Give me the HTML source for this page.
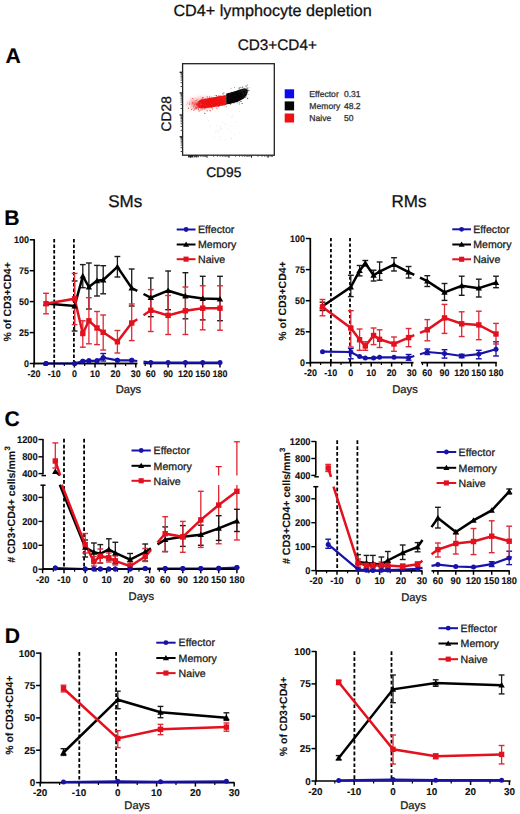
<!DOCTYPE html>
<html><head><meta charset="utf-8"><style>html,body{margin:0;padding:0;background:#fff;}svg{display:block;}</style></head>
<body><svg width="520" height="814" viewBox="0 0 520 814" font-family="Liberation Sans, sans-serif" text-rendering="geometricPrecision">
<rect width="520" height="814" fill="#fff"/>
<text x="272.6" y="15.8" font-size="16.2" font-weight="400" text-anchor="middle" fill="#111" stroke="#111" stroke-width="0.28" >CD4+ lymphocyte depletion</text>
<text x="277.3" y="50.0" font-size="15.3" font-weight="400" text-anchor="middle" fill="#111" stroke="#111" stroke-width="0.28" >CD3+CD4+</text>
<text x="5.6" y="62.6" font-size="21.2" font-weight="700" text-anchor="start" fill="#000" stroke="#000" stroke-width="0.12" >A</text>
<text x="4.3" y="225.0" font-size="21.2" font-weight="700" text-anchor="start" fill="#000" stroke="#000" stroke-width="0.12" >B</text>
<text x="4.5" y="426.0" font-size="21.2" font-weight="700" text-anchor="start" fill="#000" stroke="#000" stroke-width="0.12" >C</text>
<text x="4.7" y="642.6" font-size="21.2" font-weight="700" text-anchor="start" fill="#000" stroke="#000" stroke-width="0.12" >D</text>
<text x="125.2" y="206.9" font-size="17" font-weight="400" text-anchor="middle" fill="#111" stroke="#111" stroke-width="0.28" >SMs</text>
<text x="409.0" y="206.7" font-size="17" font-weight="400" text-anchor="middle" fill="#111" stroke="#111" stroke-width="0.28" >RMs</text>
<rect x="182.6" y="63.7" width="91.7" height="91.5" fill="none" stroke="#222" stroke-width="1.3"/>
<line x1="179.6" y1="72.3" x2="182.6" y2="72.3" stroke="#111" stroke-width="1.3" />
<line x1="179.6" y1="93.0" x2="182.6" y2="93.0" stroke="#111" stroke-width="1.3" />
<line x1="179.6" y1="115.0" x2="182.6" y2="115.0" stroke="#111" stroke-width="1.3" />
<line x1="179.6" y1="136.8" x2="182.6" y2="136.8" stroke="#111" stroke-width="1.3" />
<line x1="180.6" y1="86.5" x2="182.6" y2="86.5" stroke="#333" stroke-width="0.9" />
<line x1="180.6" y1="82.7" x2="182.6" y2="82.7" stroke="#333" stroke-width="0.9" />
<line x1="180.6" y1="80.1" x2="182.6" y2="80.1" stroke="#333" stroke-width="0.9" />
<line x1="180.6" y1="78.0" x2="182.6" y2="78.0" stroke="#333" stroke-width="0.9" />
<line x1="180.6" y1="76.3" x2="182.6" y2="76.3" stroke="#333" stroke-width="0.9" />
<line x1="180.6" y1="74.8" x2="182.6" y2="74.8" stroke="#333" stroke-width="0.9" />
<line x1="180.6" y1="73.6" x2="182.6" y2="73.6" stroke="#333" stroke-width="0.9" />
<line x1="180.6" y1="72.5" x2="182.6" y2="72.5" stroke="#333" stroke-width="0.9" />
<line x1="180.6" y1="108.5" x2="182.6" y2="108.5" stroke="#333" stroke-width="0.9" />
<line x1="180.6" y1="104.7" x2="182.6" y2="104.7" stroke="#333" stroke-width="0.9" />
<line x1="180.6" y1="102.1" x2="182.6" y2="102.1" stroke="#333" stroke-width="0.9" />
<line x1="180.6" y1="100.0" x2="182.6" y2="100.0" stroke="#333" stroke-width="0.9" />
<line x1="180.6" y1="98.3" x2="182.6" y2="98.3" stroke="#333" stroke-width="0.9" />
<line x1="180.6" y1="96.8" x2="182.6" y2="96.8" stroke="#333" stroke-width="0.9" />
<line x1="180.6" y1="95.6" x2="182.6" y2="95.6" stroke="#333" stroke-width="0.9" />
<line x1="180.6" y1="94.5" x2="182.6" y2="94.5" stroke="#333" stroke-width="0.9" />
<line x1="180.6" y1="130.3" x2="182.6" y2="130.3" stroke="#333" stroke-width="0.9" />
<line x1="180.6" y1="126.5" x2="182.6" y2="126.5" stroke="#333" stroke-width="0.9" />
<line x1="180.6" y1="123.9" x2="182.6" y2="123.9" stroke="#333" stroke-width="0.9" />
<line x1="180.6" y1="121.8" x2="182.6" y2="121.8" stroke="#333" stroke-width="0.9" />
<line x1="180.6" y1="120.1" x2="182.6" y2="120.1" stroke="#333" stroke-width="0.9" />
<line x1="180.6" y1="118.6" x2="182.6" y2="118.6" stroke="#333" stroke-width="0.9" />
<line x1="180.6" y1="117.4" x2="182.6" y2="117.4" stroke="#333" stroke-width="0.9" />
<line x1="180.6" y1="116.3" x2="182.6" y2="116.3" stroke="#333" stroke-width="0.9" />
<line x1="180.6" y1="151.5" x2="182.6" y2="151.5" stroke="#333" stroke-width="0.9" />
<line x1="180.6" y1="147.7" x2="182.6" y2="147.7" stroke="#333" stroke-width="0.9" />
<line x1="180.6" y1="145.1" x2="182.6" y2="145.1" stroke="#333" stroke-width="0.9" />
<line x1="180.6" y1="143.0" x2="182.6" y2="143.0" stroke="#333" stroke-width="0.9" />
<line x1="180.6" y1="141.3" x2="182.6" y2="141.3" stroke="#333" stroke-width="0.9" />
<line x1="180.6" y1="139.8" x2="182.6" y2="139.8" stroke="#333" stroke-width="0.9" />
<line x1="180.6" y1="138.6" x2="182.6" y2="138.6" stroke="#333" stroke-width="0.9" />
<line x1="180.6" y1="137.5" x2="182.6" y2="137.5" stroke="#333" stroke-width="0.9" />
<line x1="190.5" y1="155.2" x2="190.5" y2="157.8" stroke="#222" stroke-width="1.0" />
<line x1="207.0" y1="155.2" x2="207.0" y2="157.8" stroke="#222" stroke-width="1.0" />
<line x1="229.0" y1="155.2" x2="229.0" y2="157.8" stroke="#222" stroke-width="1.0" />
<line x1="251.5" y1="155.2" x2="251.5" y2="157.8" stroke="#222" stroke-width="1.0" />
<line x1="268.0" y1="155.2" x2="268.0" y2="157.8" stroke="#222" stroke-width="1.0" />
<line x1="195.5" y1="155.2" x2="195.5" y2="156.8" stroke="#333" stroke-width="0.8" />
<line x1="198.4" y1="155.2" x2="198.4" y2="156.8" stroke="#333" stroke-width="0.8" />
<line x1="200.4" y1="155.2" x2="200.4" y2="156.8" stroke="#333" stroke-width="0.8" />
<line x1="202.0" y1="155.2" x2="202.0" y2="156.8" stroke="#333" stroke-width="0.8" />
<line x1="203.3" y1="155.2" x2="203.3" y2="156.8" stroke="#333" stroke-width="0.8" />
<line x1="204.4" y1="155.2" x2="204.4" y2="156.8" stroke="#333" stroke-width="0.8" />
<line x1="205.4" y1="155.2" x2="205.4" y2="156.8" stroke="#333" stroke-width="0.8" />
<line x1="206.2" y1="155.2" x2="206.2" y2="156.8" stroke="#333" stroke-width="0.8" />
<line x1="213.6" y1="155.2" x2="213.6" y2="156.8" stroke="#333" stroke-width="0.8" />
<line x1="217.5" y1="155.2" x2="217.5" y2="156.8" stroke="#333" stroke-width="0.8" />
<line x1="220.2" y1="155.2" x2="220.2" y2="156.8" stroke="#333" stroke-width="0.8" />
<line x1="222.4" y1="155.2" x2="222.4" y2="156.8" stroke="#333" stroke-width="0.8" />
<line x1="224.1" y1="155.2" x2="224.1" y2="156.8" stroke="#333" stroke-width="0.8" />
<line x1="225.6" y1="155.2" x2="225.6" y2="156.8" stroke="#333" stroke-width="0.8" />
<line x1="226.9" y1="155.2" x2="226.9" y2="156.8" stroke="#333" stroke-width="0.8" />
<line x1="228.0" y1="155.2" x2="228.0" y2="156.8" stroke="#333" stroke-width="0.8" />
<line x1="235.6" y1="155.2" x2="235.6" y2="156.8" stroke="#333" stroke-width="0.8" />
<line x1="239.5" y1="155.2" x2="239.5" y2="156.8" stroke="#333" stroke-width="0.8" />
<line x1="242.2" y1="155.2" x2="242.2" y2="156.8" stroke="#333" stroke-width="0.8" />
<line x1="244.4" y1="155.2" x2="244.4" y2="156.8" stroke="#333" stroke-width="0.8" />
<line x1="246.1" y1="155.2" x2="246.1" y2="156.8" stroke="#333" stroke-width="0.8" />
<line x1="247.6" y1="155.2" x2="247.6" y2="156.8" stroke="#333" stroke-width="0.8" />
<line x1="248.9" y1="155.2" x2="248.9" y2="156.8" stroke="#333" stroke-width="0.8" />
<line x1="250.0" y1="155.2" x2="250.0" y2="156.8" stroke="#333" stroke-width="0.8" />
<line x1="258.1" y1="155.2" x2="258.1" y2="156.8" stroke="#333" stroke-width="0.8" />
<line x1="262.0" y1="155.2" x2="262.0" y2="156.8" stroke="#333" stroke-width="0.8" />
<line x1="264.7" y1="155.2" x2="264.7" y2="156.8" stroke="#333" stroke-width="0.8" />
<line x1="266.9" y1="155.2" x2="266.9" y2="156.8" stroke="#333" stroke-width="0.8" />
<line x1="268.6" y1="155.2" x2="268.6" y2="156.8" stroke="#333" stroke-width="0.8" />
<line x1="270.1" y1="155.2" x2="270.1" y2="156.8" stroke="#333" stroke-width="0.8" />
<line x1="271.4" y1="155.2" x2="271.4" y2="156.8" stroke="#333" stroke-width="0.8" />
<line x1="272.5" y1="155.2" x2="272.5" y2="156.8" stroke="#333" stroke-width="0.8" />
<line x1="188.5" y1="155.2" x2="188.5" y2="157.4" stroke="#111" stroke-width="0.9" />
<line x1="189.5" y1="155.2" x2="189.5" y2="157.4" stroke="#111" stroke-width="0.9" />
<line x1="191.5" y1="155.2" x2="191.5" y2="157.4" stroke="#111" stroke-width="0.9" />
<line x1="192.5" y1="155.2" x2="192.5" y2="157.4" stroke="#111" stroke-width="0.9" />
<line x1="194.0" y1="155.2" x2="194.0" y2="157.4" stroke="#111" stroke-width="0.9" />
<line x1="195.0" y1="155.2" x2="195.0" y2="157.4" stroke="#111" stroke-width="0.9" />
<line x1="196.5" y1="155.2" x2="196.5" y2="157.4" stroke="#111" stroke-width="0.9" />
<line x1="198.0" y1="155.2" x2="198.0" y2="157.4" stroke="#111" stroke-width="0.9" />
<defs><filter id="fb1" x="-20%" y="-50%" width="140%" height="200%"><feGaussianBlur stdDeviation="0.7"/></filter><filter id="fb2" x="-30%" y="-80%" width="160%" height="260%"><feGaussianBlur stdDeviation="2.2"/></filter><clipPath id="cr"><rect x="180" y="80" width="46.4" height="40"/></clipPath><clipPath id="cb"><rect x="226.2" y="80" width="30" height="40"/></clipPath></defs>
<g clip-path="url(#cr)"><ellipse cx="203" cy="103.3" rx="14" ry="5.2" fill="#f25050" fill-opacity="0.55" filter="url(#fb2)"/><path d="M201,99.8 C207,98.4 214,97 220,95.9 L226.6,94.9 L226.6,105 C220,105.9 212,107.2 205,108.3 C199.5,109 196.5,107.2 197.2,104.2 C197.7,101.8 199,100.3 201,99.8Z" fill="#f01414" filter="url(#fb1)"/></g>
<g clip-path="url(#cb)"><path d="M225.5,93.8 C231,92.2 237,90.6 242,89.2 C245,88.4 247.5,88.6 247.8,90.5 C248,93 246,96.5 243.5,98.8 C240.5,100.8 237,102 233,103 C230,103.8 228,104.3 225.5,104.6Z" fill="#070707" filter="url(#fb1)"/></g>
<g><circle cx="199.6" cy="105.5" r="0.58" fill="#ee1111" fill-opacity="0.9"/><circle cx="200.1" cy="105.0" r="0.50" fill="#ee1111" fill-opacity="0.9"/><circle cx="214.1" cy="105.1" r="0.51" fill="#ee1111" fill-opacity="0.9"/><circle cx="211.0" cy="101.2" r="0.43" fill="#ee1111" fill-opacity="0.9"/><circle cx="223.0" cy="103.2" r="0.52" fill="#ee1111" fill-opacity="0.9"/><circle cx="222.1" cy="99.6" r="0.50" fill="#ee1111" fill-opacity="0.9"/><circle cx="210.8" cy="102.9" r="0.48" fill="#ee1111" fill-opacity="0.9"/><circle cx="215.1" cy="102.4" r="0.41" fill="#ee1111" fill-opacity="0.9"/><circle cx="219.3" cy="101.6" r="0.46" fill="#ee1111" fill-opacity="0.9"/><circle cx="215.6" cy="98.7" r="0.51" fill="#ee1111" fill-opacity="0.9"/><circle cx="197.5" cy="104.7" r="0.46" fill="#ee1111" fill-opacity="0.9"/><circle cx="204.8" cy="113.4" r="0.60" fill="#ee1111" fill-opacity="0.9"/><circle cx="217.2" cy="97.5" r="0.43" fill="#ee1111" fill-opacity="0.9"/><circle cx="210.9" cy="104.8" r="0.37" fill="#ee1111" fill-opacity="0.9"/><circle cx="210.9" cy="99.5" r="0.56" fill="#ee1111" fill-opacity="0.9"/><circle cx="193.8" cy="110.1" r="0.56" fill="#ee1111" fill-opacity="0.9"/><circle cx="215.8" cy="101.6" r="0.58" fill="#ee1111" fill-opacity="0.9"/><circle cx="207.4" cy="103.7" r="0.51" fill="#ee1111" fill-opacity="0.9"/><circle cx="211.2" cy="100.1" r="0.37" fill="#ee1111" fill-opacity="0.9"/><circle cx="199.1" cy="110.9" r="0.54" fill="#ee1111" fill-opacity="0.9"/><circle cx="214.7" cy="103.3" r="0.38" fill="#ee1111" fill-opacity="0.9"/><circle cx="224.1" cy="102.1" r="0.39" fill="#ee1111" fill-opacity="0.9"/><circle cx="201.4" cy="102.9" r="0.40" fill="#ee1111" fill-opacity="0.9"/><circle cx="209.5" cy="101.2" r="0.51" fill="#ee1111" fill-opacity="0.9"/><circle cx="216.6" cy="103.5" r="0.40" fill="#ee1111" fill-opacity="0.9"/><circle cx="207.2" cy="110.7" r="0.55" fill="#ee1111" fill-opacity="0.9"/><circle cx="204.1" cy="109.3" r="0.40" fill="#ee1111" fill-opacity="0.9"/><circle cx="196.9" cy="108.3" r="0.51" fill="#ee1111" fill-opacity="0.9"/><circle cx="211.5" cy="104.5" r="0.54" fill="#ee1111" fill-opacity="0.9"/><circle cx="206.6" cy="105.3" r="0.37" fill="#ee1111" fill-opacity="0.9"/><circle cx="219.5" cy="103.0" r="0.41" fill="#ee1111" fill-opacity="0.9"/><circle cx="203.4" cy="102.1" r="0.46" fill="#ee1111" fill-opacity="0.9"/><circle cx="219.5" cy="100.1" r="0.49" fill="#ee1111" fill-opacity="0.9"/><circle cx="213.6" cy="100.6" r="0.39" fill="#ee1111" fill-opacity="0.9"/><circle cx="223.2" cy="97.5" r="0.41" fill="#ee1111" fill-opacity="0.9"/><circle cx="215.1" cy="106.1" r="0.59" fill="#ee1111" fill-opacity="0.9"/><circle cx="216.9" cy="108.1" r="0.57" fill="#ee1111" fill-opacity="0.9"/><circle cx="202.9" cy="102.0" r="0.38" fill="#ee1111" fill-opacity="0.9"/><circle cx="211.0" cy="107.0" r="0.41" fill="#ee1111" fill-opacity="0.9"/><circle cx="215.1" cy="98.2" r="0.42" fill="#ee1111" fill-opacity="0.9"/><circle cx="216.1" cy="105.7" r="0.37" fill="#ee1111" fill-opacity="0.9"/><circle cx="211.5" cy="106.0" r="0.56" fill="#ee1111" fill-opacity="0.9"/><circle cx="204.8" cy="101.9" r="0.58" fill="#ee1111" fill-opacity="0.9"/><circle cx="210.4" cy="103.0" r="0.42" fill="#ee1111" fill-opacity="0.9"/><circle cx="207.2" cy="103.4" r="0.39" fill="#ee1111" fill-opacity="0.9"/><circle cx="202.5" cy="106.7" r="0.38" fill="#ee1111" fill-opacity="0.9"/><circle cx="198.4" cy="109.2" r="0.60" fill="#ee1111" fill-opacity="0.9"/><circle cx="202.8" cy="100.1" r="0.50" fill="#ee1111" fill-opacity="0.9"/><circle cx="211.4" cy="103.0" r="0.35" fill="#ee1111" fill-opacity="0.9"/><circle cx="221.2" cy="98.3" r="0.59" fill="#ee1111" fill-opacity="0.9"/><circle cx="222.0" cy="101.1" r="0.47" fill="#ee1111" fill-opacity="0.9"/><circle cx="209.1" cy="100.2" r="0.60" fill="#ee1111" fill-opacity="0.9"/><circle cx="219.5" cy="102.6" r="0.53" fill="#ee1111" fill-opacity="0.9"/><circle cx="221.3" cy="97.9" r="0.53" fill="#ee1111" fill-opacity="0.9"/><circle cx="215.1" cy="95.5" r="0.44" fill="#ee1111" fill-opacity="0.9"/><circle cx="202.8" cy="98.1" r="0.57" fill="#ee1111" fill-opacity="0.9"/><circle cx="197.0" cy="107.4" r="0.57" fill="#ee1111" fill-opacity="0.9"/><circle cx="199.3" cy="102.6" r="0.45" fill="#ee1111" fill-opacity="0.9"/><circle cx="199.9" cy="102.3" r="0.37" fill="#ee1111" fill-opacity="0.9"/><circle cx="192.8" cy="98.5" r="0.57" fill="#ee1111" fill-opacity="0.9"/><circle cx="208.8" cy="99.9" r="0.53" fill="#ee1111" fill-opacity="0.9"/><circle cx="202.0" cy="102.4" r="0.56" fill="#ee1111" fill-opacity="0.9"/><circle cx="222.2" cy="102.9" r="0.36" fill="#ee1111" fill-opacity="0.9"/><circle cx="202.2" cy="102.0" r="0.41" fill="#ee1111" fill-opacity="0.9"/><circle cx="206.8" cy="99.9" r="0.50" fill="#ee1111" fill-opacity="0.9"/><circle cx="215.7" cy="100.6" r="0.35" fill="#ee1111" fill-opacity="0.9"/><circle cx="206.0" cy="107.4" r="0.40" fill="#ee1111" fill-opacity="0.9"/><circle cx="218.9" cy="106.6" r="0.51" fill="#ee1111" fill-opacity="0.9"/><circle cx="193.3" cy="107.6" r="0.43" fill="#ee1111" fill-opacity="0.9"/><circle cx="207.1" cy="101.4" r="0.46" fill="#ee1111" fill-opacity="0.9"/><circle cx="216.5" cy="95.5" r="0.57" fill="#ee1111" fill-opacity="0.9"/><circle cx="201.6" cy="106.6" r="0.43" fill="#ee1111" fill-opacity="0.9"/><circle cx="216.5" cy="104.1" r="0.56" fill="#ee1111" fill-opacity="0.9"/><circle cx="217.8" cy="97.6" r="0.59" fill="#ee1111" fill-opacity="0.9"/><circle cx="209.1" cy="104.5" r="0.46" fill="#ee1111" fill-opacity="0.9"/><circle cx="209.1" cy="104.7" r="0.45" fill="#ee1111" fill-opacity="0.9"/><circle cx="203.0" cy="101.4" r="0.43" fill="#ee1111" fill-opacity="0.9"/><circle cx="222.8" cy="93.5" r="0.46" fill="#ee1111" fill-opacity="0.9"/><circle cx="211.9" cy="102.6" r="0.57" fill="#ee1111" fill-opacity="0.9"/><circle cx="222.9" cy="101.6" r="0.49" fill="#ee1111" fill-opacity="0.9"/><circle cx="204.5" cy="108.3" r="0.35" fill="#ee1111" fill-opacity="0.9"/><circle cx="216.2" cy="104.0" r="0.36" fill="#ee1111" fill-opacity="0.9"/><circle cx="213.0" cy="100.2" r="0.39" fill="#ee1111" fill-opacity="0.9"/><circle cx="221.5" cy="101.8" r="0.46" fill="#ee1111" fill-opacity="0.9"/><circle cx="201.5" cy="101.0" r="0.55" fill="#ee1111" fill-opacity="0.9"/><circle cx="222.5" cy="99.3" r="0.40" fill="#ee1111" fill-opacity="0.9"/><circle cx="204.7" cy="103.8" r="0.35" fill="#ee1111" fill-opacity="0.9"/><circle cx="196.8" cy="105.6" r="0.39" fill="#ee1111" fill-opacity="0.9"/><circle cx="208.9" cy="105.4" r="0.52" fill="#ee1111" fill-opacity="0.9"/><circle cx="198.4" cy="104.1" r="0.54" fill="#ee1111" fill-opacity="0.9"/><circle cx="198.2" cy="107.8" r="0.58" fill="#ee1111" fill-opacity="0.9"/><circle cx="209.2" cy="101.2" r="0.46" fill="#ee1111" fill-opacity="0.9"/><circle cx="196.9" cy="100.3" r="0.44" fill="#ee1111" fill-opacity="0.9"/><circle cx="194.1" cy="102.8" r="0.55" fill="#ee1111" fill-opacity="0.9"/><circle cx="218.9" cy="100.0" r="0.51" fill="#ee1111" fill-opacity="0.9"/><circle cx="213.8" cy="106.4" r="0.55" fill="#ee1111" fill-opacity="0.9"/><circle cx="201.5" cy="100.5" r="0.40" fill="#ee1111" fill-opacity="0.9"/><circle cx="220.4" cy="100.3" r="0.55" fill="#ee1111" fill-opacity="0.9"/><circle cx="202.0" cy="109.7" r="0.56" fill="#ee1111" fill-opacity="0.9"/><circle cx="208.0" cy="103.9" r="0.46" fill="#ee1111" fill-opacity="0.9"/><circle cx="196.2" cy="103.4" r="0.47" fill="#ee1111" fill-opacity="0.9"/><circle cx="225.2" cy="100.9" r="0.37" fill="#ee1111" fill-opacity="0.9"/><circle cx="211.6" cy="100.6" r="0.43" fill="#ee1111" fill-opacity="0.9"/><circle cx="211.1" cy="100.9" r="0.39" fill="#ee1111" fill-opacity="0.9"/><circle cx="196.4" cy="104.4" r="0.56" fill="#ee1111" fill-opacity="0.9"/><circle cx="202.4" cy="97.4" r="0.47" fill="#ee1111" fill-opacity="0.9"/><circle cx="213.4" cy="101.6" r="0.41" fill="#ee1111" fill-opacity="0.9"/><circle cx="203.1" cy="103.4" r="0.53" fill="#ee1111" fill-opacity="0.9"/><circle cx="203.4" cy="101.0" r="0.56" fill="#ee1111" fill-opacity="0.9"/><circle cx="203.2" cy="102.8" r="0.45" fill="#ee1111" fill-opacity="0.9"/><circle cx="220.3" cy="95.7" r="0.40" fill="#ee1111" fill-opacity="0.9"/><circle cx="223.2" cy="94.2" r="0.48" fill="#ee1111" fill-opacity="0.9"/><circle cx="204.9" cy="102.6" r="0.48" fill="#ee1111" fill-opacity="0.9"/><circle cx="198.4" cy="104.5" r="0.36" fill="#ee1111" fill-opacity="0.9"/><circle cx="220.1" cy="100.2" r="0.45" fill="#ee1111" fill-opacity="0.9"/><circle cx="213.4" cy="98.5" r="0.47" fill="#ee1111" fill-opacity="0.9"/><circle cx="208.9" cy="101.8" r="0.48" fill="#ee1111" fill-opacity="0.9"/><circle cx="191.7" cy="109.5" r="0.58" fill="#ee1111" fill-opacity="0.9"/><circle cx="208.8" cy="106.1" r="0.38" fill="#ee1111" fill-opacity="0.9"/><circle cx="195.7" cy="107.2" r="0.58" fill="#ee1111" fill-opacity="0.9"/><circle cx="202.7" cy="104.2" r="0.40" fill="#ee1111" fill-opacity="0.9"/><circle cx="195.7" cy="100.6" r="0.38" fill="#ee1111" fill-opacity="0.9"/><circle cx="210.3" cy="101.9" r="0.40" fill="#ee1111" fill-opacity="0.9"/><circle cx="211.8" cy="106.7" r="0.43" fill="#ee1111" fill-opacity="0.9"/><circle cx="202.7" cy="107.0" r="0.38" fill="#ee1111" fill-opacity="0.9"/><circle cx="209.5" cy="101.2" r="0.48" fill="#ee1111" fill-opacity="0.9"/><circle cx="210.0" cy="104.5" r="0.48" fill="#ee1111" fill-opacity="0.9"/><circle cx="202.4" cy="105.0" r="0.45" fill="#ee1111" fill-opacity="0.9"/><circle cx="205.1" cy="103.1" r="0.40" fill="#ee1111" fill-opacity="0.9"/><circle cx="201.8" cy="101.0" r="0.48" fill="#ee1111" fill-opacity="0.9"/><circle cx="216.9" cy="98.2" r="0.56" fill="#ee1111" fill-opacity="0.9"/><circle cx="211.5" cy="107.1" r="0.55" fill="#ee1111" fill-opacity="0.9"/><circle cx="216.1" cy="100.1" r="0.43" fill="#ee1111" fill-opacity="0.9"/><circle cx="215.3" cy="100.8" r="0.60" fill="#ee1111" fill-opacity="0.9"/><circle cx="213.5" cy="101.0" r="0.41" fill="#ee1111" fill-opacity="0.9"/><circle cx="209.0" cy="100.5" r="0.37" fill="#ee1111" fill-opacity="0.9"/><circle cx="214.4" cy="99.2" r="0.55" fill="#ee1111" fill-opacity="0.9"/><circle cx="216.1" cy="103.7" r="0.52" fill="#ee1111" fill-opacity="0.9"/><circle cx="215.7" cy="101.9" r="0.52" fill="#ee1111" fill-opacity="0.9"/><circle cx="217.6" cy="103.6" r="0.54" fill="#ee1111" fill-opacity="0.9"/><circle cx="197.1" cy="104.7" r="0.40" fill="#ee1111" fill-opacity="0.9"/><circle cx="213.6" cy="102.6" r="0.36" fill="#ee1111" fill-opacity="0.9"/><circle cx="200.3" cy="103.1" r="0.49" fill="#ee1111" fill-opacity="0.9"/><circle cx="213.3" cy="103.5" r="0.40" fill="#ee1111" fill-opacity="0.9"/><circle cx="223.9" cy="92.8" r="0.58" fill="#ee1111" fill-opacity="0.9"/><circle cx="212.5" cy="102.8" r="0.59" fill="#ee1111" fill-opacity="0.9"/><circle cx="195.9" cy="106.2" r="0.43" fill="#ee1111" fill-opacity="0.9"/><circle cx="200.0" cy="105.0" r="0.46" fill="#ee1111" fill-opacity="0.9"/><circle cx="208.9" cy="102.5" r="0.53" fill="#ee1111" fill-opacity="0.9"/><circle cx="213.0" cy="100.6" r="0.46" fill="#ee1111" fill-opacity="0.9"/><circle cx="209.4" cy="99.7" r="0.40" fill="#ee1111" fill-opacity="0.9"/><circle cx="215.2" cy="104.7" r="0.35" fill="#ee1111" fill-opacity="0.9"/><circle cx="222.0" cy="97.3" r="0.53" fill="#ee1111" fill-opacity="0.9"/><circle cx="217.7" cy="98.2" r="0.45" fill="#ee1111" fill-opacity="0.9"/><circle cx="201.8" cy="102.0" r="0.60" fill="#ee1111" fill-opacity="0.9"/><circle cx="212.2" cy="100.1" r="0.58" fill="#ee1111" fill-opacity="0.9"/><circle cx="209.5" cy="97.7" r="0.55" fill="#ee1111" fill-opacity="0.9"/><circle cx="195.0" cy="108.6" r="0.57" fill="#ee1111" fill-opacity="0.9"/><circle cx="205.1" cy="98.8" r="0.54" fill="#ee1111" fill-opacity="0.9"/><circle cx="198.7" cy="107.1" r="0.37" fill="#ee1111" fill-opacity="0.9"/><circle cx="204.8" cy="106.2" r="0.35" fill="#ee1111" fill-opacity="0.9"/><circle cx="202.5" cy="107.1" r="0.51" fill="#ee1111" fill-opacity="0.9"/><circle cx="212.3" cy="109.1" r="0.52" fill="#ee1111" fill-opacity="0.9"/><circle cx="203.5" cy="107.3" r="0.49" fill="#ee1111" fill-opacity="0.9"/><circle cx="201.7" cy="103.4" r="0.60" fill="#ee1111" fill-opacity="0.9"/><circle cx="201.7" cy="100.5" r="0.54" fill="#ee1111" fill-opacity="0.9"/><circle cx="211.8" cy="102.2" r="0.50" fill="#ee1111" fill-opacity="0.9"/><circle cx="209.5" cy="100.5" r="0.45" fill="#ee1111" fill-opacity="0.9"/><circle cx="215.3" cy="102.3" r="0.44" fill="#ee1111" fill-opacity="0.9"/><circle cx="215.3" cy="103.0" r="0.58" fill="#ee1111" fill-opacity="0.9"/><circle cx="200.4" cy="103.2" r="0.59" fill="#ee1111" fill-opacity="0.9"/><circle cx="200.0" cy="100.3" r="0.37" fill="#ee1111" fill-opacity="0.9"/><circle cx="198.3" cy="101.8" r="0.36" fill="#ee1111" fill-opacity="0.9"/><circle cx="214.5" cy="101.1" r="0.47" fill="#ee1111" fill-opacity="0.9"/><circle cx="214.8" cy="104.7" r="0.50" fill="#ee1111" fill-opacity="0.9"/><circle cx="200.9" cy="105.8" r="0.50" fill="#ee1111" fill-opacity="0.9"/><circle cx="205.4" cy="105.2" r="0.51" fill="#ee1111" fill-opacity="0.9"/><circle cx="203.6" cy="102.8" r="0.53" fill="#ee1111" fill-opacity="0.9"/><circle cx="209.6" cy="103.1" r="0.41" fill="#ee1111" fill-opacity="0.9"/><circle cx="214.8" cy="102.2" r="0.54" fill="#ee1111" fill-opacity="0.9"/><circle cx="196.0" cy="108.9" r="0.54" fill="#ee1111" fill-opacity="0.9"/><circle cx="213.1" cy="101.7" r="0.58" fill="#ee1111" fill-opacity="0.9"/><circle cx="201.2" cy="105.5" r="0.59" fill="#ee1111" fill-opacity="0.9"/><circle cx="210.4" cy="106.1" r="0.58" fill="#ee1111" fill-opacity="0.9"/><circle cx="208.4" cy="99.7" r="0.59" fill="#ee1111" fill-opacity="0.9"/><circle cx="214.7" cy="98.2" r="0.38" fill="#ee1111" fill-opacity="0.9"/><circle cx="203.3" cy="101.5" r="0.40" fill="#ee1111" fill-opacity="0.9"/><circle cx="219.9" cy="102.1" r="0.38" fill="#ee1111" fill-opacity="0.9"/><circle cx="198.2" cy="106.1" r="0.46" fill="#ee1111" fill-opacity="0.9"/><circle cx="209.1" cy="106.6" r="0.45" fill="#ee1111" fill-opacity="0.9"/><circle cx="211.8" cy="98.8" r="0.60" fill="#ee1111" fill-opacity="0.9"/><circle cx="223.2" cy="99.0" r="0.41" fill="#ee1111" fill-opacity="0.9"/><circle cx="223.6" cy="104.3" r="0.55" fill="#ee1111" fill-opacity="0.9"/><circle cx="204.3" cy="101.6" r="0.42" fill="#ee1111" fill-opacity="0.9"/><circle cx="205.6" cy="99.9" r="0.50" fill="#ee1111" fill-opacity="0.9"/><circle cx="200.5" cy="100.6" r="0.40" fill="#ee1111" fill-opacity="0.9"/><circle cx="210.2" cy="110.7" r="0.58" fill="#ee1111" fill-opacity="0.9"/><circle cx="211.7" cy="101.7" r="0.37" fill="#ee1111" fill-opacity="0.9"/><circle cx="208.8" cy="105.8" r="0.51" fill="#ee1111" fill-opacity="0.9"/><circle cx="218.5" cy="103.3" r="0.37" fill="#ee1111" fill-opacity="0.9"/><circle cx="220.9" cy="103.0" r="0.49" fill="#ee1111" fill-opacity="0.9"/><circle cx="204.4" cy="101.5" r="0.47" fill="#ee1111" fill-opacity="0.9"/><circle cx="211.9" cy="104.9" r="0.54" fill="#ee1111" fill-opacity="0.9"/><circle cx="211.8" cy="101.3" r="0.38" fill="#ee1111" fill-opacity="0.9"/><circle cx="214.3" cy="98.1" r="0.54" fill="#ee1111" fill-opacity="0.9"/><circle cx="212.0" cy="105.2" r="0.41" fill="#ee1111" fill-opacity="0.9"/><circle cx="213.0" cy="99.5" r="0.51" fill="#ee1111" fill-opacity="0.9"/><circle cx="217.5" cy="101.1" r="0.49" fill="#ee1111" fill-opacity="0.9"/><circle cx="209.5" cy="96.2" r="0.46" fill="#ee1111" fill-opacity="0.9"/><circle cx="207.4" cy="104.0" r="0.57" fill="#ee1111" fill-opacity="0.9"/><circle cx="213.1" cy="102.6" r="0.49" fill="#ee1111" fill-opacity="0.9"/><circle cx="197.1" cy="105.2" r="0.42" fill="#ee1111" fill-opacity="0.9"/><circle cx="210.5" cy="101.4" r="0.40" fill="#ee1111" fill-opacity="0.9"/><circle cx="208.2" cy="101.9" r="0.43" fill="#ee1111" fill-opacity="0.9"/><circle cx="208.0" cy="98.5" r="0.42" fill="#ee1111" fill-opacity="0.9"/><circle cx="215.0" cy="103.9" r="0.53" fill="#ee1111" fill-opacity="0.9"/><circle cx="207.2" cy="104.2" r="0.53" fill="#ee1111" fill-opacity="0.9"/><circle cx="192.7" cy="102.8" r="0.58" fill="#ee1111" fill-opacity="0.9"/><circle cx="217.8" cy="99.7" r="0.55" fill="#ee1111" fill-opacity="0.9"/><circle cx="207.5" cy="105.4" r="0.45" fill="#ee1111" fill-opacity="0.9"/><circle cx="210.1" cy="105.3" r="0.44" fill="#ee1111" fill-opacity="0.9"/><circle cx="204.4" cy="105.8" r="0.45" fill="#ee1111" fill-opacity="0.9"/><circle cx="213.7" cy="105.5" r="0.55" fill="#ee1111" fill-opacity="0.9"/><circle cx="194.3" cy="103.9" r="0.49" fill="#ee1111" fill-opacity="0.9"/><circle cx="216.4" cy="105.9" r="0.57" fill="#ee1111" fill-opacity="0.9"/><circle cx="209.6" cy="103.3" r="0.48" fill="#ee1111" fill-opacity="0.9"/><circle cx="199.4" cy="103.4" r="0.59" fill="#ee1111" fill-opacity="0.9"/><circle cx="201.1" cy="99.9" r="0.37" fill="#ee1111" fill-opacity="0.9"/><circle cx="195.7" cy="103.6" r="0.37" fill="#ee1111" fill-opacity="0.9"/><circle cx="222.1" cy="102.9" r="0.57" fill="#ee1111" fill-opacity="0.9"/><circle cx="220.4" cy="102.9" r="0.39" fill="#ee1111" fill-opacity="0.9"/><circle cx="209.7" cy="98.5" r="0.41" fill="#ee1111" fill-opacity="0.9"/><circle cx="212.7" cy="107.0" r="0.48" fill="#ee1111" fill-opacity="0.9"/><circle cx="210.8" cy="99.6" r="0.43" fill="#ee1111" fill-opacity="0.9"/><circle cx="222.4" cy="99.6" r="0.47" fill="#ee1111" fill-opacity="0.9"/><circle cx="196.8" cy="103.8" r="0.53" fill="#ee1111" fill-opacity="0.9"/><circle cx="217.5" cy="99.8" r="0.56" fill="#ee1111" fill-opacity="0.9"/><circle cx="201.7" cy="99.1" r="0.55" fill="#ee1111" fill-opacity="0.9"/><circle cx="219.0" cy="95.8" r="0.59" fill="#ee1111" fill-opacity="0.9"/><circle cx="203.4" cy="101.0" r="0.53" fill="#ee1111" fill-opacity="0.9"/><circle cx="212.9" cy="99.2" r="0.46" fill="#ee1111" fill-opacity="0.9"/><circle cx="218.5" cy="104.9" r="0.60" fill="#ee1111" fill-opacity="0.9"/><circle cx="206.3" cy="104.5" r="0.40" fill="#ee1111" fill-opacity="0.9"/><circle cx="203.7" cy="104.8" r="0.59" fill="#ee1111" fill-opacity="0.9"/><circle cx="216.8" cy="102.3" r="0.38" fill="#ee1111" fill-opacity="0.9"/><circle cx="201.2" cy="100.1" r="0.39" fill="#ee1111" fill-opacity="0.9"/><circle cx="218.7" cy="102.3" r="0.50" fill="#ee1111" fill-opacity="0.9"/><circle cx="211.9" cy="101.8" r="0.38" fill="#ee1111" fill-opacity="0.9"/><circle cx="212.4" cy="104.1" r="0.41" fill="#ee1111" fill-opacity="0.9"/><circle cx="207.7" cy="99.2" r="0.41" fill="#ee1111" fill-opacity="0.9"/><circle cx="212.7" cy="104.3" r="0.39" fill="#ee1111" fill-opacity="0.9"/><circle cx="210.3" cy="100.0" r="0.49" fill="#ee1111" fill-opacity="0.9"/><circle cx="214.0" cy="98.9" r="0.42" fill="#ee1111" fill-opacity="0.9"/><circle cx="224.3" cy="96.0" r="0.44" fill="#ee1111" fill-opacity="0.9"/><circle cx="189.6" cy="103.9" r="0.47" fill="#ee1111" fill-opacity="0.9"/><circle cx="210.5" cy="103.4" r="0.59" fill="#ee1111" fill-opacity="0.9"/><circle cx="212.7" cy="99.4" r="0.48" fill="#ee1111" fill-opacity="0.9"/><circle cx="203.2" cy="103.5" r="0.60" fill="#ee1111" fill-opacity="0.9"/><circle cx="206.6" cy="101.4" r="0.35" fill="#ee1111" fill-opacity="0.9"/><circle cx="201.9" cy="104.5" r="0.55" fill="#ee1111" fill-opacity="0.9"/><circle cx="207.3" cy="99.2" r="0.39" fill="#ee1111" fill-opacity="0.9"/><circle cx="214.1" cy="104.0" r="0.41" fill="#ee1111" fill-opacity="0.9"/><circle cx="217.0" cy="98.9" r="0.51" fill="#ee1111" fill-opacity="0.9"/><circle cx="216.7" cy="101.4" r="0.48" fill="#ee1111" fill-opacity="0.9"/><circle cx="218.5" cy="105.2" r="0.35" fill="#ee1111" fill-opacity="0.9"/><circle cx="217.1" cy="96.3" r="0.56" fill="#ee1111" fill-opacity="0.9"/><circle cx="215.9" cy="102.7" r="0.53" fill="#ee1111" fill-opacity="0.9"/><circle cx="218.0" cy="103.1" r="0.47" fill="#ee1111" fill-opacity="0.9"/><circle cx="220.9" cy="99.7" r="0.56" fill="#ee1111" fill-opacity="0.9"/><circle cx="205.0" cy="108.3" r="0.45" fill="#ee1111" fill-opacity="0.9"/><circle cx="213.2" cy="101.4" r="0.56" fill="#ee1111" fill-opacity="0.9"/><circle cx="212.7" cy="105.6" r="0.48" fill="#ee1111" fill-opacity="0.9"/><circle cx="218.8" cy="105.7" r="0.43" fill="#ee1111" fill-opacity="0.9"/><circle cx="208.7" cy="103.9" r="0.43" fill="#ee1111" fill-opacity="0.9"/><circle cx="196.8" cy="105.8" r="0.44" fill="#ee1111" fill-opacity="0.9"/><circle cx="208.5" cy="101.6" r="0.45" fill="#ee1111" fill-opacity="0.9"/><circle cx="188.4" cy="108.1" r="0.56" fill="#ee1111" fill-opacity="0.9"/><circle cx="209.2" cy="102.4" r="0.44" fill="#ee1111" fill-opacity="0.9"/><circle cx="208.4" cy="100.8" r="0.49" fill="#ee1111" fill-opacity="0.9"/><circle cx="208.8" cy="102.9" r="0.60" fill="#ee1111" fill-opacity="0.9"/><circle cx="211.8" cy="100.4" r="0.50" fill="#ee1111" fill-opacity="0.9"/><circle cx="207.9" cy="105.7" r="0.48" fill="#ee1111" fill-opacity="0.9"/><circle cx="207.7" cy="105.5" r="0.45" fill="#ee1111" fill-opacity="0.9"/><circle cx="206.7" cy="101.2" r="0.40" fill="#ee1111" fill-opacity="0.9"/><circle cx="209.1" cy="100.2" r="0.59" fill="#ee1111" fill-opacity="0.9"/><circle cx="197.4" cy="103.0" r="0.43" fill="#ee1111" fill-opacity="0.9"/><circle cx="211.7" cy="101.2" r="0.39" fill="#ee1111" fill-opacity="0.9"/><circle cx="220.6" cy="103.2" r="0.53" fill="#ee1111" fill-opacity="0.9"/><circle cx="213.7" cy="104.6" r="0.56" fill="#ee1111" fill-opacity="0.9"/><circle cx="206.9" cy="102.4" r="0.41" fill="#ee1111" fill-opacity="0.9"/><circle cx="212.4" cy="103.4" r="0.45" fill="#ee1111" fill-opacity="0.9"/><circle cx="200.9" cy="105.7" r="0.51" fill="#ee1111" fill-opacity="0.9"/><circle cx="211.7" cy="97.0" r="0.45" fill="#ee1111" fill-opacity="0.9"/><circle cx="205.7" cy="105.9" r="0.35" fill="#ee1111" fill-opacity="0.9"/><circle cx="199.3" cy="107.0" r="0.60" fill="#ee1111" fill-opacity="0.9"/><circle cx="213.1" cy="97.9" r="0.50" fill="#ee1111" fill-opacity="0.9"/><circle cx="217.6" cy="101.6" r="0.44" fill="#ee1111" fill-opacity="0.9"/><circle cx="207.6" cy="101.9" r="0.44" fill="#ee1111" fill-opacity="0.9"/><circle cx="195.0" cy="104.8" r="0.56" fill="#ee1111" fill-opacity="0.9"/><circle cx="206.2" cy="102.2" r="0.54" fill="#ee1111" fill-opacity="0.9"/><circle cx="218.8" cy="99.0" r="0.44" fill="#ee1111" fill-opacity="0.9"/><circle cx="205.3" cy="103.4" r="0.53" fill="#ee1111" fill-opacity="0.9"/><circle cx="220.2" cy="100.6" r="0.53" fill="#ee1111" fill-opacity="0.9"/><circle cx="212.9" cy="100.5" r="0.59" fill="#ee1111" fill-opacity="0.9"/><circle cx="206.1" cy="101.9" r="0.37" fill="#ee1111" fill-opacity="0.9"/><circle cx="210.4" cy="106.3" r="0.52" fill="#ee1111" fill-opacity="0.9"/><circle cx="200.7" cy="110.0" r="0.44" fill="#ee1111" fill-opacity="0.9"/><circle cx="205.7" cy="103.7" r="0.59" fill="#ee1111" fill-opacity="0.9"/><circle cx="222.1" cy="105.3" r="0.49" fill="#ee1111" fill-opacity="0.9"/><circle cx="199.9" cy="102.9" r="0.42" fill="#ee1111" fill-opacity="0.9"/><circle cx="214.7" cy="98.2" r="0.38" fill="#ee1111" fill-opacity="0.9"/><circle cx="213.2" cy="99.9" r="0.57" fill="#ee1111" fill-opacity="0.9"/><circle cx="210.6" cy="106.3" r="0.56" fill="#ee1111" fill-opacity="0.9"/><circle cx="214.2" cy="105.2" r="0.37" fill="#ee1111" fill-opacity="0.9"/><circle cx="215.2" cy="102.1" r="0.60" fill="#ee1111" fill-opacity="0.9"/><circle cx="221.6" cy="99.1" r="0.43" fill="#ee1111" fill-opacity="0.9"/><circle cx="203.4" cy="99.5" r="0.45" fill="#ee1111" fill-opacity="0.9"/><circle cx="197.1" cy="101.9" r="0.35" fill="#ee1111" fill-opacity="0.9"/><circle cx="213.0" cy="105.2" r="0.39" fill="#ee1111" fill-opacity="0.9"/><circle cx="201.7" cy="106.5" r="0.39" fill="#ee1111" fill-opacity="0.9"/><circle cx="203.4" cy="103.4" r="0.49" fill="#ee1111" fill-opacity="0.9"/><circle cx="204.0" cy="107.2" r="0.36" fill="#ee1111" fill-opacity="0.9"/><circle cx="207.7" cy="101.6" r="0.59" fill="#ee1111" fill-opacity="0.9"/><circle cx="202.3" cy="102.0" r="0.45" fill="#ee1111" fill-opacity="0.9"/><circle cx="200.7" cy="101.1" r="0.54" fill="#ee1111" fill-opacity="0.9"/><circle cx="210.1" cy="99.2" r="0.60" fill="#ee1111" fill-opacity="0.9"/><circle cx="218.8" cy="96.3" r="0.45" fill="#ee1111" fill-opacity="0.9"/><circle cx="200.0" cy="105.8" r="0.58" fill="#ee1111" fill-opacity="0.9"/><circle cx="199.8" cy="103.8" r="0.46" fill="#ee1111" fill-opacity="0.9"/><circle cx="216.2" cy="100.1" r="0.36" fill="#ee1111" fill-opacity="0.9"/><circle cx="207.2" cy="96.9" r="0.53" fill="#ee1111" fill-opacity="0.9"/><circle cx="198.4" cy="101.8" r="0.43" fill="#ee1111" fill-opacity="0.9"/><circle cx="207.3" cy="102.4" r="0.38" fill="#ee1111" fill-opacity="0.9"/><circle cx="200.5" cy="105.3" r="0.45" fill="#ee1111" fill-opacity="0.9"/><circle cx="222.4" cy="101.9" r="0.48" fill="#ee1111" fill-opacity="0.9"/><circle cx="210.5" cy="105.0" r="0.45" fill="#ee1111" fill-opacity="0.9"/><circle cx="210.3" cy="103.6" r="0.58" fill="#ee1111" fill-opacity="0.9"/><circle cx="222.3" cy="99.6" r="0.57" fill="#ee1111" fill-opacity="0.9"/><circle cx="196.5" cy="107.4" r="0.41" fill="#ee1111" fill-opacity="0.9"/><circle cx="209.8" cy="98.9" r="0.58" fill="#ee1111" fill-opacity="0.9"/><circle cx="222.3" cy="103.5" r="0.38" fill="#ee1111" fill-opacity="0.9"/><circle cx="189.7" cy="104.4" r="0.35" fill="#ee1111" fill-opacity="0.9"/><circle cx="210.3" cy="105.0" r="0.43" fill="#ee1111" fill-opacity="0.9"/><circle cx="213.4" cy="99.3" r="0.44" fill="#ee1111" fill-opacity="0.9"/><circle cx="207.8" cy="102.5" r="0.36" fill="#ee1111" fill-opacity="0.9"/><circle cx="215.9" cy="100.1" r="0.47" fill="#ee1111" fill-opacity="0.9"/><circle cx="204.3" cy="103.9" r="0.42" fill="#ee1111" fill-opacity="0.9"/><circle cx="226.0" cy="97.0" r="0.40" fill="#ee1111" fill-opacity="0.9"/><circle cx="214.2" cy="99.6" r="0.47" fill="#ee1111" fill-opacity="0.9"/><circle cx="218.2" cy="106.5" r="0.60" fill="#ee1111" fill-opacity="0.9"/><circle cx="213.6" cy="105.9" r="0.40" fill="#ee1111" fill-opacity="0.9"/><circle cx="212.0" cy="101.6" r="0.38" fill="#ee1111" fill-opacity="0.9"/><circle cx="208.9" cy="100.3" r="0.58" fill="#ee1111" fill-opacity="0.9"/><circle cx="219.2" cy="97.7" r="0.38" fill="#ee1111" fill-opacity="0.9"/><circle cx="203.3" cy="97.3" r="0.46" fill="#ee1111" fill-opacity="0.9"/><circle cx="215.3" cy="102.7" r="0.43" fill="#ee1111" fill-opacity="0.9"/><circle cx="208.6" cy="101.0" r="0.40" fill="#ee1111" fill-opacity="0.9"/><circle cx="211.1" cy="106.7" r="0.55" fill="#ee1111" fill-opacity="0.9"/><circle cx="201.3" cy="107.1" r="0.57" fill="#ee1111" fill-opacity="0.9"/><circle cx="204.8" cy="102.4" r="0.43" fill="#ee1111" fill-opacity="0.9"/><circle cx="221.3" cy="98.8" r="0.42" fill="#ee1111" fill-opacity="0.9"/><circle cx="207.6" cy="102.0" r="0.60" fill="#ee1111" fill-opacity="0.9"/><circle cx="200.3" cy="105.6" r="0.48" fill="#ee1111" fill-opacity="0.9"/><circle cx="221.0" cy="101.8" r="0.42" fill="#ee1111" fill-opacity="0.9"/><circle cx="209.9" cy="107.8" r="0.37" fill="#ee1111" fill-opacity="0.9"/><circle cx="194.2" cy="108.8" r="0.41" fill="#f05050" fill-opacity="0.35"/><circle cx="194.9" cy="107.6" r="0.40" fill="#f05050" fill-opacity="0.35"/><circle cx="207.8" cy="97.8" r="0.36" fill="#f05050" fill-opacity="0.35"/><circle cx="187.9" cy="105.9" r="0.45" fill="#f05050" fill-opacity="0.35"/><circle cx="201.3" cy="102.1" r="0.39" fill="#f05050" fill-opacity="0.35"/><circle cx="189.2" cy="103.3" r="0.44" fill="#f05050" fill-opacity="0.35"/><circle cx="191.2" cy="100.4" r="0.48" fill="#f05050" fill-opacity="0.35"/><circle cx="186.3" cy="104.8" r="0.52" fill="#f05050" fill-opacity="0.35"/><circle cx="200.0" cy="107.9" r="0.39" fill="#f05050" fill-opacity="0.35"/><circle cx="193.1" cy="103.0" r="0.46" fill="#f05050" fill-opacity="0.35"/><circle cx="197.3" cy="99.0" r="0.55" fill="#f05050" fill-opacity="0.35"/><circle cx="196.5" cy="107.2" r="0.41" fill="#f05050" fill-opacity="0.35"/><circle cx="190.9" cy="102.9" r="0.36" fill="#f05050" fill-opacity="0.35"/><circle cx="189.5" cy="102.1" r="0.49" fill="#f05050" fill-opacity="0.35"/><circle cx="198.2" cy="102.5" r="0.39" fill="#f05050" fill-opacity="0.35"/><circle cx="201.8" cy="103.8" r="0.46" fill="#f05050" fill-opacity="0.35"/><circle cx="192.4" cy="105.1" r="0.55" fill="#f05050" fill-opacity="0.35"/><circle cx="205.8" cy="105.7" r="0.49" fill="#f05050" fill-opacity="0.35"/><circle cx="187.5" cy="103.5" r="0.41" fill="#f05050" fill-opacity="0.35"/><circle cx="198.6" cy="105.7" r="0.36" fill="#f05050" fill-opacity="0.35"/><circle cx="193.3" cy="107.9" r="0.48" fill="#f05050" fill-opacity="0.35"/><circle cx="195.4" cy="107.8" r="0.37" fill="#f05050" fill-opacity="0.35"/><circle cx="197.3" cy="102.3" r="0.41" fill="#f05050" fill-opacity="0.35"/><circle cx="200.1" cy="107.2" r="0.56" fill="#f05050" fill-opacity="0.35"/><circle cx="196.4" cy="103.0" r="0.45" fill="#f05050" fill-opacity="0.35"/><circle cx="193.7" cy="105.7" r="0.59" fill="#f05050" fill-opacity="0.35"/><circle cx="201.6" cy="104.3" r="0.54" fill="#f05050" fill-opacity="0.35"/><circle cx="198.8" cy="103.6" r="0.46" fill="#f05050" fill-opacity="0.35"/><circle cx="196.0" cy="103.2" r="0.41" fill="#f05050" fill-opacity="0.35"/><circle cx="198.1" cy="102.8" r="0.45" fill="#f05050" fill-opacity="0.35"/><circle cx="194.4" cy="107.0" r="0.37" fill="#f05050" fill-opacity="0.35"/><circle cx="212.3" cy="104.4" r="0.54" fill="#f05050" fill-opacity="0.35"/><circle cx="195.6" cy="102.0" r="0.41" fill="#f05050" fill-opacity="0.35"/><circle cx="192.5" cy="103.7" r="0.47" fill="#f05050" fill-opacity="0.35"/><circle cx="200.3" cy="102.5" r="0.43" fill="#f05050" fill-opacity="0.35"/><circle cx="202.8" cy="102.9" r="0.36" fill="#f05050" fill-opacity="0.35"/><circle cx="190.1" cy="106.9" r="0.36" fill="#f05050" fill-opacity="0.35"/><circle cx="191.7" cy="108.0" r="0.57" fill="#f05050" fill-opacity="0.35"/><circle cx="187.2" cy="101.7" r="0.47" fill="#f05050" fill-opacity="0.35"/><circle cx="188.5" cy="108.1" r="0.45" fill="#f05050" fill-opacity="0.35"/><circle cx="196.7" cy="102.0" r="0.44" fill="#f05050" fill-opacity="0.35"/><circle cx="198.6" cy="107.0" r="0.39" fill="#f05050" fill-opacity="0.35"/><circle cx="197.0" cy="105.8" r="0.47" fill="#f05050" fill-opacity="0.35"/><circle cx="194.0" cy="107.0" r="0.60" fill="#f05050" fill-opacity="0.35"/><circle cx="191.7" cy="99.4" r="0.40" fill="#f05050" fill-opacity="0.35"/><circle cx="194.6" cy="104.9" r="0.52" fill="#f05050" fill-opacity="0.35"/><circle cx="193.4" cy="106.0" r="0.35" fill="#f05050" fill-opacity="0.35"/><circle cx="197.6" cy="105.8" r="0.45" fill="#f05050" fill-opacity="0.35"/><circle cx="203.0" cy="101.2" r="0.42" fill="#f05050" fill-opacity="0.35"/><circle cx="194.1" cy="105.4" r="0.58" fill="#f05050" fill-opacity="0.35"/><circle cx="190.6" cy="108.2" r="0.53" fill="#f05050" fill-opacity="0.35"/><circle cx="196.8" cy="103.6" r="0.43" fill="#f05050" fill-opacity="0.35"/><circle cx="194.4" cy="104.9" r="0.57" fill="#f05050" fill-opacity="0.35"/><circle cx="192.1" cy="108.7" r="0.48" fill="#f05050" fill-opacity="0.35"/><circle cx="200.7" cy="104.5" r="0.41" fill="#f05050" fill-opacity="0.35"/><circle cx="198.8" cy="104.1" r="0.50" fill="#f05050" fill-opacity="0.35"/><circle cx="200.2" cy="104.1" r="0.46" fill="#f05050" fill-opacity="0.35"/><circle cx="193.4" cy="103.8" r="0.53" fill="#f05050" fill-opacity="0.35"/><circle cx="195.5" cy="108.5" r="0.52" fill="#f05050" fill-opacity="0.35"/><circle cx="198.0" cy="105.3" r="0.42" fill="#f05050" fill-opacity="0.35"/><circle cx="194.8" cy="101.3" r="0.45" fill="#f05050" fill-opacity="0.35"/><circle cx="198.4" cy="102.3" r="0.42" fill="#f05050" fill-opacity="0.35"/><circle cx="194.0" cy="105.8" r="0.36" fill="#f05050" fill-opacity="0.35"/><circle cx="203.0" cy="103.9" r="0.49" fill="#f05050" fill-opacity="0.35"/><circle cx="200.9" cy="96.4" r="0.42" fill="#f05050" fill-opacity="0.35"/><circle cx="190.6" cy="99.0" r="0.40" fill="#f05050" fill-opacity="0.35"/><circle cx="193.2" cy="100.4" r="0.59" fill="#f05050" fill-opacity="0.35"/><circle cx="198.5" cy="102.2" r="0.51" fill="#f05050" fill-opacity="0.35"/><circle cx="200.5" cy="105.1" r="0.45" fill="#f05050" fill-opacity="0.35"/><circle cx="200.6" cy="104.6" r="0.43" fill="#f05050" fill-opacity="0.35"/><circle cx="191.9" cy="104.4" r="0.39" fill="#f05050" fill-opacity="0.35"/><circle cx="191.4" cy="106.3" r="0.39" fill="#f05050" fill-opacity="0.35"/><circle cx="194.1" cy="102.4" r="0.37" fill="#f05050" fill-opacity="0.35"/><circle cx="193.1" cy="106.7" r="0.39" fill="#f05050" fill-opacity="0.35"/><circle cx="189.3" cy="102.5" r="0.49" fill="#f05050" fill-opacity="0.35"/><circle cx="195.7" cy="103.5" r="0.45" fill="#f05050" fill-opacity="0.35"/><circle cx="194.8" cy="104.9" r="0.45" fill="#f05050" fill-opacity="0.35"/><circle cx="201.5" cy="104.6" r="0.50" fill="#f05050" fill-opacity="0.35"/><circle cx="191.6" cy="104.9" r="0.41" fill="#f05050" fill-opacity="0.35"/><circle cx="200.6" cy="103.9" r="0.57" fill="#f05050" fill-opacity="0.35"/><circle cx="192.4" cy="103.5" r="0.52" fill="#f05050" fill-opacity="0.35"/><circle cx="198.2" cy="106.7" r="0.50" fill="#f05050" fill-opacity="0.35"/><circle cx="200.6" cy="102.8" r="0.49" fill="#f05050" fill-opacity="0.35"/><circle cx="204.0" cy="101.5" r="0.51" fill="#f05050" fill-opacity="0.35"/><circle cx="192.3" cy="102.4" r="0.45" fill="#f05050" fill-opacity="0.35"/><circle cx="194.5" cy="109.4" r="0.57" fill="#f05050" fill-opacity="0.35"/><circle cx="187.9" cy="109.0" r="0.36" fill="#f05050" fill-opacity="0.35"/><circle cx="199.9" cy="106.1" r="0.43" fill="#f05050" fill-opacity="0.35"/><circle cx="187.2" cy="110.8" r="0.39" fill="#f05050" fill-opacity="0.35"/><circle cx="197.3" cy="105.8" r="0.52" fill="#f05050" fill-opacity="0.35"/><circle cx="196.0" cy="104.1" r="0.49" fill="#f05050" fill-opacity="0.35"/><circle cx="193.1" cy="105.6" r="0.47" fill="#f05050" fill-opacity="0.35"/><circle cx="192.3" cy="101.5" r="0.51" fill="#f05050" fill-opacity="0.35"/><circle cx="187.2" cy="102.9" r="0.59" fill="#f05050" fill-opacity="0.35"/><circle cx="193.7" cy="106.5" r="0.57" fill="#f05050" fill-opacity="0.35"/><circle cx="192.9" cy="108.4" r="0.52" fill="#f05050" fill-opacity="0.35"/><circle cx="191.0" cy="97.8" r="0.56" fill="#f05050" fill-opacity="0.35"/><circle cx="199.8" cy="106.9" r="0.47" fill="#f05050" fill-opacity="0.35"/><circle cx="191.6" cy="103.4" r="0.42" fill="#f05050" fill-opacity="0.35"/><circle cx="196.0" cy="100.5" r="0.41" fill="#f05050" fill-opacity="0.35"/><circle cx="196.0" cy="106.5" r="0.39" fill="#f05050" fill-opacity="0.35"/><circle cx="193.4" cy="104.1" r="0.37" fill="#f05050" fill-opacity="0.35"/><circle cx="198.1" cy="104.3" r="0.53" fill="#f05050" fill-opacity="0.35"/><circle cx="200.2" cy="105.6" r="0.54" fill="#f05050" fill-opacity="0.35"/><circle cx="193.0" cy="104.5" r="0.57" fill="#f05050" fill-opacity="0.35"/><circle cx="197.1" cy="103.2" r="0.41" fill="#f05050" fill-opacity="0.35"/><circle cx="187.1" cy="104.7" r="0.45" fill="#f05050" fill-opacity="0.35"/><circle cx="195.2" cy="102.0" r="0.53" fill="#f05050" fill-opacity="0.35"/><circle cx="193.9" cy="106.4" r="0.54" fill="#f05050" fill-opacity="0.35"/><circle cx="241.9" cy="89.6" r="0.49" fill="#050505" fill-opacity="0.9"/><circle cx="229.3" cy="101.0" r="0.51" fill="#050505" fill-opacity="0.9"/><circle cx="241.1" cy="89.9" r="0.38" fill="#050505" fill-opacity="0.9"/><circle cx="231.0" cy="101.3" r="0.41" fill="#050505" fill-opacity="0.9"/><circle cx="236.8" cy="96.5" r="0.50" fill="#050505" fill-opacity="0.9"/><circle cx="241.8" cy="97.7" r="0.45" fill="#050505" fill-opacity="0.9"/><circle cx="233.0" cy="95.3" r="0.58" fill="#050505" fill-opacity="0.9"/><circle cx="238.1" cy="95.5" r="0.53" fill="#050505" fill-opacity="0.9"/><circle cx="237.6" cy="96.4" r="0.42" fill="#050505" fill-opacity="0.9"/><circle cx="234.6" cy="87.4" r="0.38" fill="#050505" fill-opacity="0.9"/><circle cx="235.9" cy="97.0" r="0.49" fill="#050505" fill-opacity="0.9"/><circle cx="231.5" cy="98.3" r="0.43" fill="#050505" fill-opacity="0.9"/><circle cx="239.6" cy="89.6" r="0.42" fill="#050505" fill-opacity="0.9"/><circle cx="230.9" cy="100.8" r="0.54" fill="#050505" fill-opacity="0.9"/><circle cx="241.6" cy="94.0" r="0.52" fill="#050505" fill-opacity="0.9"/><circle cx="227.6" cy="97.9" r="0.39" fill="#050505" fill-opacity="0.9"/><circle cx="237.6" cy="97.1" r="0.58" fill="#050505" fill-opacity="0.9"/><circle cx="236.4" cy="99.7" r="0.38" fill="#050505" fill-opacity="0.9"/><circle cx="236.0" cy="96.9" r="0.49" fill="#050505" fill-opacity="0.9"/><circle cx="241.0" cy="97.9" r="0.42" fill="#050505" fill-opacity="0.9"/><circle cx="237.3" cy="99.3" r="0.44" fill="#050505" fill-opacity="0.9"/><circle cx="236.4" cy="97.2" r="0.37" fill="#050505" fill-opacity="0.9"/><circle cx="240.0" cy="93.3" r="0.37" fill="#050505" fill-opacity="0.9"/><circle cx="239.0" cy="98.5" r="0.60" fill="#050505" fill-opacity="0.9"/><circle cx="239.6" cy="100.8" r="0.47" fill="#050505" fill-opacity="0.9"/><circle cx="228.4" cy="101.9" r="0.45" fill="#050505" fill-opacity="0.9"/><circle cx="242.6" cy="95.3" r="0.51" fill="#050505" fill-opacity="0.9"/><circle cx="233.5" cy="95.6" r="0.58" fill="#050505" fill-opacity="0.9"/><circle cx="247.5" cy="85.0" r="0.46" fill="#050505" fill-opacity="0.9"/><circle cx="240.7" cy="90.5" r="0.39" fill="#050505" fill-opacity="0.9"/><circle cx="239.6" cy="95.4" r="0.38" fill="#050505" fill-opacity="0.9"/><circle cx="240.9" cy="95.9" r="0.54" fill="#050505" fill-opacity="0.9"/><circle cx="234.2" cy="100.4" r="0.35" fill="#050505" fill-opacity="0.9"/><circle cx="239.8" cy="102.4" r="0.35" fill="#050505" fill-opacity="0.9"/><circle cx="227.2" cy="98.6" r="0.55" fill="#050505" fill-opacity="0.9"/><circle cx="236.0" cy="93.4" r="0.55" fill="#050505" fill-opacity="0.9"/><circle cx="240.7" cy="90.2" r="0.60" fill="#050505" fill-opacity="0.9"/><circle cx="246.8" cy="96.9" r="0.45" fill="#050505" fill-opacity="0.9"/><circle cx="235.4" cy="94.4" r="0.58" fill="#050505" fill-opacity="0.9"/><circle cx="243.2" cy="94.4" r="0.41" fill="#050505" fill-opacity="0.9"/><circle cx="232.7" cy="99.4" r="0.51" fill="#050505" fill-opacity="0.9"/><circle cx="238.3" cy="92.9" r="0.51" fill="#050505" fill-opacity="0.9"/><circle cx="233.9" cy="99.0" r="0.58" fill="#050505" fill-opacity="0.9"/><circle cx="235.5" cy="97.8" r="0.43" fill="#050505" fill-opacity="0.9"/><circle cx="236.3" cy="94.2" r="0.54" fill="#050505" fill-opacity="0.9"/><circle cx="229.0" cy="97.6" r="0.39" fill="#050505" fill-opacity="0.9"/><circle cx="238.8" cy="96.4" r="0.44" fill="#050505" fill-opacity="0.9"/><circle cx="235.9" cy="96.6" r="0.48" fill="#050505" fill-opacity="0.9"/><circle cx="232.7" cy="99.1" r="0.48" fill="#050505" fill-opacity="0.9"/><circle cx="239.9" cy="94.4" r="0.57" fill="#050505" fill-opacity="0.9"/><circle cx="232.7" cy="102.1" r="0.38" fill="#050505" fill-opacity="0.9"/><circle cx="242.0" cy="94.0" r="0.59" fill="#050505" fill-opacity="0.9"/><circle cx="237.5" cy="98.9" r="0.53" fill="#050505" fill-opacity="0.9"/><circle cx="238.3" cy="97.7" r="0.52" fill="#050505" fill-opacity="0.9"/><circle cx="240.8" cy="93.8" r="0.40" fill="#050505" fill-opacity="0.9"/><circle cx="226.7" cy="106.8" r="0.39" fill="#050505" fill-opacity="0.9"/><circle cx="233.1" cy="95.2" r="0.51" fill="#050505" fill-opacity="0.9"/><circle cx="238.2" cy="99.6" r="0.57" fill="#050505" fill-opacity="0.9"/><circle cx="241.0" cy="91.3" r="0.48" fill="#050505" fill-opacity="0.9"/><circle cx="234.2" cy="96.4" r="0.56" fill="#050505" fill-opacity="0.9"/><circle cx="234.4" cy="93.9" r="0.52" fill="#050505" fill-opacity="0.9"/><circle cx="232.0" cy="99.2" r="0.41" fill="#050505" fill-opacity="0.9"/><circle cx="231.0" cy="95.9" r="0.48" fill="#050505" fill-opacity="0.9"/><circle cx="243.7" cy="94.5" r="0.46" fill="#050505" fill-opacity="0.9"/><circle cx="230.7" cy="96.1" r="0.58" fill="#050505" fill-opacity="0.9"/><circle cx="239.9" cy="97.7" r="0.60" fill="#050505" fill-opacity="0.9"/><circle cx="236.2" cy="93.7" r="0.53" fill="#050505" fill-opacity="0.9"/><circle cx="241.8" cy="94.1" r="0.57" fill="#050505" fill-opacity="0.9"/><circle cx="247.5" cy="98.7" r="0.47" fill="#050505" fill-opacity="0.9"/><circle cx="237.5" cy="101.6" r="0.51" fill="#050505" fill-opacity="0.9"/><circle cx="245.5" cy="90.8" r="0.55" fill="#050505" fill-opacity="0.9"/><circle cx="246.1" cy="95.1" r="0.53" fill="#050505" fill-opacity="0.9"/><circle cx="236.5" cy="101.7" r="0.46" fill="#050505" fill-opacity="0.9"/><circle cx="226.4" cy="98.5" r="0.40" fill="#050505" fill-opacity="0.9"/><circle cx="235.1" cy="100.9" r="0.37" fill="#050505" fill-opacity="0.9"/><circle cx="227.9" cy="97.5" r="0.47" fill="#050505" fill-opacity="0.9"/><circle cx="237.0" cy="101.4" r="0.56" fill="#050505" fill-opacity="0.9"/><circle cx="237.4" cy="92.1" r="0.58" fill="#050505" fill-opacity="0.9"/><circle cx="237.4" cy="94.2" r="0.44" fill="#050505" fill-opacity="0.9"/><circle cx="237.7" cy="96.3" r="0.44" fill="#050505" fill-opacity="0.9"/><circle cx="243.0" cy="89.6" r="0.38" fill="#050505" fill-opacity="0.9"/><circle cx="238.6" cy="98.1" r="0.56" fill="#050505" fill-opacity="0.9"/><circle cx="228.2" cy="94.9" r="0.37" fill="#050505" fill-opacity="0.9"/><circle cx="240.0" cy="94.8" r="0.51" fill="#050505" fill-opacity="0.9"/><circle cx="242.5" cy="90.7" r="0.40" fill="#050505" fill-opacity="0.9"/><circle cx="233.8" cy="94.4" r="0.35" fill="#050505" fill-opacity="0.9"/><circle cx="234.1" cy="99.3" r="0.51" fill="#050505" fill-opacity="0.9"/><circle cx="235.2" cy="100.7" r="0.52" fill="#050505" fill-opacity="0.9"/><circle cx="237.6" cy="97.2" r="0.52" fill="#050505" fill-opacity="0.9"/><circle cx="233.8" cy="97.5" r="0.38" fill="#050505" fill-opacity="0.9"/><circle cx="243.2" cy="92.3" r="0.44" fill="#050505" fill-opacity="0.9"/><circle cx="242.1" cy="103.4" r="0.52" fill="#050505" fill-opacity="0.9"/><circle cx="236.1" cy="93.5" r="0.43" fill="#050505" fill-opacity="0.9"/><circle cx="234.0" cy="98.0" r="0.51" fill="#050505" fill-opacity="0.9"/><circle cx="227.9" cy="101.8" r="0.45" fill="#050505" fill-opacity="0.9"/><circle cx="230.5" cy="99.3" r="0.59" fill="#050505" fill-opacity="0.9"/><circle cx="231.9" cy="101.7" r="0.41" fill="#050505" fill-opacity="0.9"/><circle cx="232.8" cy="96.4" r="0.57" fill="#050505" fill-opacity="0.9"/><circle cx="234.2" cy="102.8" r="0.52" fill="#050505" fill-opacity="0.9"/><circle cx="230.0" cy="101.8" r="0.50" fill="#050505" fill-opacity="0.9"/><circle cx="234.7" cy="97.2" r="0.45" fill="#050505" fill-opacity="0.9"/><circle cx="235.4" cy="99.8" r="0.59" fill="#050505" fill-opacity="0.9"/><circle cx="234.4" cy="101.4" r="0.52" fill="#050505" fill-opacity="0.9"/><circle cx="236.7" cy="99.2" r="0.38" fill="#050505" fill-opacity="0.9"/><circle cx="239.6" cy="93.7" r="0.46" fill="#050505" fill-opacity="0.9"/><circle cx="231.3" cy="102.8" r="0.56" fill="#050505" fill-opacity="0.9"/><circle cx="231.0" cy="96.1" r="0.37" fill="#050505" fill-opacity="0.9"/><circle cx="238.3" cy="94.8" r="0.44" fill="#050505" fill-opacity="0.9"/><circle cx="230.6" cy="101.7" r="0.52" fill="#050505" fill-opacity="0.9"/><circle cx="230.3" cy="103.8" r="0.59" fill="#050505" fill-opacity="0.9"/><circle cx="243.8" cy="94.2" r="0.47" fill="#050505" fill-opacity="0.9"/><circle cx="232.7" cy="100.1" r="0.43" fill="#050505" fill-opacity="0.9"/><circle cx="233.1" cy="93.8" r="0.59" fill="#050505" fill-opacity="0.9"/><circle cx="228.8" cy="102.4" r="0.51" fill="#050505" fill-opacity="0.9"/><circle cx="231.0" cy="88.2" r="0.37" fill="#050505" fill-opacity="0.9"/><circle cx="231.4" cy="98.8" r="0.51" fill="#050505" fill-opacity="0.9"/><circle cx="239.6" cy="104.0" r="0.40" fill="#050505" fill-opacity="0.9"/><circle cx="234.5" cy="98.1" r="0.45" fill="#050505" fill-opacity="0.9"/><circle cx="236.4" cy="95.0" r="0.39" fill="#050505" fill-opacity="0.9"/><circle cx="232.2" cy="94.4" r="0.54" fill="#050505" fill-opacity="0.9"/><circle cx="236.3" cy="101.8" r="0.53" fill="#050505" fill-opacity="0.9"/><circle cx="236.9" cy="94.6" r="0.47" fill="#050505" fill-opacity="0.9"/><circle cx="246.8" cy="93.1" r="0.59" fill="#050505" fill-opacity="0.9"/><circle cx="237.4" cy="95.5" r="0.44" fill="#050505" fill-opacity="0.9"/><circle cx="230.2" cy="97.6" r="0.38" fill="#050505" fill-opacity="0.9"/><circle cx="237.6" cy="93.3" r="0.48" fill="#050505" fill-opacity="0.9"/><circle cx="241.3" cy="97.2" r="0.38" fill="#050505" fill-opacity="0.9"/><circle cx="241.8" cy="96.2" r="0.42" fill="#050505" fill-opacity="0.9"/><circle cx="237.2" cy="93.7" r="0.45" fill="#050505" fill-opacity="0.9"/><circle cx="239.9" cy="95.7" r="0.46" fill="#050505" fill-opacity="0.9"/><circle cx="231.1" cy="97.0" r="0.56" fill="#050505" fill-opacity="0.9"/><circle cx="244.5" cy="96.9" r="0.39" fill="#050505" fill-opacity="0.9"/><circle cx="242.7" cy="93.3" r="0.45" fill="#050505" fill-opacity="0.9"/><circle cx="228.6" cy="95.2" r="0.59" fill="#050505" fill-opacity="0.9"/><circle cx="235.8" cy="96.7" r="0.39" fill="#050505" fill-opacity="0.9"/><circle cx="240.0" cy="90.5" r="0.53" fill="#050505" fill-opacity="0.9"/><circle cx="240.0" cy="98.0" r="0.36" fill="#050505" fill-opacity="0.9"/><circle cx="239.9" cy="96.6" r="0.59" fill="#050505" fill-opacity="0.9"/><circle cx="230.2" cy="93.9" r="0.36" fill="#050505" fill-opacity="0.9"/><circle cx="234.7" cy="97.5" r="0.42" fill="#050505" fill-opacity="0.9"/><circle cx="245.4" cy="97.3" r="0.43" fill="#050505" fill-opacity="0.9"/><circle cx="228.9" cy="99.2" r="0.57" fill="#050505" fill-opacity="0.9"/><circle cx="242.9" cy="92.6" r="0.48" fill="#050505" fill-opacity="0.9"/><circle cx="240.8" cy="93.0" r="0.42" fill="#050505" fill-opacity="0.9"/><circle cx="236.2" cy="94.0" r="0.44" fill="#050505" fill-opacity="0.9"/><circle cx="231.2" cy="99.6" r="0.44" fill="#050505" fill-opacity="0.9"/><circle cx="231.3" cy="99.4" r="0.36" fill="#050505" fill-opacity="0.9"/><circle cx="237.5" cy="94.9" r="0.48" fill="#050505" fill-opacity="0.9"/><circle cx="231.5" cy="97.1" r="0.41" fill="#050505" fill-opacity="0.9"/><circle cx="240.6" cy="96.4" r="0.43" fill="#050505" fill-opacity="0.9"/><circle cx="232.8" cy="97.8" r="0.54" fill="#050505" fill-opacity="0.9"/><circle cx="235.8" cy="96.5" r="0.45" fill="#050505" fill-opacity="0.9"/><circle cx="237.1" cy="95.9" r="0.50" fill="#050505" fill-opacity="0.9"/><circle cx="241.3" cy="93.8" r="0.50" fill="#050505" fill-opacity="0.9"/><circle cx="233.5" cy="99.1" r="0.50" fill="#050505" fill-opacity="0.9"/><circle cx="232.7" cy="96.2" r="0.47" fill="#050505" fill-opacity="0.9"/><circle cx="227.8" cy="98.8" r="0.36" fill="#050505" fill-opacity="0.9"/><circle cx="239.8" cy="96.3" r="0.42" fill="#050505" fill-opacity="0.9"/><circle cx="238.0" cy="92.6" r="0.57" fill="#050505" fill-opacity="0.9"/><circle cx="233.0" cy="98.9" r="0.52" fill="#050505" fill-opacity="0.9"/><circle cx="238.8" cy="93.0" r="0.43" fill="#050505" fill-opacity="0.9"/><circle cx="240.4" cy="90.0" r="0.51" fill="#050505" fill-opacity="0.9"/><circle cx="244.8" cy="95.0" r="0.36" fill="#050505" fill-opacity="0.9"/><circle cx="231.8" cy="95.2" r="0.58" fill="#050505" fill-opacity="0.9"/><circle cx="235.8" cy="96.0" r="0.58" fill="#050505" fill-opacity="0.9"/><circle cx="236.6" cy="92.2" r="0.35" fill="#050505" fill-opacity="0.9"/><circle cx="236.1" cy="93.2" r="0.52" fill="#050505" fill-opacity="0.9"/><circle cx="248.0" cy="91.4" r="0.37" fill="#050505" fill-opacity="0.9"/><circle cx="237.6" cy="92.6" r="0.54" fill="#050505" fill-opacity="0.9"/><circle cx="232.4" cy="99.9" r="0.46" fill="#050505" fill-opacity="0.9"/><circle cx="239.9" cy="96.8" r="0.53" fill="#050505" fill-opacity="0.9"/><circle cx="238.8" cy="96.0" r="0.56" fill="#050505" fill-opacity="0.9"/><circle cx="233.2" cy="94.1" r="0.38" fill="#050505" fill-opacity="0.9"/><circle cx="239.8" cy="96.8" r="0.59" fill="#050505" fill-opacity="0.9"/><circle cx="237.8" cy="98.7" r="0.48" fill="#050505" fill-opacity="0.9"/><circle cx="237.9" cy="94.4" r="0.57" fill="#050505" fill-opacity="0.9"/><circle cx="235.2" cy="96.8" r="0.46" fill="#050505" fill-opacity="0.9"/><circle cx="230.9" cy="101.3" r="0.58" fill="#050505" fill-opacity="0.9"/><circle cx="228.6" cy="99.2" r="0.45" fill="#050505" fill-opacity="0.9"/><circle cx="236.9" cy="94.7" r="0.54" fill="#050505" fill-opacity="0.9"/><circle cx="240.0" cy="98.4" r="0.40" fill="#050505" fill-opacity="0.9"/><circle cx="234.7" cy="98.3" r="0.44" fill="#050505" fill-opacity="0.9"/><circle cx="231.2" cy="96.1" r="0.45" fill="#050505" fill-opacity="0.9"/><circle cx="227.6" cy="96.8" r="0.44" fill="#050505" fill-opacity="0.9"/><circle cx="231.4" cy="96.3" r="0.60" fill="#050505" fill-opacity="0.9"/><circle cx="232.7" cy="101.7" r="0.41" fill="#050505" fill-opacity="0.9"/><circle cx="235.9" cy="101.3" r="0.49" fill="#050505" fill-opacity="0.9"/><circle cx="236.4" cy="97.3" r="0.56" fill="#050505" fill-opacity="0.9"/><circle cx="230.6" cy="101.6" r="0.46" fill="#050505" fill-opacity="0.9"/><circle cx="231.6" cy="95.4" r="0.59" fill="#050505" fill-opacity="0.9"/><circle cx="241.3" cy="92.7" r="0.47" fill="#050505" fill-opacity="0.9"/><circle cx="237.5" cy="100.8" r="0.38" fill="#050505" fill-opacity="0.9"/><circle cx="233.0" cy="102.9" r="0.36" fill="#050505" fill-opacity="0.9"/><circle cx="234.4" cy="93.3" r="0.49" fill="#050505" fill-opacity="0.9"/><circle cx="235.0" cy="98.2" r="0.59" fill="#050505" fill-opacity="0.9"/><circle cx="237.4" cy="90.5" r="0.37" fill="#050505" fill-opacity="0.9"/><circle cx="237.3" cy="93.9" r="0.40" fill="#050505" fill-opacity="0.9"/><circle cx="229.5" cy="97.8" r="0.38" fill="#050505" fill-opacity="0.9"/><circle cx="237.1" cy="92.0" r="0.57" fill="#050505" fill-opacity="0.9"/><circle cx="243.6" cy="91.5" r="0.44" fill="#050505" fill-opacity="0.9"/><circle cx="244.4" cy="91.9" r="0.42" fill="#050505" fill-opacity="0.9"/><circle cx="241.7" cy="90.5" r="0.42" fill="#050505" fill-opacity="0.9"/><circle cx="236.5" cy="96.8" r="0.48" fill="#050505" fill-opacity="0.9"/><circle cx="236.4" cy="98.7" r="0.41" fill="#050505" fill-opacity="0.9"/><circle cx="240.6" cy="97.3" r="0.42" fill="#050505" fill-opacity="0.9"/><circle cx="235.6" cy="98.9" r="0.48" fill="#050505" fill-opacity="0.9"/><circle cx="238.7" cy="94.2" r="0.56" fill="#050505" fill-opacity="0.9"/><circle cx="240.9" cy="91.4" r="0.49" fill="#050505" fill-opacity="0.9"/><circle cx="235.9" cy="92.7" r="0.51" fill="#050505" fill-opacity="0.9"/><circle cx="244.4" cy="90.9" r="0.41" fill="#050505" fill-opacity="0.9"/><circle cx="248.0" cy="94.4" r="0.44" fill="#050505" fill-opacity="0.9"/><circle cx="237.4" cy="93.8" r="0.46" fill="#050505" fill-opacity="0.9"/><circle cx="230.7" cy="101.8" r="0.59" fill="#050505" fill-opacity="0.9"/><circle cx="229.8" cy="98.5" r="0.44" fill="#050505" fill-opacity="0.9"/><circle cx="237.9" cy="103.0" r="0.38" fill="#050505" fill-opacity="0.9"/><circle cx="243.6" cy="92.0" r="0.37" fill="#050505" fill-opacity="0.9"/><circle cx="238.5" cy="94.7" r="0.49" fill="#050505" fill-opacity="0.9"/><circle cx="247.9" cy="98.2" r="0.43" fill="#050505" fill-opacity="0.9"/><circle cx="237.8" cy="95.0" r="0.52" fill="#050505" fill-opacity="0.9"/><circle cx="237.7" cy="96.1" r="0.49" fill="#050505" fill-opacity="0.9"/><circle cx="244.4" cy="92.9" r="0.56" fill="#050505" fill-opacity="0.9"/><circle cx="237.9" cy="92.2" r="0.37" fill="#050505" fill-opacity="0.9"/><circle cx="233.2" cy="97.1" r="0.48" fill="#050505" fill-opacity="0.9"/><circle cx="232.8" cy="100.3" r="0.40" fill="#050505" fill-opacity="0.9"/><circle cx="235.0" cy="93.7" r="0.47" fill="#050505" fill-opacity="0.9"/><circle cx="241.8" cy="95.9" r="0.49" fill="#050505" fill-opacity="0.9"/><circle cx="243.1" cy="93.2" r="0.38" fill="#050505" fill-opacity="0.9"/><circle cx="235.0" cy="99.3" r="0.53" fill="#050505" fill-opacity="0.9"/><circle cx="247.8" cy="90.0" r="0.56" fill="#050505" fill-opacity="0.9"/><circle cx="237.5" cy="95.6" r="0.47" fill="#050505" fill-opacity="0.9"/><circle cx="229.8" cy="96.1" r="0.50" fill="#050505" fill-opacity="0.9"/><circle cx="227.3" cy="94.9" r="0.37" fill="#050505" fill-opacity="0.9"/><circle cx="239.0" cy="95.6" r="0.57" fill="#050505" fill-opacity="0.9"/><circle cx="237.6" cy="95.6" r="0.36" fill="#050505" fill-opacity="0.9"/><circle cx="240.3" cy="90.8" r="0.48" fill="#050505" fill-opacity="0.9"/><circle cx="228.8" cy="96.5" r="0.55" fill="#050505" fill-opacity="0.9"/><circle cx="238.5" cy="95.5" r="0.55" fill="#050505" fill-opacity="0.9"/><circle cx="246.2" cy="91.8" r="0.45" fill="#050505" fill-opacity="0.9"/><circle cx="234.0" cy="99.5" r="0.35" fill="#050505" fill-opacity="0.9"/><circle cx="237.0" cy="93.7" r="0.50" fill="#050505" fill-opacity="0.9"/><circle cx="231.9" cy="97.4" r="0.52" fill="#050505" fill-opacity="0.9"/><circle cx="232.9" cy="98.1" r="0.57" fill="#050505" fill-opacity="0.9"/><circle cx="237.8" cy="97.2" r="0.41" fill="#050505" fill-opacity="0.9"/><circle cx="227.5" cy="100.1" r="0.43" fill="#050505" fill-opacity="0.9"/><circle cx="237.1" cy="100.4" r="0.42" fill="#050505" fill-opacity="0.9"/><circle cx="232.6" cy="97.3" r="0.57" fill="#050505" fill-opacity="0.9"/><circle cx="238.0" cy="97.7" r="0.43" fill="#050505" fill-opacity="0.9"/><circle cx="232.5" cy="101.9" r="0.52" fill="#050505" fill-opacity="0.9"/><circle cx="238.1" cy="92.0" r="0.37" fill="#050505" fill-opacity="0.9"/><circle cx="236.8" cy="93.8" r="0.40" fill="#050505" fill-opacity="0.9"/><circle cx="233.1" cy="99.5" r="0.58" fill="#050505" fill-opacity="0.9"/><circle cx="241.6" cy="94.2" r="0.38" fill="#050505" fill-opacity="0.9"/><circle cx="238.7" cy="90.3" r="0.43" fill="#050505" fill-opacity="0.9"/><circle cx="237.8" cy="92.9" r="0.42" fill="#050505" fill-opacity="0.9"/><circle cx="229.4" cy="96.0" r="0.47" fill="#050505" fill-opacity="0.9"/><circle cx="236.9" cy="95.6" r="0.47" fill="#050505" fill-opacity="0.9"/><circle cx="235.1" cy="97.5" r="0.58" fill="#050505" fill-opacity="0.9"/><circle cx="238.7" cy="97.0" r="0.57" fill="#050505" fill-opacity="0.9"/><circle cx="248.2" cy="90.3" r="0.44" fill="#050505" fill-opacity="0.9"/><circle cx="239.1" cy="94.6" r="0.53" fill="#050505" fill-opacity="0.9"/><circle cx="239.7" cy="94.4" r="0.38" fill="#050505" fill-opacity="0.9"/><circle cx="231.8" cy="92.3" r="0.53" fill="#050505" fill-opacity="0.9"/><circle cx="241.9" cy="93.2" r="0.44" fill="#050505" fill-opacity="0.9"/><circle cx="239.5" cy="96.8" r="0.58" fill="#050505" fill-opacity="0.9"/><circle cx="239.5" cy="96.0" r="0.44" fill="#050505" fill-opacity="0.9"/><circle cx="240.7" cy="95.5" r="0.40" fill="#050505" fill-opacity="0.9"/><circle cx="241.1" cy="97.1" r="0.49" fill="#050505" fill-opacity="0.9"/><circle cx="228.5" cy="97.0" r="0.48" fill="#050505" fill-opacity="0.9"/><circle cx="238.5" cy="95.1" r="0.41" fill="#050505" fill-opacity="0.9"/><circle cx="240.5" cy="96.0" r="0.54" fill="#050505" fill-opacity="0.9"/><circle cx="242.0" cy="92.6" r="0.39" fill="#050505" fill-opacity="0.9"/><circle cx="233.2" cy="100.8" r="0.42" fill="#050505" fill-opacity="0.9"/><circle cx="240.2" cy="87.1" r="0.46" fill="#050505" fill-opacity="0.9"/><circle cx="228.5" cy="95.6" r="0.47" fill="#050505" fill-opacity="0.9"/><circle cx="241.0" cy="101.3" r="0.59" fill="#050505" fill-opacity="0.9"/><circle cx="245.2" cy="93.8" r="0.45" fill="#050505" fill-opacity="0.9"/><circle cx="239.4" cy="95.7" r="0.39" fill="#050505" fill-opacity="0.9"/><circle cx="236.2" cy="94.2" r="0.35" fill="#050505" fill-opacity="0.9"/><circle cx="238.3" cy="100.8" r="0.47" fill="#050505" fill-opacity="0.9"/><circle cx="233.2" cy="94.7" r="0.40" fill="#050505" fill-opacity="0.9"/><circle cx="240.9" cy="94.9" r="0.36" fill="#050505" fill-opacity="0.9"/><circle cx="236.0" cy="100.5" r="0.44" fill="#050505" fill-opacity="0.9"/><circle cx="229.3" cy="99.5" r="0.43" fill="#050505" fill-opacity="0.9"/><circle cx="229.8" cy="103.5" r="0.50" fill="#050505" fill-opacity="0.9"/><circle cx="230.9" cy="100.1" r="0.47" fill="#050505" fill-opacity="0.9"/><circle cx="230.8" cy="104.0" r="0.41" fill="#050505" fill-opacity="0.9"/><circle cx="245.9" cy="90.5" r="0.57" fill="#050505" fill-opacity="0.9"/><circle cx="239.7" cy="98.1" r="0.60" fill="#050505" fill-opacity="0.9"/><circle cx="235.7" cy="98.3" r="0.53" fill="#050505" fill-opacity="0.9"/><circle cx="237.1" cy="99.9" r="0.39" fill="#050505" fill-opacity="0.9"/><circle cx="240.5" cy="94.0" r="0.37" fill="#050505" fill-opacity="0.9"/><circle cx="243.0" cy="88.8" r="0.49" fill="#303030" fill-opacity="0.5"/><circle cx="237.7" cy="92.5" r="0.48" fill="#303030" fill-opacity="0.5"/><circle cx="243.9" cy="90.6" r="0.47" fill="#303030" fill-opacity="0.5"/><circle cx="243.6" cy="93.6" r="0.51" fill="#303030" fill-opacity="0.5"/><circle cx="242.8" cy="91.1" r="0.47" fill="#303030" fill-opacity="0.5"/><circle cx="240.0" cy="92.1" r="0.59" fill="#303030" fill-opacity="0.5"/><circle cx="243.4" cy="93.1" r="0.37" fill="#303030" fill-opacity="0.5"/><circle cx="244.6" cy="88.7" r="0.56" fill="#303030" fill-opacity="0.5"/><circle cx="244.6" cy="88.6" r="0.58" fill="#303030" fill-opacity="0.5"/><circle cx="241.0" cy="91.3" r="0.49" fill="#303030" fill-opacity="0.5"/><circle cx="247.1" cy="88.7" r="0.47" fill="#303030" fill-opacity="0.5"/><circle cx="242.6" cy="95.2" r="0.48" fill="#303030" fill-opacity="0.5"/><circle cx="243.0" cy="92.1" r="0.40" fill="#303030" fill-opacity="0.5"/><circle cx="246.5" cy="86.2" r="0.59" fill="#303030" fill-opacity="0.5"/><circle cx="247.7" cy="87.7" r="0.55" fill="#303030" fill-opacity="0.5"/><circle cx="242.8" cy="86.8" r="0.55" fill="#303030" fill-opacity="0.5"/><circle cx="246.3" cy="93.6" r="0.43" fill="#303030" fill-opacity="0.5"/><circle cx="244.2" cy="95.6" r="0.36" fill="#303030" fill-opacity="0.5"/><circle cx="241.4" cy="91.1" r="0.55" fill="#303030" fill-opacity="0.5"/><circle cx="239.3" cy="88.7" r="0.58" fill="#303030" fill-opacity="0.5"/><circle cx="243.4" cy="90.0" r="0.52" fill="#303030" fill-opacity="0.5"/><circle cx="245.7" cy="88.6" r="0.40" fill="#303030" fill-opacity="0.5"/><circle cx="242.4" cy="87.3" r="0.60" fill="#303030" fill-opacity="0.5"/><circle cx="243.0" cy="90.0" r="0.53" fill="#303030" fill-opacity="0.5"/><circle cx="249.3" cy="90.6" r="0.54" fill="#303030" fill-opacity="0.5"/><circle cx="245.3" cy="85.6" r="0.49" fill="#303030" fill-opacity="0.5"/><circle cx="247.7" cy="88.2" r="0.47" fill="#303030" fill-opacity="0.5"/><circle cx="242.0" cy="92.5" r="0.36" fill="#303030" fill-opacity="0.5"/><circle cx="246.6" cy="93.2" r="0.41" fill="#303030" fill-opacity="0.5"/><circle cx="241.2" cy="88.1" r="0.52" fill="#303030" fill-opacity="0.5"/><circle cx="241.6" cy="91.0" r="0.42" fill="#303030" fill-opacity="0.5"/><circle cx="245.6" cy="93.1" r="0.52" fill="#303030" fill-opacity="0.5"/><circle cx="246.3" cy="89.1" r="0.58" fill="#303030" fill-opacity="0.5"/><circle cx="246.0" cy="88.9" r="0.59" fill="#303030" fill-opacity="0.5"/><circle cx="238.7" cy="88.1" r="0.54" fill="#303030" fill-opacity="0.5"/><circle cx="242.9" cy="92.5" r="0.48" fill="#303030" fill-opacity="0.5"/><circle cx="243.3" cy="90.8" r="0.57" fill="#303030" fill-opacity="0.5"/><circle cx="240.9" cy="90.9" r="0.54" fill="#303030" fill-opacity="0.5"/><circle cx="244.0" cy="92.0" r="0.50" fill="#303030" fill-opacity="0.5"/><circle cx="244.1" cy="92.5" r="0.37" fill="#303030" fill-opacity="0.5"/><circle cx="246.5" cy="90.4" r="0.48" fill="#303030" fill-opacity="0.5"/><circle cx="247.8" cy="88.3" r="0.45" fill="#303030" fill-opacity="0.5"/><circle cx="242.3" cy="91.9" r="0.47" fill="#303030" fill-opacity="0.5"/><circle cx="245.4" cy="89.8" r="0.46" fill="#303030" fill-opacity="0.5"/><circle cx="242.1" cy="87.5" r="0.49" fill="#303030" fill-opacity="0.5"/><circle cx="239.8" cy="87.5" r="0.58" fill="#303030" fill-opacity="0.5"/><circle cx="244.0" cy="93.4" r="0.60" fill="#303030" fill-opacity="0.5"/><circle cx="242.2" cy="90.8" r="0.54" fill="#303030" fill-opacity="0.5"/><circle cx="245.5" cy="90.5" r="0.49" fill="#303030" fill-opacity="0.5"/><circle cx="243.4" cy="94.3" r="0.53" fill="#303030" fill-opacity="0.5"/><circle cx="242.0" cy="94.7" r="0.51" fill="#303030" fill-opacity="0.5"/><circle cx="243.2" cy="88.3" r="0.46" fill="#303030" fill-opacity="0.5"/><circle cx="246.5" cy="91.4" r="0.59" fill="#303030" fill-opacity="0.5"/><circle cx="244.7" cy="89.8" r="0.37" fill="#303030" fill-opacity="0.5"/><circle cx="243.5" cy="94.2" r="0.46" fill="#303030" fill-opacity="0.5"/><circle cx="246.0" cy="91.6" r="0.49" fill="#303030" fill-opacity="0.5"/><circle cx="243.9" cy="88.2" r="0.51" fill="#303030" fill-opacity="0.5"/><circle cx="242.4" cy="88.1" r="0.36" fill="#303030" fill-opacity="0.5"/><circle cx="243.6" cy="89.4" r="0.36" fill="#303030" fill-opacity="0.5"/><circle cx="243.5" cy="90.7" r="0.37" fill="#303030" fill-opacity="0.5"/><circle cx="241.6" cy="92.9" r="0.38" fill="#303030" fill-opacity="0.5"/><circle cx="249.2" cy="87.6" r="0.47" fill="#303030" fill-opacity="0.5"/><circle cx="241.9" cy="90.1" r="0.60" fill="#303030" fill-opacity="0.5"/><circle cx="245.7" cy="91.3" r="0.41" fill="#303030" fill-opacity="0.5"/><circle cx="246.2" cy="87.8" r="0.45" fill="#303030" fill-opacity="0.5"/><circle cx="239.3" cy="94.8" r="0.41" fill="#303030" fill-opacity="0.5"/><circle cx="245.1" cy="86.7" r="0.46" fill="#303030" fill-opacity="0.5"/><circle cx="242.0" cy="92.9" r="0.46" fill="#303030" fill-opacity="0.5"/><circle cx="242.4" cy="93.9" r="0.45" fill="#303030" fill-opacity="0.5"/><circle cx="217.7" cy="132.5" r="0.4" fill="#999" fill-opacity="0.5"/><circle cx="222.6" cy="122.6" r="0.4" fill="#999" fill-opacity="0.5"/><circle cx="236.1" cy="122.0" r="0.4" fill="#999" fill-opacity="0.5"/><circle cx="220.0" cy="136.6" r="0.4" fill="#999" fill-opacity="0.5"/><circle cx="239.2" cy="132.9" r="0.4" fill="#999" fill-opacity="0.5"/><circle cx="220.8" cy="129.1" r="0.4" fill="#999" fill-opacity="0.5"/><circle cx="231.7" cy="116.8" r="0.4" fill="#999" fill-opacity="0.5"/><circle cx="231.2" cy="138.3" r="0.4" fill="#999" fill-opacity="0.5"/><circle cx="229.0" cy="129.1" r="0.4" fill="#999" fill-opacity="0.5"/><circle cx="221.9" cy="128.6" r="0.4" fill="#999" fill-opacity="0.5"/><circle cx="215.2" cy="132.4" r="0.4" fill="#999" fill-opacity="0.5"/><circle cx="225.3" cy="139.3" r="0.4" fill="#999" fill-opacity="0.5"/><circle cx="218.9" cy="130.5" r="0.4" fill="#999" fill-opacity="0.5"/><circle cx="208.5" cy="120.7" r="0.4" fill="#999" fill-opacity="0.5"/><circle cx="232.5" cy="115.6" r="0.4" fill="#999" fill-opacity="0.5"/><circle cx="227.6" cy="114.3" r="0.4" fill="#999" fill-opacity="0.5"/><circle cx="220.7" cy="139.8" r="0.4" fill="#999" fill-opacity="0.5"/><circle cx="214.3" cy="137.1" r="0.4" fill="#999" fill-opacity="0.5"/><circle cx="209.9" cy="126.2" r="0.4" fill="#999" fill-opacity="0.5"/><circle cx="234.3" cy="134.6" r="0.4" fill="#999" fill-opacity="0.5"/><circle cx="220.5" cy="126.5" r="0.4" fill="#999" fill-opacity="0.5"/><circle cx="230.8" cy="132.1" r="0.4" fill="#999" fill-opacity="0.5"/><circle cx="231.9" cy="126.1" r="0.4" fill="#999" fill-opacity="0.5"/><circle cx="216.1" cy="130.3" r="0.4" fill="#999" fill-opacity="0.5"/><circle cx="226.0" cy="125.0" r="0.4" fill="#999" fill-opacity="0.5"/><circle cx="239.6" cy="111.5" r="0.4" fill="#999" fill-opacity="0.5"/><circle cx="233.0" cy="117.7" r="0.4" fill="#999" fill-opacity="0.5"/><circle cx="231.3" cy="138.4" r="0.4" fill="#999" fill-opacity="0.5"/><circle cx="216.8" cy="125.7" r="0.4" fill="#999" fill-opacity="0.5"/><circle cx="224.9" cy="123.3" r="0.4" fill="#999" fill-opacity="0.5"/></g>
<text transform="translate(171.2,113.8) rotate(-90)" font-size="13.8" text-anchor="middle" fill="#111" stroke="#111" stroke-width="0.28">CD28</text>
<text x="223.8" y="176.5" font-size="13.8" font-weight="400" text-anchor="middle" fill="#111" stroke="#111" stroke-width="0.28" >CD95</text>
<rect x="284.7" y="89.3" width="9.4" height="9" fill="#0a0af0"/>
<rect x="284.7" y="101.4" width="9.4" height="9" fill="#050505"/>
<rect x="284.7" y="113.5" width="9.4" height="9" fill="#f01010"/>
<text x="309.3" y="96.8" font-size="8.6" font-weight="400" text-anchor="start" fill="#333" stroke="#333" stroke-width="0.28" >Effector</text>
<text x="343.9" y="96.8" font-size="8.6" font-weight="400" text-anchor="start" fill="#333" stroke="#333" stroke-width="0.28" >0.31</text>
<text x="309.3" y="108.8" font-size="8.6" font-weight="400" text-anchor="start" fill="#333" stroke="#333" stroke-width="0.28" >Memory</text>
<text x="343.9" y="108.8" font-size="8.6" font-weight="400" text-anchor="start" fill="#333" stroke="#333" stroke-width="0.28" >48.2</text>
<text x="309.3" y="120.6" font-size="8.6" font-weight="400" text-anchor="start" fill="#333" stroke="#333" stroke-width="0.28" >Naive</text>
<text x="343.9" y="120.6" font-size="8.6" font-weight="400" text-anchor="start" fill="#333" stroke="#333" stroke-width="0.28" >50</text>
<line x1="34.2" y1="239.2" x2="34.2" y2="364.2" stroke="#000" stroke-width="1.7" />
<line x1="29.7" y1="239.8" x2="34.2" y2="239.8" stroke="#000" stroke-width="1.5" />
<text transform="translate(28.9,243.1) scale(0.94,1)" font-size="9.5" font-weight="700" text-anchor="end" fill="#111" stroke="#111" stroke-width="0.12" >100</text>
<line x1="29.7" y1="270.7" x2="34.2" y2="270.7" stroke="#000" stroke-width="1.5" />
<text transform="translate(28.9,274.0) scale(0.94,1)" font-size="9.5" font-weight="700" text-anchor="end" fill="#111" stroke="#111" stroke-width="0.12" >75</text>
<line x1="29.7" y1="301.6" x2="34.2" y2="301.6" stroke="#000" stroke-width="1.5" />
<text transform="translate(28.9,304.9) scale(0.94,1)" font-size="9.5" font-weight="700" text-anchor="end" fill="#111" stroke="#111" stroke-width="0.12" >50</text>
<line x1="29.7" y1="332.6" x2="34.2" y2="332.6" stroke="#000" stroke-width="1.5" />
<text transform="translate(28.9,335.9) scale(0.94,1)" font-size="9.5" font-weight="700" text-anchor="end" fill="#111" stroke="#111" stroke-width="0.12" >25</text>
<line x1="29.7" y1="363.5" x2="34.2" y2="363.5" stroke="#000" stroke-width="1.5" />
<text transform="translate(28.9,366.8) scale(0.94,1)" font-size="9.5" font-weight="700" text-anchor="end" fill="#111" stroke="#111" stroke-width="0.12" >0</text>
<line x1="34.2" y1="363.5" x2="137.3" y2="363.5" stroke="#000" stroke-width="1.7" />
<line x1="33.9" y1="363.5" x2="33.9" y2="367.5" stroke="#000" stroke-width="1.5" />
<text transform="translate(33.9,376.6) scale(0.94,1)" font-size="9.5" font-weight="700" text-anchor="middle" fill="#111" stroke="#111" stroke-width="0.12" >-20</text>
<line x1="54.2" y1="363.5" x2="54.2" y2="367.5" stroke="#000" stroke-width="1.5" />
<text transform="translate(54.2,376.6) scale(0.94,1)" font-size="9.5" font-weight="700" text-anchor="middle" fill="#111" stroke="#111" stroke-width="0.12" >-10</text>
<line x1="74.4" y1="363.5" x2="74.4" y2="367.5" stroke="#000" stroke-width="1.5" />
<text transform="translate(74.4,376.6) scale(0.94,1)" font-size="9.5" font-weight="700" text-anchor="middle" fill="#111" stroke="#111" stroke-width="0.12" >0</text>
<line x1="95.0" y1="363.5" x2="95.0" y2="367.5" stroke="#000" stroke-width="1.5" />
<text transform="translate(95.0,376.6) scale(0.94,1)" font-size="9.5" font-weight="700" text-anchor="middle" fill="#111" stroke="#111" stroke-width="0.12" >10</text>
<line x1="115.4" y1="363.5" x2="115.4" y2="367.5" stroke="#000" stroke-width="1.5" />
<text transform="translate(115.4,376.6) scale(0.94,1)" font-size="9.5" font-weight="700" text-anchor="middle" fill="#111" stroke="#111" stroke-width="0.12" >20</text>
<line x1="135.8" y1="363.5" x2="135.8" y2="367.5" stroke="#000" stroke-width="1.5" />
<text transform="translate(135.8,376.6) scale(0.94,1)" font-size="9.5" font-weight="700" text-anchor="middle" fill="#111" stroke="#111" stroke-width="0.12" >30</text>
<line x1="44.1" y1="363.5" x2="44.1" y2="366.0" stroke="#000" stroke-width="1.2" />
<line x1="64.3" y1="363.5" x2="64.3" y2="366.0" stroke="#000" stroke-width="1.2" />
<line x1="84.7" y1="363.5" x2="84.7" y2="366.0" stroke="#000" stroke-width="1.2" />
<line x1="105.2" y1="363.5" x2="105.2" y2="366.0" stroke="#000" stroke-width="1.2" />
<line x1="125.6" y1="363.5" x2="125.6" y2="366.0" stroke="#000" stroke-width="1.2" />
<line x1="143.5" y1="363.5" x2="220.6" y2="363.5" stroke="#000" stroke-width="1.7" />
<line x1="150.8" y1="363.5" x2="150.8" y2="367.5" stroke="#000" stroke-width="1.5" />
<text transform="translate(150.8,376.6) scale(0.94,1)" font-size="9.5" font-weight="700" text-anchor="middle" fill="#111" stroke="#111" stroke-width="0.12" >60</text>
<line x1="168.1" y1="363.5" x2="168.1" y2="367.5" stroke="#000" stroke-width="1.5" />
<text transform="translate(168.1,376.6) scale(0.94,1)" font-size="9.5" font-weight="700" text-anchor="middle" fill="#111" stroke="#111" stroke-width="0.12" >90</text>
<line x1="185.4" y1="363.5" x2="185.4" y2="367.5" stroke="#000" stroke-width="1.5" />
<text transform="translate(185.4,376.6) scale(0.94,1)" font-size="9.5" font-weight="700" text-anchor="middle" fill="#111" stroke="#111" stroke-width="0.12" >120</text>
<line x1="202.7" y1="363.5" x2="202.7" y2="367.5" stroke="#000" stroke-width="1.5" />
<text transform="translate(202.7,376.6) scale(0.94,1)" font-size="9.5" font-weight="700" text-anchor="middle" fill="#111" stroke="#111" stroke-width="0.12" >150</text>
<line x1="220.0" y1="363.5" x2="220.0" y2="367.5" stroke="#000" stroke-width="1.5" />
<text transform="translate(220.0,376.6) scale(0.94,1)" font-size="9.5" font-weight="700" text-anchor="middle" fill="#111" stroke="#111" stroke-width="0.12" >180</text>
<line x1="145.2" y1="363.5" x2="145.2" y2="366.0" stroke="#000" stroke-width="1.2" />
<line x1="54.2" y1="239.1" x2="54.2" y2="363.0" stroke="#000" stroke-width="1.8" stroke-dasharray="3.3 2.2"/>
<line x1="73.9" y1="239.1" x2="73.9" y2="363.0" stroke="#000" stroke-width="1.8" stroke-dasharray="3.3 2.2"/>
<text transform="translate(11.2,301.9) rotate(-90)" font-size="10.5" font-weight="700" text-anchor="middle" fill="#111" stroke="#111" stroke-width="0.12">% of CD3+CD4+</text>
<text x="128.4" y="392.5" font-size="11.2" font-weight="400" text-anchor="middle" fill="#1a1a1a" stroke="#1a1a1a" stroke-width="0.28" >Days</text>
<line x1="176.7" y1="229.5" x2="195.5" y2="229.5" stroke="#1812a8" stroke-width="2.0" />
<circle cx="186.1" cy="229.5" r="2.4" fill="#1812a8"/>
<text x="198.0" y="233.2" font-size="10.6" font-weight="400" text-anchor="start" fill="#1a1a1a" stroke="#1a1a1a" stroke-width="0.28" >Effector</text>
<line x1="176.7" y1="244.5" x2="195.5" y2="244.5" stroke="#000" stroke-width="2.0" />
<path d="M186.1,241.5 L189.1,246.8 L183.1,246.8Z" fill="#000"/>
<text x="198.0" y="248.2" font-size="10.6" font-weight="400" text-anchor="start" fill="#1a1a1a" stroke="#1a1a1a" stroke-width="0.28" >Memory</text>
<line x1="176.7" y1="259.2" x2="195.5" y2="259.2" stroke="#e3101e" stroke-width="2.0" />
<rect x="183.5" y="256.6" width="5.1" height="5.1" fill="#e3101e"/>
<text x="198.0" y="262.9" font-size="10.6" font-weight="400" text-anchor="start" fill="#1a1a1a" stroke="#1a1a1a" stroke-width="0.28" >Naive</text>
<line x1="103.2" y1="353.5" x2="103.2" y2="361.0" stroke="#1812a8" stroke-width="1.3" />
<line x1="100.3" y1="353.5" x2="106.1" y2="353.5" stroke="#1812a8" stroke-width="1.4000000000000001" />
<line x1="100.3" y1="361.0" x2="106.1" y2="361.0" stroke="#1812a8" stroke-width="1.4000000000000001" />
<line x1="74.6" y1="281.0" x2="74.6" y2="331.0" stroke="#1c1c1c" stroke-width="1.3" />
<line x1="71.7" y1="281.0" x2="77.5" y2="281.0" stroke="#1c1c1c" stroke-width="1.4000000000000001" />
<line x1="71.7" y1="331.0" x2="77.5" y2="331.0" stroke="#1c1c1c" stroke-width="1.4000000000000001" />
<line x1="82.8" y1="264.6" x2="82.8" y2="287.7" stroke="#1c1c1c" stroke-width="1.3" />
<line x1="79.9" y1="264.6" x2="85.7" y2="264.6" stroke="#1c1c1c" stroke-width="1.4000000000000001" />
<line x1="79.9" y1="287.7" x2="85.7" y2="287.7" stroke="#1c1c1c" stroke-width="1.4000000000000001" />
<line x1="88.9" y1="263.0" x2="88.9" y2="309.0" stroke="#1c1c1c" stroke-width="1.3" />
<line x1="86.0" y1="263.0" x2="91.8" y2="263.0" stroke="#1c1c1c" stroke-width="1.4000000000000001" />
<line x1="86.0" y1="309.0" x2="91.8" y2="309.0" stroke="#1c1c1c" stroke-width="1.4000000000000001" />
<line x1="97.0" y1="265.4" x2="97.0" y2="296.0" stroke="#1c1c1c" stroke-width="1.3" />
<line x1="94.1" y1="265.4" x2="99.9" y2="265.4" stroke="#1c1c1c" stroke-width="1.4000000000000001" />
<line x1="94.1" y1="296.0" x2="99.9" y2="296.0" stroke="#1c1c1c" stroke-width="1.4000000000000001" />
<line x1="103.2" y1="265.7" x2="103.2" y2="293.8" stroke="#1c1c1c" stroke-width="1.3" />
<line x1="100.3" y1="265.7" x2="106.1" y2="265.7" stroke="#1c1c1c" stroke-width="1.4000000000000001" />
<line x1="100.3" y1="293.8" x2="106.1" y2="293.8" stroke="#1c1c1c" stroke-width="1.4000000000000001" />
<line x1="117.4" y1="256.5" x2="117.4" y2="277.0" stroke="#1c1c1c" stroke-width="1.3" />
<line x1="114.5" y1="256.5" x2="120.3" y2="256.5" stroke="#1c1c1c" stroke-width="1.4000000000000001" />
<line x1="114.5" y1="277.0" x2="120.3" y2="277.0" stroke="#1c1c1c" stroke-width="1.4000000000000001" />
<line x1="131.7" y1="269.0" x2="131.7" y2="306.0" stroke="#1c1c1c" stroke-width="1.3" />
<line x1="128.8" y1="269.0" x2="134.6" y2="269.0" stroke="#1c1c1c" stroke-width="1.4000000000000001" />
<line x1="128.8" y1="306.0" x2="134.6" y2="306.0" stroke="#1c1c1c" stroke-width="1.4000000000000001" />
<line x1="150.8" y1="278.0" x2="150.8" y2="316.7" stroke="#1c1c1c" stroke-width="1.3" />
<line x1="147.9" y1="278.0" x2="153.7" y2="278.0" stroke="#1c1c1c" stroke-width="1.4000000000000001" />
<line x1="147.9" y1="316.7" x2="153.7" y2="316.7" stroke="#1c1c1c" stroke-width="1.4000000000000001" />
<line x1="168.1" y1="271.0" x2="168.1" y2="309.7" stroke="#1c1c1c" stroke-width="1.3" />
<line x1="165.2" y1="271.0" x2="171.0" y2="271.0" stroke="#1c1c1c" stroke-width="1.4000000000000001" />
<line x1="165.2" y1="309.7" x2="171.0" y2="309.7" stroke="#1c1c1c" stroke-width="1.4000000000000001" />
<line x1="185.4" y1="272.7" x2="185.4" y2="318.8" stroke="#1c1c1c" stroke-width="1.3" />
<line x1="182.5" y1="272.7" x2="188.3" y2="272.7" stroke="#1c1c1c" stroke-width="1.4000000000000001" />
<line x1="182.5" y1="318.8" x2="188.3" y2="318.8" stroke="#1c1c1c" stroke-width="1.4000000000000001" />
<line x1="202.7" y1="276.3" x2="202.7" y2="319.9" stroke="#1c1c1c" stroke-width="1.3" />
<line x1="199.8" y1="276.3" x2="205.6" y2="276.3" stroke="#1c1c1c" stroke-width="1.4000000000000001" />
<line x1="199.8" y1="319.9" x2="205.6" y2="319.9" stroke="#1c1c1c" stroke-width="1.4000000000000001" />
<line x1="220.0" y1="276.3" x2="220.0" y2="320.7" stroke="#1c1c1c" stroke-width="1.3" />
<line x1="217.1" y1="276.3" x2="222.9" y2="276.3" stroke="#1c1c1c" stroke-width="1.4000000000000001" />
<line x1="217.1" y1="320.7" x2="222.9" y2="320.7" stroke="#1c1c1c" stroke-width="1.4000000000000001" />
<line x1="46.0" y1="293.3" x2="46.0" y2="313.8" stroke="#dc2a36" stroke-width="1.3" />
<line x1="43.1" y1="293.3" x2="48.9" y2="293.3" stroke="#dc2a36" stroke-width="1.4000000000000001" />
<line x1="43.1" y1="313.8" x2="48.9" y2="313.8" stroke="#dc2a36" stroke-width="1.4000000000000001" />
<line x1="74.6" y1="273.4" x2="74.6" y2="324.6" stroke="#dc2a36" stroke-width="1.3" />
<line x1="71.7" y1="273.4" x2="77.5" y2="273.4" stroke="#dc2a36" stroke-width="1.4000000000000001" />
<line x1="71.7" y1="324.6" x2="77.5" y2="324.6" stroke="#dc2a36" stroke-width="1.4000000000000001" />
<line x1="82.8" y1="320.8" x2="82.8" y2="347.2" stroke="#dc2a36" stroke-width="1.3" />
<line x1="79.9" y1="320.8" x2="85.7" y2="320.8" stroke="#dc2a36" stroke-width="1.4000000000000001" />
<line x1="79.9" y1="347.2" x2="85.7" y2="347.2" stroke="#dc2a36" stroke-width="1.4000000000000001" />
<line x1="88.9" y1="297.7" x2="88.9" y2="343.8" stroke="#dc2a36" stroke-width="1.3" />
<line x1="86.0" y1="297.7" x2="91.8" y2="297.7" stroke="#dc2a36" stroke-width="1.4000000000000001" />
<line x1="86.0" y1="343.8" x2="91.8" y2="343.8" stroke="#dc2a36" stroke-width="1.4000000000000001" />
<line x1="97.0" y1="311.5" x2="97.0" y2="344.6" stroke="#dc2a36" stroke-width="1.3" />
<line x1="94.1" y1="311.5" x2="99.9" y2="311.5" stroke="#dc2a36" stroke-width="1.4000000000000001" />
<line x1="94.1" y1="344.6" x2="99.9" y2="344.6" stroke="#dc2a36" stroke-width="1.4000000000000001" />
<line x1="103.2" y1="315.0" x2="103.2" y2="350.0" stroke="#dc2a36" stroke-width="1.3" />
<line x1="100.3" y1="315.0" x2="106.1" y2="315.0" stroke="#dc2a36" stroke-width="1.4000000000000001" />
<line x1="100.3" y1="350.0" x2="106.1" y2="350.0" stroke="#dc2a36" stroke-width="1.4000000000000001" />
<line x1="117.4" y1="330.5" x2="117.4" y2="353.0" stroke="#dc2a36" stroke-width="1.3" />
<line x1="114.5" y1="330.5" x2="120.3" y2="330.5" stroke="#dc2a36" stroke-width="1.4000000000000001" />
<line x1="114.5" y1="353.0" x2="120.3" y2="353.0" stroke="#dc2a36" stroke-width="1.4000000000000001" />
<line x1="131.7" y1="304.0" x2="131.7" y2="340.6" stroke="#dc2a36" stroke-width="1.3" />
<line x1="128.8" y1="304.0" x2="134.6" y2="304.0" stroke="#dc2a36" stroke-width="1.4000000000000001" />
<line x1="128.8" y1="340.6" x2="134.6" y2="340.6" stroke="#dc2a36" stroke-width="1.4000000000000001" />
<line x1="150.8" y1="289.6" x2="150.8" y2="331.5" stroke="#dc2a36" stroke-width="1.3" />
<line x1="147.9" y1="289.6" x2="153.7" y2="289.6" stroke="#dc2a36" stroke-width="1.4000000000000001" />
<line x1="147.9" y1="331.5" x2="153.7" y2="331.5" stroke="#dc2a36" stroke-width="1.4000000000000001" />
<line x1="168.1" y1="295.5" x2="168.1" y2="334.5" stroke="#dc2a36" stroke-width="1.3" />
<line x1="165.2" y1="295.5" x2="171.0" y2="295.5" stroke="#dc2a36" stroke-width="1.4000000000000001" />
<line x1="165.2" y1="334.5" x2="171.0" y2="334.5" stroke="#dc2a36" stroke-width="1.4000000000000001" />
<line x1="185.4" y1="287.0" x2="185.4" y2="334.5" stroke="#dc2a36" stroke-width="1.3" />
<line x1="182.5" y1="287.0" x2="188.3" y2="287.0" stroke="#dc2a36" stroke-width="1.4000000000000001" />
<line x1="182.5" y1="334.5" x2="188.3" y2="334.5" stroke="#dc2a36" stroke-width="1.4000000000000001" />
<line x1="202.7" y1="285.8" x2="202.7" y2="329.8" stroke="#dc2a36" stroke-width="1.3" />
<line x1="199.8" y1="285.8" x2="205.6" y2="285.8" stroke="#dc2a36" stroke-width="1.4000000000000001" />
<line x1="199.8" y1="329.8" x2="205.6" y2="329.8" stroke="#dc2a36" stroke-width="1.4000000000000001" />
<line x1="220.0" y1="285.8" x2="220.0" y2="330.2" stroke="#dc2a36" stroke-width="1.3" />
<line x1="217.1" y1="285.8" x2="222.9" y2="285.8" stroke="#dc2a36" stroke-width="1.4000000000000001" />
<line x1="217.1" y1="330.2" x2="222.9" y2="330.2" stroke="#dc2a36" stroke-width="1.4000000000000001" />
<polyline points="46.0,363.5 74.6,363.5 82.8,361.2 88.9,360.8 97.0,360.8 103.2,357.7 117.4,360.3 131.7,360.3 137.3,361.0" fill="none" stroke="#1812a8" stroke-width="2.2" stroke-linejoin="miter" />
<polyline points="143.5,361.7 150.8,362.6 168.1,362.6 185.4,362.6 202.7,362.6 220.0,362.6" fill="none" stroke="#1812a8" stroke-width="2.2" stroke-linejoin="miter" />
<polyline points="46.0,303.5 74.6,306.0 82.8,276.2 88.9,287.0 97.0,280.8 103.2,280.0 117.4,266.9 131.7,288.0 137.3,290.8" fill="none" stroke="#000" stroke-width="2.5" stroke-linejoin="miter" />
<polyline points="143.5,294.0 150.8,297.7 168.1,290.7 185.4,296.0 202.7,298.5 220.0,299.1" fill="none" stroke="#000" stroke-width="2.5" stroke-linejoin="miter" />
<polyline points="46.0,303.7 74.6,298.8 82.8,333.5 88.9,320.8 97.0,328.0 103.2,332.3 117.4,341.8 131.7,323.0 137.3,319.3" fill="none" stroke="#e3101e" stroke-width="2.5" stroke-linejoin="miter" />
<polyline points="143.5,315.2 150.8,310.3 168.1,315.4 185.4,310.8 202.7,308.2 220.0,308.2" fill="none" stroke="#e3101e" stroke-width="2.5" stroke-linejoin="miter" />
<circle cx="46.0" cy="363.5" r="2.5" fill="#1812a8"/>
<circle cx="74.6" cy="363.5" r="2.5" fill="#1812a8"/>
<circle cx="82.8" cy="361.2" r="2.5" fill="#1812a8"/>
<circle cx="88.9" cy="360.8" r="2.5" fill="#1812a8"/>
<circle cx="97.0" cy="360.8" r="2.5" fill="#1812a8"/>
<circle cx="103.2" cy="357.7" r="2.5" fill="#1812a8"/>
<circle cx="117.4" cy="360.3" r="2.5" fill="#1812a8"/>
<circle cx="131.7" cy="360.3" r="2.5" fill="#1812a8"/>
<circle cx="150.8" cy="362.6" r="2.5" fill="#1812a8"/>
<circle cx="168.1" cy="362.6" r="2.5" fill="#1812a8"/>
<circle cx="185.4" cy="362.6" r="2.5" fill="#1812a8"/>
<circle cx="202.7" cy="362.6" r="2.5" fill="#1812a8"/>
<circle cx="220.0" cy="362.6" r="2.5" fill="#1812a8"/>
<path d="M46.0,300.3 L49.2,305.9 L42.8,305.9Z" fill="#000"/>
<path d="M74.6,302.8 L77.8,308.4 L71.4,308.4Z" fill="#000"/>
<path d="M82.8,273.0 L86.0,278.6 L79.6,278.6Z" fill="#000"/>
<path d="M88.9,283.8 L92.1,289.4 L85.7,289.4Z" fill="#000"/>
<path d="M97.0,277.6 L100.2,283.2 L93.8,283.2Z" fill="#000"/>
<path d="M103.2,276.8 L106.4,282.4 L100.0,282.4Z" fill="#000"/>
<path d="M117.4,263.7 L120.6,269.3 L114.2,269.3Z" fill="#000"/>
<path d="M131.7,284.8 L134.9,290.4 L128.5,290.4Z" fill="#000"/>
<path d="M150.8,294.5 L154.0,300.1 L147.6,300.1Z" fill="#000"/>
<path d="M168.1,287.5 L171.3,293.1 L164.9,293.1Z" fill="#000"/>
<path d="M185.4,292.8 L188.6,298.4 L182.2,298.4Z" fill="#000"/>
<path d="M202.7,295.3 L205.9,300.9 L199.5,300.9Z" fill="#000"/>
<path d="M220.0,295.9 L223.2,301.5 L216.8,301.5Z" fill="#000"/>
<rect x="43.3" y="301.0" width="5.4" height="5.4" fill="#e3101e"/>
<rect x="71.9" y="296.1" width="5.4" height="5.4" fill="#e3101e"/>
<rect x="80.1" y="330.8" width="5.4" height="5.4" fill="#e3101e"/>
<rect x="86.2" y="318.1" width="5.4" height="5.4" fill="#e3101e"/>
<rect x="94.3" y="325.3" width="5.4" height="5.4" fill="#e3101e"/>
<rect x="100.5" y="329.6" width="5.4" height="5.4" fill="#e3101e"/>
<rect x="114.7" y="339.1" width="5.4" height="5.4" fill="#e3101e"/>
<rect x="129.0" y="320.3" width="5.4" height="5.4" fill="#e3101e"/>
<rect x="148.1" y="307.6" width="5.4" height="5.4" fill="#e3101e"/>
<rect x="165.4" y="312.7" width="5.4" height="5.4" fill="#e3101e"/>
<rect x="182.7" y="308.1" width="5.4" height="5.4" fill="#e3101e"/>
<rect x="200.0" y="305.5" width="5.4" height="5.4" fill="#e3101e"/>
<rect x="217.3" y="305.5" width="5.4" height="5.4" fill="#e3101e"/>
<line x1="34.2" y1="363.5" x2="137.3" y2="363.5" stroke="#000" stroke-width="1.7" />
<circle cx="46.0" cy="363.5" r="2.5" fill="#1812a8"/>
<circle cx="74.6" cy="363.5" r="2.5" fill="#1812a8"/>
<circle cx="82.8" cy="361.2" r="2.5" fill="#1812a8"/>
<circle cx="88.9" cy="360.8" r="2.5" fill="#1812a8"/>
<circle cx="97.0" cy="360.8" r="2.5" fill="#1812a8"/>
<circle cx="103.2" cy="357.7" r="2.5" fill="#1812a8"/>
<circle cx="117.4" cy="360.3" r="2.5" fill="#1812a8"/>
<circle cx="131.7" cy="360.3" r="2.5" fill="#1812a8"/>
<line x1="310.3" y1="238.0" x2="310.3" y2="363.5" stroke="#000" stroke-width="1.7" />
<line x1="305.8" y1="238.5" x2="310.3" y2="238.5" stroke="#000" stroke-width="1.5" />
<text transform="translate(305.0,241.8) scale(0.94,1)" font-size="9.5" font-weight="700" text-anchor="end" fill="#111" stroke="#111" stroke-width="0.12" >100</text>
<line x1="305.8" y1="269.6" x2="310.3" y2="269.6" stroke="#000" stroke-width="1.5" />
<text transform="translate(305.0,272.9) scale(0.94,1)" font-size="9.5" font-weight="700" text-anchor="end" fill="#111" stroke="#111" stroke-width="0.12" >75</text>
<line x1="305.8" y1="300.7" x2="310.3" y2="300.7" stroke="#000" stroke-width="1.5" />
<text transform="translate(305.0,304.0) scale(0.94,1)" font-size="9.5" font-weight="700" text-anchor="end" fill="#111" stroke="#111" stroke-width="0.12" >50</text>
<line x1="305.8" y1="331.8" x2="310.3" y2="331.8" stroke="#000" stroke-width="1.5" />
<text transform="translate(305.0,335.1) scale(0.94,1)" font-size="9.5" font-weight="700" text-anchor="end" fill="#111" stroke="#111" stroke-width="0.12" >25</text>
<line x1="305.8" y1="362.9" x2="310.3" y2="362.9" stroke="#000" stroke-width="1.5" />
<text transform="translate(305.0,366.2) scale(0.94,1)" font-size="9.5" font-weight="700" text-anchor="end" fill="#111" stroke="#111" stroke-width="0.12" >0</text>
<line x1="310.3" y1="362.6" x2="413.5" y2="362.6" stroke="#000" stroke-width="1.7" />
<line x1="310.4" y1="362.6" x2="310.4" y2="366.6" stroke="#000" stroke-width="1.5" />
<text transform="translate(310.4,375.8) scale(0.94,1)" font-size="9.5" font-weight="700" text-anchor="middle" fill="#111" stroke="#111" stroke-width="0.12" >-20</text>
<line x1="330.8" y1="362.6" x2="330.8" y2="366.6" stroke="#000" stroke-width="1.5" />
<text transform="translate(330.8,375.8) scale(0.94,1)" font-size="9.5" font-weight="700" text-anchor="middle" fill="#111" stroke="#111" stroke-width="0.12" >-10</text>
<line x1="350.8" y1="362.6" x2="350.8" y2="366.6" stroke="#000" stroke-width="1.5" />
<text transform="translate(350.8,375.8) scale(0.94,1)" font-size="9.5" font-weight="700" text-anchor="middle" fill="#111" stroke="#111" stroke-width="0.12" >0</text>
<line x1="371.2" y1="362.6" x2="371.2" y2="366.6" stroke="#000" stroke-width="1.5" />
<text transform="translate(371.2,375.8) scale(0.94,1)" font-size="9.5" font-weight="700" text-anchor="middle" fill="#111" stroke="#111" stroke-width="0.12" >10</text>
<line x1="391.6" y1="362.6" x2="391.6" y2="366.6" stroke="#000" stroke-width="1.5" />
<text transform="translate(391.6,375.8) scale(0.94,1)" font-size="9.5" font-weight="700" text-anchor="middle" fill="#111" stroke="#111" stroke-width="0.12" >20</text>
<line x1="411.8" y1="362.6" x2="411.8" y2="366.6" stroke="#000" stroke-width="1.5" />
<text transform="translate(411.8,375.8) scale(0.94,1)" font-size="9.5" font-weight="700" text-anchor="middle" fill="#111" stroke="#111" stroke-width="0.12" >30</text>
<line x1="320.6" y1="362.6" x2="320.6" y2="365.1" stroke="#000" stroke-width="1.2" />
<line x1="341.0" y1="362.6" x2="341.0" y2="365.1" stroke="#000" stroke-width="1.2" />
<line x1="361.0" y1="362.6" x2="361.0" y2="365.1" stroke="#000" stroke-width="1.2" />
<line x1="381.4" y1="362.6" x2="381.4" y2="365.1" stroke="#000" stroke-width="1.2" />
<line x1="401.7" y1="362.6" x2="401.7" y2="365.1" stroke="#000" stroke-width="1.2" />
<line x1="421.0" y1="362.6" x2="496.8" y2="362.6" stroke="#000" stroke-width="1.7" />
<line x1="427.3" y1="362.6" x2="427.3" y2="366.6" stroke="#000" stroke-width="1.5" />
<text transform="translate(427.3,375.8) scale(0.94,1)" font-size="9.5" font-weight="700" text-anchor="middle" fill="#111" stroke="#111" stroke-width="0.12" >60</text>
<line x1="444.5" y1="362.6" x2="444.5" y2="366.6" stroke="#000" stroke-width="1.5" />
<text transform="translate(444.5,375.8) scale(0.94,1)" font-size="9.5" font-weight="700" text-anchor="middle" fill="#111" stroke="#111" stroke-width="0.12" >90</text>
<line x1="461.7" y1="362.6" x2="461.7" y2="366.6" stroke="#000" stroke-width="1.5" />
<text transform="translate(461.7,375.8) scale(0.94,1)" font-size="9.5" font-weight="700" text-anchor="middle" fill="#111" stroke="#111" stroke-width="0.12" >120</text>
<line x1="478.8" y1="362.6" x2="478.8" y2="366.6" stroke="#000" stroke-width="1.5" />
<text transform="translate(478.8,375.8) scale(0.94,1)" font-size="9.5" font-weight="700" text-anchor="middle" fill="#111" stroke="#111" stroke-width="0.12" >150</text>
<line x1="496.0" y1="362.6" x2="496.0" y2="366.6" stroke="#000" stroke-width="1.5" />
<text transform="translate(496.0,375.8) scale(0.94,1)" font-size="9.5" font-weight="700" text-anchor="middle" fill="#111" stroke="#111" stroke-width="0.12" >180</text>
<line x1="422.5" y1="362.6" x2="422.5" y2="365.1" stroke="#000" stroke-width="1.2" />
<line x1="330.9" y1="238.0" x2="330.9" y2="362.0" stroke="#000" stroke-width="1.8" stroke-dasharray="3.3 2.2"/>
<line x1="350.0" y1="238.0" x2="350.0" y2="362.0" stroke="#000" stroke-width="1.8" stroke-dasharray="3.3 2.2"/>
<text transform="translate(286.4,301.0) rotate(-90)" font-size="10.5" font-weight="700" text-anchor="middle" fill="#111" stroke="#111" stroke-width="0.12">% of CD3+CD4+</text>
<text x="405.0" y="392.5" font-size="11.2" font-weight="400" text-anchor="middle" fill="#1a1a1a" stroke="#1a1a1a" stroke-width="0.28" >Days</text>
<line x1="452.3" y1="229.3" x2="471.0" y2="229.3" stroke="#1812a8" stroke-width="2.0" />
<circle cx="461.6" cy="229.3" r="2.4" fill="#1812a8"/>
<text x="473.2" y="233.0" font-size="10.6" font-weight="400" text-anchor="start" fill="#1a1a1a" stroke="#1a1a1a" stroke-width="0.28" >Effector</text>
<line x1="452.3" y1="244.5" x2="471.0" y2="244.5" stroke="#000" stroke-width="2.0" />
<path d="M461.6,241.5 L464.7,246.8 L458.6,246.8Z" fill="#000"/>
<text x="473.2" y="248.2" font-size="10.6" font-weight="400" text-anchor="start" fill="#1a1a1a" stroke="#1a1a1a" stroke-width="0.28" >Memory</text>
<line x1="452.3" y1="259.3" x2="471.0" y2="259.3" stroke="#e3101e" stroke-width="2.0" />
<rect x="459.1" y="256.7" width="5.1" height="5.1" fill="#e3101e"/>
<text x="473.2" y="263.0" font-size="10.6" font-weight="400" text-anchor="start" fill="#1a1a1a" stroke="#1a1a1a" stroke-width="0.28" >Naive</text>
<line x1="350.8" y1="348.5" x2="350.8" y2="358.8" stroke="#1812a8" stroke-width="1.3" />
<line x1="347.9" y1="348.5" x2="353.7" y2="348.5" stroke="#1812a8" stroke-width="1.4000000000000001" />
<line x1="347.9" y1="358.8" x2="353.7" y2="358.8" stroke="#1812a8" stroke-width="1.4000000000000001" />
<line x1="408.6" y1="354.5" x2="408.6" y2="360.2" stroke="#1812a8" stroke-width="1.3" />
<line x1="405.7" y1="354.5" x2="411.5" y2="354.5" stroke="#1812a8" stroke-width="1.4000000000000001" />
<line x1="405.7" y1="360.2" x2="411.5" y2="360.2" stroke="#1812a8" stroke-width="1.4000000000000001" />
<line x1="427.3" y1="349.0" x2="427.3" y2="354.5" stroke="#1812a8" stroke-width="1.3" />
<line x1="424.4" y1="349.0" x2="430.2" y2="349.0" stroke="#1812a8" stroke-width="1.4000000000000001" />
<line x1="424.4" y1="354.5" x2="430.2" y2="354.5" stroke="#1812a8" stroke-width="1.4000000000000001" />
<line x1="444.5" y1="349.7" x2="444.5" y2="358.1" stroke="#1812a8" stroke-width="1.3" />
<line x1="441.6" y1="349.7" x2="447.4" y2="349.7" stroke="#1812a8" stroke-width="1.4000000000000001" />
<line x1="441.6" y1="358.1" x2="447.4" y2="358.1" stroke="#1812a8" stroke-width="1.4000000000000001" />
<line x1="461.7" y1="354.3" x2="461.7" y2="357.7" stroke="#1812a8" stroke-width="1.3" />
<line x1="458.8" y1="354.3" x2="464.6" y2="354.3" stroke="#1812a8" stroke-width="1.4000000000000001" />
<line x1="458.8" y1="357.7" x2="464.6" y2="357.7" stroke="#1812a8" stroke-width="1.4000000000000001" />
<line x1="478.8" y1="350.3" x2="478.8" y2="358.8" stroke="#1812a8" stroke-width="1.3" />
<line x1="475.9" y1="350.3" x2="481.7" y2="350.3" stroke="#1812a8" stroke-width="1.4000000000000001" />
<line x1="475.9" y1="358.8" x2="481.7" y2="358.8" stroke="#1812a8" stroke-width="1.4000000000000001" />
<line x1="496.0" y1="341.8" x2="496.0" y2="356.0" stroke="#1812a8" stroke-width="1.3" />
<line x1="493.1" y1="341.8" x2="498.9" y2="341.8" stroke="#1812a8" stroke-width="1.4000000000000001" />
<line x1="493.1" y1="356.0" x2="498.9" y2="356.0" stroke="#1812a8" stroke-width="1.4000000000000001" />
<line x1="322.5" y1="302.2" x2="322.5" y2="310.5" stroke="#1c1c1c" stroke-width="1.3" />
<line x1="319.6" y1="302.2" x2="325.4" y2="302.2" stroke="#1c1c1c" stroke-width="1.4000000000000001" />
<line x1="319.6" y1="310.5" x2="325.4" y2="310.5" stroke="#1c1c1c" stroke-width="1.4000000000000001" />
<line x1="350.8" y1="275.3" x2="350.8" y2="296.6" stroke="#1c1c1c" stroke-width="1.3" />
<line x1="347.9" y1="275.3" x2="353.7" y2="275.3" stroke="#1c1c1c" stroke-width="1.4000000000000001" />
<line x1="347.9" y1="296.6" x2="353.7" y2="296.6" stroke="#1c1c1c" stroke-width="1.4000000000000001" />
<line x1="359.6" y1="265.5" x2="359.6" y2="275.9" stroke="#1c1c1c" stroke-width="1.3" />
<line x1="356.7" y1="265.5" x2="362.5" y2="265.5" stroke="#1c1c1c" stroke-width="1.4000000000000001" />
<line x1="356.7" y1="275.9" x2="362.5" y2="275.9" stroke="#1c1c1c" stroke-width="1.4000000000000001" />
<line x1="365.3" y1="260.5" x2="365.3" y2="266.0" stroke="#1c1c1c" stroke-width="1.3" />
<line x1="362.4" y1="260.5" x2="368.2" y2="260.5" stroke="#1c1c1c" stroke-width="1.4000000000000001" />
<line x1="362.4" y1="266.0" x2="368.2" y2="266.0" stroke="#1c1c1c" stroke-width="1.4000000000000001" />
<line x1="373.6" y1="270.2" x2="373.6" y2="281.0" stroke="#1c1c1c" stroke-width="1.3" />
<line x1="370.7" y1="270.2" x2="376.5" y2="270.2" stroke="#1c1c1c" stroke-width="1.4000000000000001" />
<line x1="370.7" y1="281.0" x2="376.5" y2="281.0" stroke="#1c1c1c" stroke-width="1.4000000000000001" />
<line x1="379.6" y1="262.0" x2="379.6" y2="280.2" stroke="#1c1c1c" stroke-width="1.3" />
<line x1="376.7" y1="262.0" x2="382.5" y2="262.0" stroke="#1c1c1c" stroke-width="1.4000000000000001" />
<line x1="376.7" y1="280.2" x2="382.5" y2="280.2" stroke="#1c1c1c" stroke-width="1.4000000000000001" />
<line x1="394.0" y1="257.7" x2="394.0" y2="271.0" stroke="#1c1c1c" stroke-width="1.3" />
<line x1="391.1" y1="257.7" x2="396.9" y2="257.7" stroke="#1c1c1c" stroke-width="1.4000000000000001" />
<line x1="391.1" y1="271.0" x2="396.9" y2="271.0" stroke="#1c1c1c" stroke-width="1.4000000000000001" />
<line x1="408.6" y1="266.5" x2="408.6" y2="278.0" stroke="#1c1c1c" stroke-width="1.3" />
<line x1="405.7" y1="266.5" x2="411.5" y2="266.5" stroke="#1c1c1c" stroke-width="1.4000000000000001" />
<line x1="405.7" y1="278.0" x2="411.5" y2="278.0" stroke="#1c1c1c" stroke-width="1.4000000000000001" />
<line x1="427.3" y1="275.7" x2="427.3" y2="286.5" stroke="#1c1c1c" stroke-width="1.3" />
<line x1="424.4" y1="275.7" x2="430.2" y2="275.7" stroke="#1c1c1c" stroke-width="1.4000000000000001" />
<line x1="424.4" y1="286.5" x2="430.2" y2="286.5" stroke="#1c1c1c" stroke-width="1.4000000000000001" />
<line x1="444.5" y1="283.5" x2="444.5" y2="300.4" stroke="#1c1c1c" stroke-width="1.3" />
<line x1="441.6" y1="283.5" x2="447.4" y2="283.5" stroke="#1c1c1c" stroke-width="1.4000000000000001" />
<line x1="441.6" y1="300.4" x2="447.4" y2="300.4" stroke="#1c1c1c" stroke-width="1.4000000000000001" />
<line x1="461.7" y1="276.2" x2="461.7" y2="295.3" stroke="#1c1c1c" stroke-width="1.3" />
<line x1="458.8" y1="276.2" x2="464.6" y2="276.2" stroke="#1c1c1c" stroke-width="1.4000000000000001" />
<line x1="458.8" y1="295.3" x2="464.6" y2="295.3" stroke="#1c1c1c" stroke-width="1.4000000000000001" />
<line x1="478.8" y1="279.2" x2="478.8" y2="297.0" stroke="#1c1c1c" stroke-width="1.3" />
<line x1="475.9" y1="279.2" x2="481.7" y2="279.2" stroke="#1c1c1c" stroke-width="1.4000000000000001" />
<line x1="475.9" y1="297.0" x2="481.7" y2="297.0" stroke="#1c1c1c" stroke-width="1.4000000000000001" />
<line x1="496.0" y1="276.2" x2="496.0" y2="287.7" stroke="#1c1c1c" stroke-width="1.3" />
<line x1="493.1" y1="276.2" x2="498.9" y2="276.2" stroke="#1c1c1c" stroke-width="1.4000000000000001" />
<line x1="493.1" y1="287.7" x2="498.9" y2="287.7" stroke="#1c1c1c" stroke-width="1.4000000000000001" />
<line x1="322.5" y1="299.5" x2="322.5" y2="315.8" stroke="#dc2a36" stroke-width="1.3" />
<line x1="319.6" y1="299.5" x2="325.4" y2="299.5" stroke="#dc2a36" stroke-width="1.4000000000000001" />
<line x1="319.6" y1="315.8" x2="325.4" y2="315.8" stroke="#dc2a36" stroke-width="1.4000000000000001" />
<line x1="350.8" y1="310.7" x2="350.8" y2="347.0" stroke="#dc2a36" stroke-width="1.3" />
<line x1="347.9" y1="310.7" x2="353.7" y2="310.7" stroke="#dc2a36" stroke-width="1.4000000000000001" />
<line x1="347.9" y1="347.0" x2="353.7" y2="347.0" stroke="#dc2a36" stroke-width="1.4000000000000001" />
<line x1="359.6" y1="329.0" x2="359.6" y2="350.3" stroke="#dc2a36" stroke-width="1.3" />
<line x1="356.7" y1="329.0" x2="362.5" y2="329.0" stroke="#dc2a36" stroke-width="1.4000000000000001" />
<line x1="356.7" y1="350.3" x2="362.5" y2="350.3" stroke="#dc2a36" stroke-width="1.4000000000000001" />
<line x1="365.3" y1="341.8" x2="365.3" y2="350.3" stroke="#dc2a36" stroke-width="1.3" />
<line x1="362.4" y1="341.8" x2="368.2" y2="341.8" stroke="#dc2a36" stroke-width="1.4000000000000001" />
<line x1="362.4" y1="350.3" x2="368.2" y2="350.3" stroke="#dc2a36" stroke-width="1.4000000000000001" />
<line x1="373.6" y1="328.0" x2="373.6" y2="344.6" stroke="#dc2a36" stroke-width="1.3" />
<line x1="370.7" y1="328.0" x2="376.5" y2="328.0" stroke="#dc2a36" stroke-width="1.4000000000000001" />
<line x1="370.7" y1="344.6" x2="376.5" y2="344.6" stroke="#dc2a36" stroke-width="1.4000000000000001" />
<line x1="379.6" y1="329.8" x2="379.6" y2="347.5" stroke="#dc2a36" stroke-width="1.3" />
<line x1="376.7" y1="329.8" x2="382.5" y2="329.8" stroke="#dc2a36" stroke-width="1.4000000000000001" />
<line x1="376.7" y1="347.5" x2="382.5" y2="347.5" stroke="#dc2a36" stroke-width="1.4000000000000001" />
<line x1="394.0" y1="337.0" x2="394.0" y2="351.3" stroke="#dc2a36" stroke-width="1.3" />
<line x1="391.1" y1="337.0" x2="396.9" y2="337.0" stroke="#dc2a36" stroke-width="1.4000000000000001" />
<line x1="391.1" y1="351.3" x2="396.9" y2="351.3" stroke="#dc2a36" stroke-width="1.4000000000000001" />
<line x1="408.6" y1="328.5" x2="408.6" y2="346.7" stroke="#dc2a36" stroke-width="1.3" />
<line x1="405.7" y1="328.5" x2="411.5" y2="328.5" stroke="#dc2a36" stroke-width="1.4000000000000001" />
<line x1="405.7" y1="346.7" x2="411.5" y2="346.7" stroke="#dc2a36" stroke-width="1.4000000000000001" />
<line x1="427.3" y1="319.6" x2="427.3" y2="340.8" stroke="#dc2a36" stroke-width="1.3" />
<line x1="424.4" y1="319.6" x2="430.2" y2="319.6" stroke="#dc2a36" stroke-width="1.4000000000000001" />
<line x1="424.4" y1="340.8" x2="430.2" y2="340.8" stroke="#dc2a36" stroke-width="1.4000000000000001" />
<line x1="444.5" y1="304.4" x2="444.5" y2="333.4" stroke="#dc2a36" stroke-width="1.3" />
<line x1="441.6" y1="304.4" x2="447.4" y2="304.4" stroke="#dc2a36" stroke-width="1.4000000000000001" />
<line x1="441.6" y1="333.4" x2="447.4" y2="333.4" stroke="#dc2a36" stroke-width="1.4000000000000001" />
<line x1="461.7" y1="311.8" x2="461.7" y2="336.5" stroke="#dc2a36" stroke-width="1.3" />
<line x1="458.8" y1="311.8" x2="464.6" y2="311.8" stroke="#dc2a36" stroke-width="1.4000000000000001" />
<line x1="458.8" y1="336.5" x2="464.6" y2="336.5" stroke="#dc2a36" stroke-width="1.4000000000000001" />
<line x1="478.8" y1="311.2" x2="478.8" y2="339.7" stroke="#dc2a36" stroke-width="1.3" />
<line x1="475.9" y1="311.2" x2="481.7" y2="311.2" stroke="#dc2a36" stroke-width="1.4000000000000001" />
<line x1="475.9" y1="339.7" x2="481.7" y2="339.7" stroke="#dc2a36" stroke-width="1.4000000000000001" />
<line x1="496.0" y1="323.4" x2="496.0" y2="344.0" stroke="#dc2a36" stroke-width="1.3" />
<line x1="493.1" y1="323.4" x2="498.9" y2="323.4" stroke="#dc2a36" stroke-width="1.4000000000000001" />
<line x1="493.1" y1="344.0" x2="498.9" y2="344.0" stroke="#dc2a36" stroke-width="1.4000000000000001" />
<polyline points="322.5,351.7 350.8,352.0 359.6,356.6 365.3,358.1 373.6,358.1 379.6,357.3 394.0,357.3 408.6,357.7 414.3,356.0" fill="none" stroke="#1812a8" stroke-width="2.2" stroke-linejoin="miter" />
<polyline points="420.0,354.2 427.3,352.0 444.5,353.5 461.7,356.0 478.8,354.1 496.0,349.2" fill="none" stroke="#1812a8" stroke-width="2.2" stroke-linejoin="miter" />
<polyline points="322.5,306.2 350.8,287.1 359.6,270.7 365.3,263.2 373.6,275.3 379.6,271.5 394.0,264.6 408.6,272.2 414.3,274.9" fill="none" stroke="#000" stroke-width="2.5" stroke-linejoin="miter" />
<polyline points="420.0,277.7 427.3,281.2 444.5,292.3 461.7,285.8 478.8,288.2 496.0,282.6" fill="none" stroke="#000" stroke-width="2.5" stroke-linejoin="miter" />
<polyline points="322.5,306.9 350.8,328.0 359.6,339.7 365.3,346.0 373.6,335.5 379.6,339.3 394.0,344.0 408.6,337.6 414.3,335.2" fill="none" stroke="#e3101e" stroke-width="2.5" stroke-linejoin="miter" />
<polyline points="420.0,332.8 427.3,329.8 444.5,317.9 461.7,323.8 478.8,324.9 496.0,334.0" fill="none" stroke="#e3101e" stroke-width="2.5" stroke-linejoin="miter" />
<circle cx="322.5" cy="351.7" r="2.5" fill="#1812a8"/>
<circle cx="350.8" cy="352.0" r="2.5" fill="#1812a8"/>
<circle cx="359.6" cy="356.6" r="2.5" fill="#1812a8"/>
<circle cx="365.3" cy="358.1" r="2.5" fill="#1812a8"/>
<circle cx="373.6" cy="358.1" r="2.5" fill="#1812a8"/>
<circle cx="379.6" cy="357.3" r="2.5" fill="#1812a8"/>
<circle cx="394.0" cy="357.3" r="2.5" fill="#1812a8"/>
<circle cx="408.6" cy="357.7" r="2.5" fill="#1812a8"/>
<circle cx="427.3" cy="352.0" r="2.5" fill="#1812a8"/>
<circle cx="444.5" cy="353.5" r="2.5" fill="#1812a8"/>
<circle cx="461.7" cy="356.0" r="2.5" fill="#1812a8"/>
<circle cx="478.8" cy="354.1" r="2.5" fill="#1812a8"/>
<circle cx="496.0" cy="349.2" r="2.5" fill="#1812a8"/>
<path d="M322.5,303.0 L325.7,308.6 L319.3,308.6Z" fill="#000"/>
<path d="M350.8,283.9 L354.0,289.5 L347.6,289.5Z" fill="#000"/>
<path d="M359.6,267.5 L362.8,273.1 L356.4,273.1Z" fill="#000"/>
<path d="M365.3,260.0 L368.5,265.6 L362.1,265.6Z" fill="#000"/>
<path d="M373.6,272.1 L376.8,277.7 L370.4,277.7Z" fill="#000"/>
<path d="M379.6,268.3 L382.8,273.9 L376.4,273.9Z" fill="#000"/>
<path d="M394.0,261.4 L397.2,267.0 L390.8,267.0Z" fill="#000"/>
<path d="M408.6,269.0 L411.8,274.6 L405.4,274.6Z" fill="#000"/>
<path d="M427.3,278.0 L430.5,283.6 L424.1,283.6Z" fill="#000"/>
<path d="M444.5,289.1 L447.7,294.7 L441.3,294.7Z" fill="#000"/>
<path d="M461.7,282.6 L464.9,288.2 L458.5,288.2Z" fill="#000"/>
<path d="M478.8,285.0 L482.0,290.6 L475.6,290.6Z" fill="#000"/>
<path d="M496.0,279.4 L499.2,285.0 L492.8,285.0Z" fill="#000"/>
<rect x="319.8" y="304.2" width="5.4" height="5.4" fill="#e3101e"/>
<rect x="348.1" y="325.3" width="5.4" height="5.4" fill="#e3101e"/>
<rect x="356.9" y="337.0" width="5.4" height="5.4" fill="#e3101e"/>
<rect x="362.6" y="343.3" width="5.4" height="5.4" fill="#e3101e"/>
<rect x="370.9" y="332.8" width="5.4" height="5.4" fill="#e3101e"/>
<rect x="376.9" y="336.6" width="5.4" height="5.4" fill="#e3101e"/>
<rect x="391.3" y="341.3" width="5.4" height="5.4" fill="#e3101e"/>
<rect x="405.9" y="334.9" width="5.4" height="5.4" fill="#e3101e"/>
<rect x="424.6" y="327.1" width="5.4" height="5.4" fill="#e3101e"/>
<rect x="441.8" y="315.2" width="5.4" height="5.4" fill="#e3101e"/>
<rect x="459.0" y="321.1" width="5.4" height="5.4" fill="#e3101e"/>
<rect x="476.1" y="322.2" width="5.4" height="5.4" fill="#e3101e"/>
<rect x="493.3" y="331.3" width="5.4" height="5.4" fill="#e3101e"/>
<line x1="43.0" y1="439.0" x2="43.0" y2="474.4" stroke="#000" stroke-width="1.6" />
<line x1="38.5" y1="439.5" x2="43.0" y2="439.5" stroke="#000" stroke-width="1.4" />
<text transform="translate(37.7,442.9) scale(0.95,1)" font-size="9.8" font-weight="700" text-anchor="end" fill="#111" stroke="#111" stroke-width="0.12" >1200</text>
<line x1="38.5" y1="456.8" x2="43.0" y2="456.8" stroke="#000" stroke-width="1.4" />
<text transform="translate(37.7,460.2) scale(0.95,1)" font-size="9.8" font-weight="700" text-anchor="end" fill="#111" stroke="#111" stroke-width="0.12" >800</text>
<line x1="38.5" y1="473.6" x2="43.0" y2="473.6" stroke="#000" stroke-width="1.4" />
<text transform="translate(37.7,477.0) scale(0.95,1)" font-size="9.8" font-weight="700" text-anchor="end" fill="#111" stroke="#111" stroke-width="0.12" >400</text>
<line x1="41.5" y1="475.6" x2="46.0" y2="475.6" stroke="#000" stroke-width="1.5" />
<line x1="43.0" y1="485.2" x2="43.0" y2="569.5" stroke="#000" stroke-width="1.6" />
<line x1="40.5" y1="485.2" x2="45.5" y2="485.2" stroke="#000" stroke-width="1.5" />
<line x1="38.5" y1="497.4" x2="43.0" y2="497.4" stroke="#000" stroke-width="1.4" />
<text transform="translate(37.7,500.8) scale(0.95,1)" font-size="9.8" font-weight="700" text-anchor="end" fill="#111" stroke="#111" stroke-width="0.12" >300</text>
<line x1="38.5" y1="521.4" x2="43.0" y2="521.4" stroke="#000" stroke-width="1.4" />
<text transform="translate(37.7,524.8) scale(0.95,1)" font-size="9.8" font-weight="700" text-anchor="end" fill="#111" stroke="#111" stroke-width="0.12" >200</text>
<line x1="38.5" y1="545.3" x2="43.0" y2="545.3" stroke="#000" stroke-width="1.4" />
<text transform="translate(37.7,548.7) scale(0.95,1)" font-size="9.8" font-weight="700" text-anchor="end" fill="#111" stroke="#111" stroke-width="0.12" >100</text>
<line x1="38.5" y1="569.2" x2="43.0" y2="569.2" stroke="#000" stroke-width="1.4" />
<text transform="translate(37.7,572.6) scale(0.95,1)" font-size="9.8" font-weight="700" text-anchor="end" fill="#111" stroke="#111" stroke-width="0.12" >0</text>
<line x1="43.0" y1="569.2" x2="151.0" y2="569.2" stroke="#000" stroke-width="1.7" />
<line x1="42.6" y1="569.2" x2="42.6" y2="573.2" stroke="#000" stroke-width="1.5" />
<text transform="translate(42.6,582.6) scale(0.95,1)" font-size="9.8" font-weight="700" text-anchor="middle" fill="#111" stroke="#111" stroke-width="0.12" >-20</text>
<line x1="64.0" y1="569.2" x2="64.0" y2="573.2" stroke="#000" stroke-width="1.5" />
<text transform="translate(64.0,582.6) scale(0.95,1)" font-size="9.8" font-weight="700" text-anchor="middle" fill="#111" stroke="#111" stroke-width="0.12" >-10</text>
<line x1="85.3" y1="569.2" x2="85.3" y2="573.2" stroke="#000" stroke-width="1.5" />
<text transform="translate(85.3,582.6) scale(0.95,1)" font-size="9.8" font-weight="700" text-anchor="middle" fill="#111" stroke="#111" stroke-width="0.12" >0</text>
<line x1="106.6" y1="569.2" x2="106.6" y2="573.2" stroke="#000" stroke-width="1.5" />
<text transform="translate(106.6,582.6) scale(0.95,1)" font-size="9.8" font-weight="700" text-anchor="middle" fill="#111" stroke="#111" stroke-width="0.12" >10</text>
<line x1="128.4" y1="569.2" x2="128.4" y2="573.2" stroke="#000" stroke-width="1.5" />
<text transform="translate(128.4,582.6) scale(0.95,1)" font-size="9.8" font-weight="700" text-anchor="middle" fill="#111" stroke="#111" stroke-width="0.12" >20</text>
<line x1="149.6" y1="569.2" x2="149.6" y2="573.2" stroke="#000" stroke-width="1.5" />
<text transform="translate(149.6,582.6) scale(0.95,1)" font-size="9.8" font-weight="700" text-anchor="middle" fill="#111" stroke="#111" stroke-width="0.12" >30</text>
<line x1="53.3" y1="569.2" x2="53.3" y2="571.7" stroke="#000" stroke-width="1.2" />
<line x1="74.6" y1="569.2" x2="74.6" y2="571.7" stroke="#000" stroke-width="1.2" />
<line x1="96.0" y1="569.2" x2="96.0" y2="571.7" stroke="#000" stroke-width="1.2" />
<line x1="117.5" y1="569.2" x2="117.5" y2="571.7" stroke="#000" stroke-width="1.2" />
<line x1="139.0" y1="569.2" x2="139.0" y2="571.7" stroke="#000" stroke-width="1.2" />
<line x1="157.5" y1="569.2" x2="237.6" y2="569.2" stroke="#000" stroke-width="1.7" />
<line x1="165.2" y1="569.2" x2="165.2" y2="573.2" stroke="#000" stroke-width="1.5" />
<text transform="translate(165.2,582.6) scale(0.95,1)" font-size="9.8" font-weight="700" text-anchor="middle" fill="#111" stroke="#111" stroke-width="0.12" >60</text>
<line x1="182.8" y1="569.2" x2="182.8" y2="573.2" stroke="#000" stroke-width="1.5" />
<text transform="translate(182.8,582.6) scale(0.95,1)" font-size="9.8" font-weight="700" text-anchor="middle" fill="#111" stroke="#111" stroke-width="0.12" >90</text>
<line x1="200.8" y1="569.2" x2="200.8" y2="573.2" stroke="#000" stroke-width="1.5" />
<text transform="translate(200.8,582.6) scale(0.95,1)" font-size="9.8" font-weight="700" text-anchor="middle" fill="#111" stroke="#111" stroke-width="0.12" >120</text>
<line x1="218.7" y1="569.2" x2="218.7" y2="573.2" stroke="#000" stroke-width="1.5" />
<text transform="translate(218.7,582.6) scale(0.95,1)" font-size="9.8" font-weight="700" text-anchor="middle" fill="#111" stroke="#111" stroke-width="0.12" >150</text>
<line x1="236.9" y1="569.2" x2="236.9" y2="573.2" stroke="#000" stroke-width="1.5" />
<text transform="translate(236.9,582.6) scale(0.95,1)" font-size="9.8" font-weight="700" text-anchor="middle" fill="#111" stroke="#111" stroke-width="0.12" >180</text>
<line x1="159.3" y1="569.2" x2="159.3" y2="571.7" stroke="#000" stroke-width="1.2" />
<line x1="64.0" y1="438.8" x2="64.0" y2="568.5" stroke="#000" stroke-width="1.8" stroke-dasharray="3.7 2.2"/>
<line x1="84.1" y1="438.8" x2="84.1" y2="568.5" stroke="#000" stroke-width="1.8" stroke-dasharray="3.7 2.2"/>
<text transform="translate(14.9,504.4) rotate(-90)" font-size="10.6" font-weight="700" text-anchor="middle" fill="#111" stroke="#111" stroke-width="0.12"># CD3+CD4+ cells/mm<tspan font-size="7.8" dy="-4.6" dx="0.3">3</tspan></text>
<text x="141.3" y="599.8" font-size="11.2" font-weight="400" text-anchor="middle" fill="#1a1a1a" stroke="#1a1a1a" stroke-width="0.28" >Days</text>
<line x1="131.5" y1="450.5" x2="150.8" y2="450.5" stroke="#1812a8" stroke-width="2.0" />
<circle cx="141.2" cy="450.5" r="2.4" fill="#1812a8"/>
<text x="153.6" y="454.2" font-size="10.6" font-weight="400" text-anchor="start" fill="#1a1a1a" stroke="#1a1a1a" stroke-width="0.28" >Effector</text>
<line x1="131.5" y1="465.8" x2="150.8" y2="465.8" stroke="#000" stroke-width="2.0" />
<path d="M141.2,462.8 L144.2,468.1 L138.1,468.1Z" fill="#000"/>
<text x="153.6" y="469.5" font-size="10.6" font-weight="400" text-anchor="start" fill="#1a1a1a" stroke="#1a1a1a" stroke-width="0.28" >Memory</text>
<line x1="131.5" y1="480.8" x2="150.8" y2="480.8" stroke="#e3101e" stroke-width="2.0" />
<rect x="138.6" y="478.2" width="5.1" height="5.1" fill="#e3101e"/>
<text x="153.6" y="484.5" font-size="10.6" font-weight="400" text-anchor="start" fill="#1a1a1a" stroke="#1a1a1a" stroke-width="0.28" >Naive</text>
<line x1="218.7" y1="466.6" x2="218.7" y2="475.6" stroke="#e3101e" stroke-width="1.2" />
<line x1="215.7" y1="466.6" x2="221.7" y2="466.6" stroke="#e3101e" stroke-width="1.2" />
<line x1="218.7" y1="485.0" x2="218.7" y2="543.8" stroke="#e3101e" stroke-width="1.2" />
<line x1="215.7" y1="543.8" x2="221.7" y2="543.8" stroke="#e3101e" stroke-width="1.2" />
<line x1="236.9" y1="441.8" x2="236.9" y2="475.6" stroke="#e3101e" stroke-width="1.2" />
<line x1="233.9" y1="441.8" x2="239.9" y2="441.8" stroke="#e3101e" stroke-width="1.2" />
<line x1="236.9" y1="485.0" x2="236.9" y2="540.0" stroke="#e3101e" stroke-width="1.2" />
<line x1="233.9" y1="540.0" x2="239.9" y2="540.0" stroke="#e3101e" stroke-width="1.2" />
<line x1="85.2" y1="540.0" x2="85.2" y2="557.0" stroke="#1c1c1c" stroke-width="1.3" />
<line x1="82.3" y1="540.0" x2="88.1" y2="540.0" stroke="#1c1c1c" stroke-width="1.4000000000000001" />
<line x1="82.3" y1="557.0" x2="88.1" y2="557.0" stroke="#1c1c1c" stroke-width="1.4000000000000001" />
<line x1="93.9" y1="543.0" x2="93.9" y2="561.0" stroke="#1c1c1c" stroke-width="1.3" />
<line x1="91.0" y1="543.0" x2="96.8" y2="543.0" stroke="#1c1c1c" stroke-width="1.4000000000000001" />
<line x1="91.0" y1="561.0" x2="96.8" y2="561.0" stroke="#1c1c1c" stroke-width="1.4000000000000001" />
<line x1="100.3" y1="544.6" x2="100.3" y2="563.0" stroke="#1c1c1c" stroke-width="1.3" />
<line x1="97.4" y1="544.6" x2="103.2" y2="544.6" stroke="#1c1c1c" stroke-width="1.4000000000000001" />
<line x1="97.4" y1="563.0" x2="103.2" y2="563.0" stroke="#1c1c1c" stroke-width="1.4000000000000001" />
<line x1="108.8" y1="538.8" x2="108.8" y2="560.0" stroke="#1c1c1c" stroke-width="1.3" />
<line x1="105.9" y1="538.8" x2="111.7" y2="538.8" stroke="#1c1c1c" stroke-width="1.4000000000000001" />
<line x1="105.9" y1="560.0" x2="111.7" y2="560.0" stroke="#1c1c1c" stroke-width="1.4000000000000001" />
<line x1="115.3" y1="542.3" x2="115.3" y2="563.7" stroke="#1c1c1c" stroke-width="1.3" />
<line x1="112.4" y1="542.3" x2="118.2" y2="542.3" stroke="#1c1c1c" stroke-width="1.4000000000000001" />
<line x1="112.4" y1="563.7" x2="118.2" y2="563.7" stroke="#1c1c1c" stroke-width="1.4000000000000001" />
<line x1="130.1" y1="553.5" x2="130.1" y2="566.0" stroke="#1c1c1c" stroke-width="1.3" />
<line x1="127.2" y1="553.5" x2="133.0" y2="553.5" stroke="#1c1c1c" stroke-width="1.4000000000000001" />
<line x1="127.2" y1="566.0" x2="133.0" y2="566.0" stroke="#1c1c1c" stroke-width="1.4000000000000001" />
<line x1="145.2" y1="544.0" x2="145.2" y2="561.0" stroke="#1c1c1c" stroke-width="1.3" />
<line x1="142.3" y1="544.0" x2="148.1" y2="544.0" stroke="#1c1c1c" stroke-width="1.4000000000000001" />
<line x1="142.3" y1="561.0" x2="148.1" y2="561.0" stroke="#1c1c1c" stroke-width="1.4000000000000001" />
<line x1="165.2" y1="526.9" x2="165.2" y2="551.6" stroke="#1c1c1c" stroke-width="1.3" />
<line x1="162.3" y1="526.9" x2="168.1" y2="526.9" stroke="#1c1c1c" stroke-width="1.4000000000000001" />
<line x1="162.3" y1="551.6" x2="168.1" y2="551.6" stroke="#1c1c1c" stroke-width="1.4000000000000001" />
<line x1="182.8" y1="525.6" x2="182.8" y2="546.4" stroke="#1c1c1c" stroke-width="1.3" />
<line x1="179.9" y1="525.6" x2="185.7" y2="525.6" stroke="#1c1c1c" stroke-width="1.4000000000000001" />
<line x1="179.9" y1="546.4" x2="185.7" y2="546.4" stroke="#1c1c1c" stroke-width="1.4000000000000001" />
<line x1="200.8" y1="525.2" x2="200.8" y2="545.3" stroke="#1c1c1c" stroke-width="1.3" />
<line x1="197.9" y1="525.2" x2="203.7" y2="525.2" stroke="#1c1c1c" stroke-width="1.4000000000000001" />
<line x1="197.9" y1="545.3" x2="203.7" y2="545.3" stroke="#1c1c1c" stroke-width="1.4000000000000001" />
<line x1="218.7" y1="515.7" x2="218.7" y2="540.4" stroke="#1c1c1c" stroke-width="1.3" />
<line x1="215.8" y1="515.7" x2="221.6" y2="515.7" stroke="#1c1c1c" stroke-width="1.4000000000000001" />
<line x1="215.8" y1="540.4" x2="221.6" y2="540.4" stroke="#1c1c1c" stroke-width="1.4000000000000001" />
<line x1="236.9" y1="509.3" x2="236.9" y2="531.5" stroke="#1c1c1c" stroke-width="1.3" />
<line x1="234.0" y1="509.3" x2="239.8" y2="509.3" stroke="#1c1c1c" stroke-width="1.4000000000000001" />
<line x1="234.0" y1="531.5" x2="239.8" y2="531.5" stroke="#1c1c1c" stroke-width="1.4000000000000001" />
<line x1="55.3" y1="442.9" x2="55.3" y2="468.0" stroke="#dc2a36" stroke-width="1.3" />
<line x1="52.4" y1="442.9" x2="58.2" y2="442.9" stroke="#dc2a36" stroke-width="1.4000000000000001" />
<line x1="52.4" y1="468.0" x2="58.2" y2="468.0" stroke="#dc2a36" stroke-width="1.4000000000000001" />
<line x1="85.2" y1="533.5" x2="85.2" y2="553.0" stroke="#dc2a36" stroke-width="1.3" />
<line x1="82.3" y1="533.5" x2="88.1" y2="533.5" stroke="#dc2a36" stroke-width="1.4000000000000001" />
<line x1="82.3" y1="553.0" x2="88.1" y2="553.0" stroke="#dc2a36" stroke-width="1.4000000000000001" />
<line x1="93.9" y1="556.5" x2="93.9" y2="566.0" stroke="#dc2a36" stroke-width="1.3" />
<line x1="91.0" y1="556.5" x2="96.8" y2="556.5" stroke="#dc2a36" stroke-width="1.4000000000000001" />
<line x1="91.0" y1="566.0" x2="96.8" y2="566.0" stroke="#dc2a36" stroke-width="1.4000000000000001" />
<line x1="100.3" y1="549.0" x2="100.3" y2="563.0" stroke="#dc2a36" stroke-width="1.3" />
<line x1="97.4" y1="549.0" x2="103.2" y2="549.0" stroke="#dc2a36" stroke-width="1.4000000000000001" />
<line x1="97.4" y1="563.0" x2="103.2" y2="563.0" stroke="#dc2a36" stroke-width="1.4000000000000001" />
<line x1="108.8" y1="553.0" x2="108.8" y2="562.0" stroke="#dc2a36" stroke-width="1.3" />
<line x1="105.9" y1="553.0" x2="111.7" y2="553.0" stroke="#dc2a36" stroke-width="1.4000000000000001" />
<line x1="105.9" y1="562.0" x2="111.7" y2="562.0" stroke="#dc2a36" stroke-width="1.4000000000000001" />
<line x1="115.3" y1="556.0" x2="115.3" y2="565.0" stroke="#dc2a36" stroke-width="1.3" />
<line x1="112.4" y1="556.0" x2="118.2" y2="556.0" stroke="#dc2a36" stroke-width="1.4000000000000001" />
<line x1="112.4" y1="565.0" x2="118.2" y2="565.0" stroke="#dc2a36" stroke-width="1.4000000000000001" />
<line x1="130.1" y1="563.0" x2="130.1" y2="569.0" stroke="#dc2a36" stroke-width="1.3" />
<line x1="127.2" y1="563.0" x2="133.0" y2="563.0" stroke="#dc2a36" stroke-width="1.4000000000000001" />
<line x1="127.2" y1="569.0" x2="133.0" y2="569.0" stroke="#dc2a36" stroke-width="1.4000000000000001" />
<line x1="145.2" y1="548.5" x2="145.2" y2="561.5" stroke="#dc2a36" stroke-width="1.3" />
<line x1="142.3" y1="548.5" x2="148.1" y2="548.5" stroke="#dc2a36" stroke-width="1.4000000000000001" />
<line x1="142.3" y1="561.5" x2="148.1" y2="561.5" stroke="#dc2a36" stroke-width="1.4000000000000001" />
<line x1="165.2" y1="516.7" x2="165.2" y2="551.6" stroke="#dc2a36" stroke-width="1.3" />
<line x1="162.3" y1="516.7" x2="168.1" y2="516.7" stroke="#dc2a36" stroke-width="1.4000000000000001" />
<line x1="162.3" y1="551.6" x2="168.1" y2="551.6" stroke="#dc2a36" stroke-width="1.4000000000000001" />
<line x1="182.8" y1="521.4" x2="182.8" y2="552.3" stroke="#dc2a36" stroke-width="1.3" />
<line x1="179.9" y1="521.4" x2="185.7" y2="521.4" stroke="#dc2a36" stroke-width="1.4000000000000001" />
<line x1="179.9" y1="552.3" x2="185.7" y2="552.3" stroke="#dc2a36" stroke-width="1.4000000000000001" />
<line x1="200.8" y1="491.3" x2="200.8" y2="547.4" stroke="#dc2a36" stroke-width="1.3" />
<line x1="197.9" y1="491.3" x2="203.7" y2="491.3" stroke="#dc2a36" stroke-width="1.4000000000000001" />
<line x1="197.9" y1="547.4" x2="203.7" y2="547.4" stroke="#dc2a36" stroke-width="1.4000000000000001" />
<polyline points="55.3,568.0 85.2,569.0 93.9,569.0 100.3,569.0 108.8,569.0 115.3,569.0 130.1,569.0 145.2,568.5 151.0,568.5" fill="none" stroke="#1812a8" stroke-width="2.2" stroke-linejoin="miter" />
<polyline points="157.5,568.5 165.2,568.5 182.8,568.5 200.8,568.5 218.7,568.3 236.9,567.5" fill="none" stroke="#1812a8" stroke-width="2.2" stroke-linejoin="miter" />
<polyline points="55.3,471.5 60.0,475.4" fill="none" stroke="#000" stroke-width="2.5" stroke-linejoin="miter" />
<polyline points="59.8,484.8 85.2,547.4 93.9,552.3 100.3,553.8 108.8,549.5 115.3,553.0 130.1,559.7 145.2,552.0 151.0,548.4" fill="none" stroke="#000" stroke-width="2.5" stroke-linejoin="miter" />
<polyline points="157.5,544.4 165.2,539.6 182.8,536.8 200.8,534.7 218.7,528.4 236.9,521.0" fill="none" stroke="#000" stroke-width="2.5" stroke-linejoin="miter" />
<polyline points="55.3,461.0 60.2,475.4" fill="none" stroke="#e3101e" stroke-width="2.5" stroke-linejoin="miter" />
<polyline points="61.8,484.8 85.2,544.6 93.9,561.5 100.3,556.2 108.8,557.7 115.3,560.8 130.1,566.2 145.2,556.5 151.0,549.9" fill="none" stroke="#e3101e" stroke-width="2.5" stroke-linejoin="miter" />
<polyline points="157.5,542.5 165.2,533.7 182.8,536.8 200.8,519.9 218.7,505.1 236.9,491.3" fill="none" stroke="#e3101e" stroke-width="2.5" stroke-linejoin="miter" />
<circle cx="55.3" cy="568.0" r="2.5" fill="#1812a8"/>
<circle cx="85.2" cy="569.0" r="2.5" fill="#1812a8"/>
<circle cx="93.9" cy="569.0" r="2.5" fill="#1812a8"/>
<circle cx="100.3" cy="569.0" r="2.5" fill="#1812a8"/>
<circle cx="108.8" cy="569.0" r="2.5" fill="#1812a8"/>
<circle cx="115.3" cy="569.0" r="2.5" fill="#1812a8"/>
<circle cx="130.1" cy="569.0" r="2.5" fill="#1812a8"/>
<circle cx="145.2" cy="568.5" r="2.5" fill="#1812a8"/>
<circle cx="165.2" cy="568.5" r="2.5" fill="#1812a8"/>
<circle cx="182.8" cy="568.5" r="2.5" fill="#1812a8"/>
<circle cx="200.8" cy="568.5" r="2.5" fill="#1812a8"/>
<circle cx="218.7" cy="568.3" r="2.5" fill="#1812a8"/>
<circle cx="236.9" cy="567.5" r="2.5" fill="#1812a8"/>
<path d="M55.3,468.3 L58.5,473.9 L52.1,473.9Z" fill="#000"/>
<path d="M85.2,544.2 L88.4,549.8 L82.0,549.8Z" fill="#000"/>
<path d="M93.9,549.1 L97.1,554.7 L90.7,554.7Z" fill="#000"/>
<path d="M100.3,550.6 L103.5,556.2 L97.1,556.2Z" fill="#000"/>
<path d="M108.8,546.3 L112.0,551.9 L105.6,551.9Z" fill="#000"/>
<path d="M115.3,549.8 L118.5,555.4 L112.1,555.4Z" fill="#000"/>
<path d="M130.1,556.5 L133.3,562.1 L126.9,562.1Z" fill="#000"/>
<path d="M145.2,548.8 L148.4,554.4 L142.0,554.4Z" fill="#000"/>
<path d="M165.2,536.4 L168.4,542.0 L162.0,542.0Z" fill="#000"/>
<path d="M182.8,533.6 L186.0,539.2 L179.6,539.2Z" fill="#000"/>
<path d="M200.8,531.5 L204.0,537.1 L197.6,537.1Z" fill="#000"/>
<path d="M218.7,525.2 L221.9,530.8 L215.5,530.8Z" fill="#000"/>
<path d="M236.9,517.8 L240.1,523.4 L233.7,523.4Z" fill="#000"/>
<rect x="52.6" y="458.3" width="5.4" height="5.4" fill="#e3101e"/>
<rect x="82.5" y="541.9" width="5.4" height="5.4" fill="#e3101e"/>
<rect x="91.2" y="558.8" width="5.4" height="5.4" fill="#e3101e"/>
<rect x="97.6" y="553.5" width="5.4" height="5.4" fill="#e3101e"/>
<rect x="106.1" y="555.0" width="5.4" height="5.4" fill="#e3101e"/>
<rect x="112.6" y="558.1" width="5.4" height="5.4" fill="#e3101e"/>
<rect x="127.4" y="563.5" width="5.4" height="5.4" fill="#e3101e"/>
<rect x="142.5" y="553.8" width="5.4" height="5.4" fill="#e3101e"/>
<rect x="162.5" y="531.0" width="5.4" height="5.4" fill="#e3101e"/>
<rect x="180.1" y="534.1" width="5.4" height="5.4" fill="#e3101e"/>
<rect x="198.1" y="517.2" width="5.4" height="5.4" fill="#e3101e"/>
<rect x="216.0" y="502.4" width="5.4" height="5.4" fill="#e3101e"/>
<rect x="234.2" y="488.6" width="5.4" height="5.4" fill="#e3101e"/>
<line x1="43.0" y1="569.2" x2="151.0" y2="569.2" stroke="#000" stroke-width="1.7" />
<line x1="157.5" y1="569.2" x2="237.6" y2="569.2" stroke="#000" stroke-width="1.7" />
<circle cx="55.3" cy="568.0" r="2.5" fill="#1812a8"/>
<circle cx="85.2" cy="569.0" r="2.5" fill="#1812a8"/>
<circle cx="93.9" cy="569.0" r="2.5" fill="#1812a8"/>
<circle cx="100.3" cy="569.0" r="2.5" fill="#1812a8"/>
<circle cx="108.8" cy="569.0" r="2.5" fill="#1812a8"/>
<circle cx="115.3" cy="569.0" r="2.5" fill="#1812a8"/>
<circle cx="130.1" cy="569.0" r="2.5" fill="#1812a8"/>
<circle cx="145.2" cy="568.5" r="2.5" fill="#1812a8"/>
<circle cx="165.2" cy="568.5" r="2.5" fill="#1812a8"/>
<circle cx="182.8" cy="568.5" r="2.5" fill="#1812a8"/>
<circle cx="200.8" cy="568.5" r="2.5" fill="#1812a8"/>
<circle cx="218.7" cy="568.3" r="2.5" fill="#1812a8"/>
<circle cx="236.9" cy="567.5" r="2.5" fill="#1812a8"/>
<line x1="315.8" y1="441.0" x2="315.8" y2="475.6" stroke="#000" stroke-width="1.6" />
<line x1="311.3" y1="441.5" x2="315.8" y2="441.5" stroke="#000" stroke-width="1.4" />
<text transform="translate(310.5,444.9) scale(0.95,1)" font-size="9.8" font-weight="700" text-anchor="end" fill="#111" stroke="#111" stroke-width="0.12" >1200</text>
<line x1="311.3" y1="458.5" x2="315.8" y2="458.5" stroke="#000" stroke-width="1.4" />
<text transform="translate(310.5,461.9) scale(0.95,1)" font-size="9.8" font-weight="700" text-anchor="end" fill="#111" stroke="#111" stroke-width="0.12" >800</text>
<line x1="311.3" y1="475.4" x2="315.8" y2="475.4" stroke="#000" stroke-width="1.4" />
<text transform="translate(310.5,478.8) scale(0.95,1)" font-size="9.8" font-weight="700" text-anchor="end" fill="#111" stroke="#111" stroke-width="0.12" >400</text>
<line x1="314.3" y1="476.8" x2="318.8" y2="476.8" stroke="#000" stroke-width="1.5" />
<line x1="315.8" y1="486.7" x2="315.8" y2="571.0" stroke="#000" stroke-width="1.6" />
<line x1="313.3" y1="486.7" x2="318.3" y2="486.7" stroke="#000" stroke-width="1.5" />
<line x1="311.3" y1="498.8" x2="315.8" y2="498.8" stroke="#000" stroke-width="1.4" />
<text transform="translate(310.5,502.2) scale(0.95,1)" font-size="9.8" font-weight="700" text-anchor="end" fill="#111" stroke="#111" stroke-width="0.12" >300</text>
<line x1="311.3" y1="522.7" x2="315.8" y2="522.7" stroke="#000" stroke-width="1.4" />
<text transform="translate(310.5,526.1) scale(0.95,1)" font-size="9.8" font-weight="700" text-anchor="end" fill="#111" stroke="#111" stroke-width="0.12" >200</text>
<line x1="311.3" y1="546.7" x2="315.8" y2="546.7" stroke="#000" stroke-width="1.4" />
<text transform="translate(310.5,550.1) scale(0.95,1)" font-size="9.8" font-weight="700" text-anchor="end" fill="#111" stroke="#111" stroke-width="0.12" >100</text>
<line x1="311.3" y1="570.6" x2="315.8" y2="570.6" stroke="#000" stroke-width="1.4" />
<text transform="translate(310.5,574.0) scale(0.95,1)" font-size="9.8" font-weight="700" text-anchor="end" fill="#111" stroke="#111" stroke-width="0.12" >0</text>
<line x1="315.8" y1="570.8" x2="422.5" y2="570.8" stroke="#000" stroke-width="1.7" />
<line x1="316.2" y1="570.8" x2="316.2" y2="574.8" stroke="#000" stroke-width="1.5" />
<text transform="translate(316.2,584.0) scale(0.95,1)" font-size="9.8" font-weight="700" text-anchor="middle" fill="#111" stroke="#111" stroke-width="0.12" >-20</text>
<line x1="337.0" y1="570.8" x2="337.0" y2="574.8" stroke="#000" stroke-width="1.5" />
<text transform="translate(337.0,584.0) scale(0.95,1)" font-size="9.8" font-weight="700" text-anchor="middle" fill="#111" stroke="#111" stroke-width="0.12" >-10</text>
<line x1="358.2" y1="570.8" x2="358.2" y2="574.8" stroke="#000" stroke-width="1.5" />
<text transform="translate(358.2,584.0) scale(0.95,1)" font-size="9.8" font-weight="700" text-anchor="middle" fill="#111" stroke="#111" stroke-width="0.12" >0</text>
<line x1="379.6" y1="570.8" x2="379.6" y2="574.8" stroke="#000" stroke-width="1.5" />
<text transform="translate(379.6,584.0) scale(0.95,1)" font-size="9.8" font-weight="700" text-anchor="middle" fill="#111" stroke="#111" stroke-width="0.12" >10</text>
<line x1="400.9" y1="570.8" x2="400.9" y2="574.8" stroke="#000" stroke-width="1.5" />
<text transform="translate(400.9,584.0) scale(0.95,1)" font-size="9.8" font-weight="700" text-anchor="middle" fill="#111" stroke="#111" stroke-width="0.12" >20</text>
<line x1="422.0" y1="570.8" x2="422.0" y2="574.8" stroke="#000" stroke-width="1.5" />
<text transform="translate(422.0,584.0) scale(0.95,1)" font-size="9.8" font-weight="700" text-anchor="middle" fill="#111" stroke="#111" stroke-width="0.12" >30</text>
<line x1="326.6" y1="570.8" x2="326.6" y2="573.3" stroke="#000" stroke-width="1.2" />
<line x1="347.6" y1="570.8" x2="347.6" y2="573.3" stroke="#000" stroke-width="1.2" />
<line x1="368.9" y1="570.8" x2="368.9" y2="573.3" stroke="#000" stroke-width="1.2" />
<line x1="390.2" y1="570.8" x2="390.2" y2="573.3" stroke="#000" stroke-width="1.2" />
<line x1="411.4" y1="570.8" x2="411.4" y2="573.3" stroke="#000" stroke-width="1.2" />
<line x1="431.5" y1="570.8" x2="509.8" y2="570.8" stroke="#000" stroke-width="1.7" />
<line x1="437.9" y1="570.8" x2="437.9" y2="574.8" stroke="#000" stroke-width="1.5" />
<text transform="translate(437.9,584.0) scale(0.95,1)" font-size="9.8" font-weight="700" text-anchor="middle" fill="#111" stroke="#111" stroke-width="0.12" >60</text>
<line x1="455.8" y1="570.8" x2="455.8" y2="574.8" stroke="#000" stroke-width="1.5" />
<text transform="translate(455.8,584.0) scale(0.95,1)" font-size="9.8" font-weight="700" text-anchor="middle" fill="#111" stroke="#111" stroke-width="0.12" >90</text>
<line x1="473.5" y1="570.8" x2="473.5" y2="574.8" stroke="#000" stroke-width="1.5" />
<text transform="translate(473.5,584.0) scale(0.95,1)" font-size="9.8" font-weight="700" text-anchor="middle" fill="#111" stroke="#111" stroke-width="0.12" >120</text>
<line x1="491.7" y1="570.8" x2="491.7" y2="574.8" stroke="#000" stroke-width="1.5" />
<text transform="translate(491.7,584.0) scale(0.95,1)" font-size="9.8" font-weight="700" text-anchor="middle" fill="#111" stroke="#111" stroke-width="0.12" >150</text>
<line x1="509.2" y1="570.8" x2="509.2" y2="574.8" stroke="#000" stroke-width="1.5" />
<text transform="translate(509.2,584.0) scale(0.95,1)" font-size="9.8" font-weight="700" text-anchor="middle" fill="#111" stroke="#111" stroke-width="0.12" >180</text>
<line x1="433.5" y1="570.8" x2="433.5" y2="573.3" stroke="#000" stroke-width="1.2" />
<line x1="337.2" y1="440.3" x2="337.2" y2="570.0" stroke="#000" stroke-width="1.8" stroke-dasharray="3.7 2.2"/>
<line x1="357.4" y1="440.3" x2="357.4" y2="570.0" stroke="#000" stroke-width="1.8" stroke-dasharray="3.7 2.2"/>
<text transform="translate(289.6,505.8) rotate(-90)" font-size="10.6" font-weight="700" text-anchor="middle" fill="#111" stroke="#111" stroke-width="0.12"># CD3+CD4+ cells/mm<tspan font-size="7.8" dy="-4.6" dx="0.3">3</tspan></text>
<text x="414.0" y="601.3" font-size="11.2" font-weight="400" text-anchor="middle" fill="#1a1a1a" stroke="#1a1a1a" stroke-width="0.28" >Days</text>
<line x1="436.6" y1="452.0" x2="456.2" y2="452.0" stroke="#1812a8" stroke-width="2.0" />
<circle cx="446.4" cy="452.0" r="2.4" fill="#1812a8"/>
<text x="458.6" y="455.7" font-size="10.6" font-weight="400" text-anchor="start" fill="#1a1a1a" stroke="#1a1a1a" stroke-width="0.28" >Effector</text>
<line x1="436.6" y1="467.8" x2="456.2" y2="467.8" stroke="#000" stroke-width="2.0" />
<path d="M446.4,464.8 L449.4,470.1 L443.4,470.1Z" fill="#000"/>
<text x="458.6" y="471.5" font-size="10.6" font-weight="400" text-anchor="start" fill="#1a1a1a" stroke="#1a1a1a" stroke-width="0.28" >Memory</text>
<line x1="436.6" y1="483.0" x2="456.2" y2="483.0" stroke="#e3101e" stroke-width="2.0" />
<rect x="443.8" y="480.4" width="5.1" height="5.1" fill="#e3101e"/>
<text x="458.6" y="486.7" font-size="10.6" font-weight="400" text-anchor="start" fill="#1a1a1a" stroke="#1a1a1a" stroke-width="0.28" >Naive</text>
<line x1="328.2" y1="539.2" x2="328.2" y2="548.3" stroke="#1812a8" stroke-width="1.3" />
<line x1="325.3" y1="539.2" x2="331.1" y2="539.2" stroke="#1812a8" stroke-width="1.4000000000000001" />
<line x1="325.3" y1="548.3" x2="331.1" y2="548.3" stroke="#1812a8" stroke-width="1.4000000000000001" />
<line x1="491.7" y1="561.7" x2="491.7" y2="566.5" stroke="#1812a8" stroke-width="1.3" />
<line x1="488.8" y1="561.7" x2="494.6" y2="561.7" stroke="#1812a8" stroke-width="1.4000000000000001" />
<line x1="488.8" y1="566.5" x2="494.6" y2="566.5" stroke="#1812a8" stroke-width="1.4000000000000001" />
<line x1="509.2" y1="551.2" x2="509.2" y2="564.6" stroke="#1812a8" stroke-width="1.3" />
<line x1="506.3" y1="551.2" x2="512.1" y2="551.2" stroke="#1812a8" stroke-width="1.4000000000000001" />
<line x1="506.3" y1="564.6" x2="512.1" y2="564.6" stroke="#1812a8" stroke-width="1.4000000000000001" />
<line x1="358.0" y1="554.6" x2="358.0" y2="568.0" stroke="#1c1c1c" stroke-width="1.3" />
<line x1="355.1" y1="554.6" x2="360.9" y2="554.6" stroke="#1c1c1c" stroke-width="1.4000000000000001" />
<line x1="355.1" y1="568.0" x2="360.9" y2="568.0" stroke="#1c1c1c" stroke-width="1.4000000000000001" />
<line x1="366.5" y1="555.4" x2="366.5" y2="568.5" stroke="#1c1c1c" stroke-width="1.3" />
<line x1="363.6" y1="555.4" x2="369.4" y2="555.4" stroke="#1c1c1c" stroke-width="1.4000000000000001" />
<line x1="363.6" y1="568.5" x2="369.4" y2="568.5" stroke="#1c1c1c" stroke-width="1.4000000000000001" />
<line x1="372.9" y1="555.4" x2="372.9" y2="570.0" stroke="#1c1c1c" stroke-width="1.3" />
<line x1="370.0" y1="555.4" x2="375.8" y2="555.4" stroke="#1c1c1c" stroke-width="1.4000000000000001" />
<line x1="370.0" y1="570.0" x2="375.8" y2="570.0" stroke="#1c1c1c" stroke-width="1.4000000000000001" />
<line x1="381.4" y1="557.0" x2="381.4" y2="570.0" stroke="#1c1c1c" stroke-width="1.3" />
<line x1="378.5" y1="557.0" x2="384.3" y2="557.0" stroke="#1c1c1c" stroke-width="1.4000000000000001" />
<line x1="378.5" y1="570.0" x2="384.3" y2="570.0" stroke="#1c1c1c" stroke-width="1.4000000000000001" />
<line x1="387.8" y1="551.5" x2="387.8" y2="568.0" stroke="#1c1c1c" stroke-width="1.3" />
<line x1="384.9" y1="551.5" x2="390.7" y2="551.5" stroke="#1c1c1c" stroke-width="1.4000000000000001" />
<line x1="384.9" y1="568.0" x2="390.7" y2="568.0" stroke="#1c1c1c" stroke-width="1.4000000000000001" />
<line x1="402.7" y1="545.0" x2="402.7" y2="559.5" stroke="#1c1c1c" stroke-width="1.3" />
<line x1="399.8" y1="545.0" x2="405.6" y2="545.0" stroke="#1c1c1c" stroke-width="1.4000000000000001" />
<line x1="399.8" y1="559.5" x2="405.6" y2="559.5" stroke="#1c1c1c" stroke-width="1.4000000000000001" />
<line x1="417.6" y1="542.6" x2="417.6" y2="551.8" stroke="#1c1c1c" stroke-width="1.3" />
<line x1="414.7" y1="542.6" x2="420.5" y2="542.6" stroke="#1c1c1c" stroke-width="1.4000000000000001" />
<line x1="414.7" y1="551.8" x2="420.5" y2="551.8" stroke="#1c1c1c" stroke-width="1.4000000000000001" />
<line x1="437.9" y1="507.3" x2="437.9" y2="528.0" stroke="#1c1c1c" stroke-width="1.3" />
<line x1="435.0" y1="507.3" x2="440.8" y2="507.3" stroke="#1c1c1c" stroke-width="1.4000000000000001" />
<line x1="435.0" y1="528.0" x2="440.8" y2="528.0" stroke="#1c1c1c" stroke-width="1.4000000000000001" />
<line x1="509.2" y1="489.0" x2="509.2" y2="494.0" stroke="#1c1c1c" stroke-width="1.3" />
<line x1="506.3" y1="489.0" x2="512.1" y2="489.0" stroke="#1c1c1c" stroke-width="1.4000000000000001" />
<line x1="506.3" y1="494.0" x2="512.1" y2="494.0" stroke="#1c1c1c" stroke-width="1.4000000000000001" />
<line x1="328.2" y1="464.4" x2="328.2" y2="471.5" stroke="#dc2a36" stroke-width="1.3" />
<line x1="325.3" y1="464.4" x2="331.1" y2="464.4" stroke="#dc2a36" stroke-width="1.4000000000000001" />
<line x1="325.3" y1="471.5" x2="331.1" y2="471.5" stroke="#dc2a36" stroke-width="1.4000000000000001" />
<line x1="358.0" y1="559.0" x2="358.0" y2="567.0" stroke="#dc2a36" stroke-width="1.3" />
<line x1="355.1" y1="559.0" x2="360.9" y2="559.0" stroke="#dc2a36" stroke-width="1.4000000000000001" />
<line x1="355.1" y1="567.0" x2="360.9" y2="567.0" stroke="#dc2a36" stroke-width="1.4000000000000001" />
<line x1="366.5" y1="563.0" x2="366.5" y2="568.0" stroke="#dc2a36" stroke-width="1.3" />
<line x1="363.6" y1="563.0" x2="369.4" y2="563.0" stroke="#dc2a36" stroke-width="1.4000000000000001" />
<line x1="363.6" y1="568.0" x2="369.4" y2="568.0" stroke="#dc2a36" stroke-width="1.4000000000000001" />
<line x1="372.9" y1="563.0" x2="372.9" y2="568.0" stroke="#dc2a36" stroke-width="1.3" />
<line x1="370.0" y1="563.0" x2="375.8" y2="563.0" stroke="#dc2a36" stroke-width="1.4000000000000001" />
<line x1="370.0" y1="568.0" x2="375.8" y2="568.0" stroke="#dc2a36" stroke-width="1.4000000000000001" />
<line x1="381.4" y1="562.0" x2="381.4" y2="568.0" stroke="#dc2a36" stroke-width="1.3" />
<line x1="378.5" y1="562.0" x2="384.3" y2="562.0" stroke="#dc2a36" stroke-width="1.4000000000000001" />
<line x1="378.5" y1="568.0" x2="384.3" y2="568.0" stroke="#dc2a36" stroke-width="1.4000000000000001" />
<line x1="387.8" y1="562.0" x2="387.8" y2="568.0" stroke="#dc2a36" stroke-width="1.3" />
<line x1="384.9" y1="562.0" x2="390.7" y2="562.0" stroke="#dc2a36" stroke-width="1.4000000000000001" />
<line x1="384.9" y1="568.0" x2="390.7" y2="568.0" stroke="#dc2a36" stroke-width="1.4000000000000001" />
<line x1="402.7" y1="564.0" x2="402.7" y2="569.0" stroke="#dc2a36" stroke-width="1.3" />
<line x1="399.8" y1="564.0" x2="405.6" y2="564.0" stroke="#dc2a36" stroke-width="1.4000000000000001" />
<line x1="399.8" y1="569.0" x2="405.6" y2="569.0" stroke="#dc2a36" stroke-width="1.4000000000000001" />
<line x1="417.6" y1="562.0" x2="417.6" y2="566.5" stroke="#dc2a36" stroke-width="1.3" />
<line x1="414.7" y1="562.0" x2="420.5" y2="562.0" stroke="#dc2a36" stroke-width="1.4000000000000001" />
<line x1="414.7" y1="566.5" x2="420.5" y2="566.5" stroke="#dc2a36" stroke-width="1.4000000000000001" />
<line x1="437.9" y1="543.0" x2="437.9" y2="557.0" stroke="#dc2a36" stroke-width="1.3" />
<line x1="435.0" y1="543.0" x2="440.8" y2="543.0" stroke="#dc2a36" stroke-width="1.4000000000000001" />
<line x1="435.0" y1="557.0" x2="440.8" y2="557.0" stroke="#dc2a36" stroke-width="1.4000000000000001" />
<line x1="455.8" y1="533.5" x2="455.8" y2="554.0" stroke="#dc2a36" stroke-width="1.3" />
<line x1="452.9" y1="533.5" x2="458.7" y2="533.5" stroke="#dc2a36" stroke-width="1.4000000000000001" />
<line x1="452.9" y1="554.0" x2="458.7" y2="554.0" stroke="#dc2a36" stroke-width="1.4000000000000001" />
<line x1="473.5" y1="528.5" x2="473.5" y2="554.6" stroke="#dc2a36" stroke-width="1.3" />
<line x1="470.6" y1="528.5" x2="476.4" y2="528.5" stroke="#dc2a36" stroke-width="1.4000000000000001" />
<line x1="470.6" y1="554.6" x2="476.4" y2="554.6" stroke="#dc2a36" stroke-width="1.4000000000000001" />
<line x1="491.7" y1="520.8" x2="491.7" y2="552.7" stroke="#dc2a36" stroke-width="1.3" />
<line x1="488.8" y1="520.8" x2="494.6" y2="520.8" stroke="#dc2a36" stroke-width="1.4000000000000001" />
<line x1="488.8" y1="552.7" x2="494.6" y2="552.7" stroke="#dc2a36" stroke-width="1.4000000000000001" />
<line x1="509.2" y1="526.2" x2="509.2" y2="557.0" stroke="#dc2a36" stroke-width="1.3" />
<line x1="506.3" y1="526.2" x2="512.1" y2="526.2" stroke="#dc2a36" stroke-width="1.4000000000000001" />
<line x1="506.3" y1="557.0" x2="512.1" y2="557.0" stroke="#dc2a36" stroke-width="1.4000000000000001" />
<polyline points="328.2,544.4 358.0,569.4 366.5,570.3 372.9,570.6 381.4,570.3 387.8,570.0 402.7,569.5 417.6,568.8 422.5,567.8" fill="none" stroke="#1812a8" stroke-width="2.2" stroke-linejoin="miter" />
<polyline points="431.5,565.9 437.9,564.6 455.8,566.5 473.5,567.1 491.7,564.2 509.2,557.9" fill="none" stroke="#1812a8" stroke-width="2.2" stroke-linejoin="miter" />
<polyline points="358.0,562.0 366.5,563.0 372.9,563.8 381.4,564.6 387.8,560.5 402.7,552.8 417.6,547.0 422.5,540.0" fill="none" stroke="#000" stroke-width="2.5" stroke-linejoin="miter" />
<polyline points="431.5,527.1 437.9,518.0 455.8,532.0 473.5,520.4 491.7,510.4 509.2,491.5" fill="none" stroke="#000" stroke-width="2.5" stroke-linejoin="miter" />
<polyline points="328.2,468.0 331.0,476.8" fill="none" stroke="#e3101e" stroke-width="2.5" stroke-linejoin="miter" />
<polyline points="333.5,486.7 358.0,563.0 366.5,565.4 372.9,565.4 381.4,565.4 387.8,565.4 402.7,566.6 417.6,564.2 422.5,560.7" fill="none" stroke="#e3101e" stroke-width="2.5" stroke-linejoin="miter" />
<polyline points="431.5,554.2 437.9,549.6 455.8,543.5 473.5,541.5 491.7,536.2 509.2,541.2" fill="none" stroke="#e3101e" stroke-width="2.5" stroke-linejoin="miter" />
<circle cx="328.2" cy="544.4" r="2.5" fill="#1812a8"/>
<circle cx="358.0" cy="569.4" r="2.5" fill="#1812a8"/>
<circle cx="366.5" cy="570.3" r="2.5" fill="#1812a8"/>
<circle cx="372.9" cy="570.6" r="2.5" fill="#1812a8"/>
<circle cx="381.4" cy="570.3" r="2.5" fill="#1812a8"/>
<circle cx="387.8" cy="570.0" r="2.5" fill="#1812a8"/>
<circle cx="402.7" cy="569.5" r="2.5" fill="#1812a8"/>
<circle cx="417.6" cy="568.8" r="2.5" fill="#1812a8"/>
<circle cx="437.9" cy="564.6" r="2.5" fill="#1812a8"/>
<circle cx="455.8" cy="566.5" r="2.5" fill="#1812a8"/>
<circle cx="473.5" cy="567.1" r="2.5" fill="#1812a8"/>
<circle cx="491.7" cy="564.2" r="2.5" fill="#1812a8"/>
<circle cx="509.2" cy="557.9" r="2.5" fill="#1812a8"/>
<path d="M358.0,558.8 L361.2,564.4 L354.8,564.4Z" fill="#000"/>
<path d="M366.5,559.8 L369.7,565.4 L363.3,565.4Z" fill="#000"/>
<path d="M372.9,560.6 L376.1,566.2 L369.7,566.2Z" fill="#000"/>
<path d="M381.4,561.4 L384.6,567.0 L378.2,567.0Z" fill="#000"/>
<path d="M387.8,557.3 L391.0,562.9 L384.6,562.9Z" fill="#000"/>
<path d="M402.7,549.6 L405.9,555.2 L399.5,555.2Z" fill="#000"/>
<path d="M417.6,543.8 L420.8,549.4 L414.4,549.4Z" fill="#000"/>
<path d="M437.9,514.8 L441.1,520.4 L434.7,520.4Z" fill="#000"/>
<path d="M455.8,528.8 L459.0,534.4 L452.6,534.4Z" fill="#000"/>
<path d="M473.5,517.2 L476.7,522.8 L470.3,522.8Z" fill="#000"/>
<path d="M491.7,507.2 L494.9,512.8 L488.5,512.8Z" fill="#000"/>
<path d="M509.2,488.3 L512.4,493.9 L506.0,493.9Z" fill="#000"/>
<rect x="325.5" y="465.3" width="5.4" height="5.4" fill="#e3101e"/>
<rect x="355.3" y="560.3" width="5.4" height="5.4" fill="#e3101e"/>
<rect x="363.8" y="562.7" width="5.4" height="5.4" fill="#e3101e"/>
<rect x="370.2" y="562.7" width="5.4" height="5.4" fill="#e3101e"/>
<rect x="378.7" y="562.7" width="5.4" height="5.4" fill="#e3101e"/>
<rect x="385.1" y="562.7" width="5.4" height="5.4" fill="#e3101e"/>
<rect x="400.0" y="563.9" width="5.4" height="5.4" fill="#e3101e"/>
<rect x="414.9" y="561.5" width="5.4" height="5.4" fill="#e3101e"/>
<rect x="435.2" y="546.9" width="5.4" height="5.4" fill="#e3101e"/>
<rect x="453.1" y="540.8" width="5.4" height="5.4" fill="#e3101e"/>
<rect x="470.8" y="538.8" width="5.4" height="5.4" fill="#e3101e"/>
<rect x="489.0" y="533.5" width="5.4" height="5.4" fill="#e3101e"/>
<rect x="506.5" y="538.5" width="5.4" height="5.4" fill="#e3101e"/>
<line x1="40.6" y1="652.5" x2="40.6" y2="783.3" stroke="#000" stroke-width="1.7" />
<line x1="36.1" y1="653.1" x2="40.6" y2="653.1" stroke="#000" stroke-width="1.5" />
<text x="35.3" y="656.6" font-size="9.9" font-weight="700" text-anchor="end" fill="#111" stroke="#111" stroke-width="0.12" >100</text>
<line x1="36.1" y1="685.5" x2="40.6" y2="685.5" stroke="#000" stroke-width="1.5" />
<text x="35.3" y="689.0" font-size="9.9" font-weight="700" text-anchor="end" fill="#111" stroke="#111" stroke-width="0.12" >75</text>
<line x1="36.1" y1="717.9" x2="40.6" y2="717.9" stroke="#000" stroke-width="1.5" />
<text x="35.3" y="721.4" font-size="9.9" font-weight="700" text-anchor="end" fill="#111" stroke="#111" stroke-width="0.12" >50</text>
<line x1="36.1" y1="750.2" x2="40.6" y2="750.2" stroke="#000" stroke-width="1.5" />
<text x="35.3" y="753.7" font-size="9.9" font-weight="700" text-anchor="end" fill="#111" stroke="#111" stroke-width="0.12" >25</text>
<line x1="36.1" y1="782.6" x2="40.6" y2="782.6" stroke="#000" stroke-width="1.5" />
<text x="35.3" y="786.1" font-size="9.9" font-weight="700" text-anchor="end" fill="#111" stroke="#111" stroke-width="0.12" >0</text>
<line x1="40.6" y1="782.6" x2="234.6" y2="782.6" stroke="#000" stroke-width="1.7" />
<line x1="40.2" y1="782.6" x2="40.2" y2="786.6" stroke="#000" stroke-width="1.5" />
<text x="40.2" y="796.2" font-size="9.9" font-weight="700" text-anchor="middle" fill="#111" stroke="#111" stroke-width="0.12" >-20</text>
<line x1="79.0" y1="782.6" x2="79.0" y2="786.6" stroke="#000" stroke-width="1.5" />
<text x="79.0" y="796.2" font-size="9.9" font-weight="700" text-anchor="middle" fill="#111" stroke="#111" stroke-width="0.12" >-10</text>
<line x1="117.8" y1="782.6" x2="117.8" y2="786.6" stroke="#000" stroke-width="1.5" />
<text x="117.8" y="796.2" font-size="9.9" font-weight="700" text-anchor="middle" fill="#111" stroke="#111" stroke-width="0.12" >0</text>
<line x1="156.6" y1="782.6" x2="156.6" y2="786.6" stroke="#000" stroke-width="1.5" />
<text x="156.6" y="796.2" font-size="9.9" font-weight="700" text-anchor="middle" fill="#111" stroke="#111" stroke-width="0.12" >10</text>
<line x1="195.4" y1="782.6" x2="195.4" y2="786.6" stroke="#000" stroke-width="1.5" />
<text x="195.4" y="796.2" font-size="9.9" font-weight="700" text-anchor="middle" fill="#111" stroke="#111" stroke-width="0.12" >20</text>
<line x1="234.2" y1="782.6" x2="234.2" y2="786.6" stroke="#000" stroke-width="1.5" />
<text x="234.2" y="796.2" font-size="9.9" font-weight="700" text-anchor="middle" fill="#111" stroke="#111" stroke-width="0.12" >30</text>
<line x1="59.6" y1="782.6" x2="59.6" y2="785.1" stroke="#000" stroke-width="1.2" />
<line x1="98.4" y1="782.6" x2="98.4" y2="785.1" stroke="#000" stroke-width="1.2" />
<line x1="137.2" y1="782.6" x2="137.2" y2="785.1" stroke="#000" stroke-width="1.2" />
<line x1="176.0" y1="782.6" x2="176.0" y2="785.1" stroke="#000" stroke-width="1.2" />
<line x1="214.8" y1="782.6" x2="214.8" y2="785.1" stroke="#000" stroke-width="1.2" />
<line x1="79.3" y1="652.0" x2="79.3" y2="782.0" stroke="#000" stroke-width="1.8" stroke-dasharray="3.7 2.2"/>
<line x1="116.1" y1="652.0" x2="116.1" y2="782.0" stroke="#000" stroke-width="1.8" stroke-dasharray="3.7 2.2"/>
<text transform="translate(12.5,715.2) rotate(-90)" font-size="10.5" font-weight="700" text-anchor="middle" fill="#111" stroke="#111" stroke-width="0.12">% of CD3+CD4+</text>
<text x="137.1" y="808.8" font-size="11.2" font-weight="400" text-anchor="middle" fill="#1a1a1a" stroke="#1a1a1a" stroke-width="0.28" >Days</text>
<line x1="156.3" y1="642.7" x2="175.6" y2="642.7" stroke="#1812a8" stroke-width="2.0" />
<circle cx="165.9" cy="642.7" r="2.4" fill="#1812a8"/>
<text x="178.6" y="646.4" font-size="10.6" font-weight="400" text-anchor="start" fill="#1a1a1a" stroke="#1a1a1a" stroke-width="0.28" >Effector</text>
<line x1="156.3" y1="658.0" x2="175.6" y2="658.0" stroke="#000" stroke-width="2.0" />
<path d="M165.9,655.0 L169.0,660.3 L162.9,660.3Z" fill="#000"/>
<text x="178.6" y="661.7" font-size="10.6" font-weight="400" text-anchor="start" fill="#1a1a1a" stroke="#1a1a1a" stroke-width="0.28" >Memory</text>
<line x1="156.3" y1="673.1" x2="175.6" y2="673.1" stroke="#e3101e" stroke-width="2.0" />
<rect x="163.4" y="670.5" width="5.1" height="5.1" fill="#e3101e"/>
<text x="178.6" y="676.8" font-size="10.6" font-weight="400" text-anchor="start" fill="#1a1a1a" stroke="#1a1a1a" stroke-width="0.28" >Naive</text>
<line x1="63.5" y1="748.7" x2="63.5" y2="755.4" stroke="#1c1c1c" stroke-width="1.3" />
<line x1="60.6" y1="748.7" x2="66.4" y2="748.7" stroke="#1c1c1c" stroke-width="1.4000000000000001" />
<line x1="60.6" y1="755.4" x2="66.4" y2="755.4" stroke="#1c1c1c" stroke-width="1.4000000000000001" />
<line x1="117.8" y1="691.2" x2="117.8" y2="708.7" stroke="#1c1c1c" stroke-width="1.3" />
<line x1="114.9" y1="691.2" x2="120.7" y2="691.2" stroke="#1c1c1c" stroke-width="1.4000000000000001" />
<line x1="114.9" y1="708.7" x2="120.7" y2="708.7" stroke="#1c1c1c" stroke-width="1.4000000000000001" />
<line x1="160.5" y1="706.4" x2="160.5" y2="717.7" stroke="#1c1c1c" stroke-width="1.3" />
<line x1="157.6" y1="706.4" x2="163.4" y2="706.4" stroke="#1c1c1c" stroke-width="1.4000000000000001" />
<line x1="157.6" y1="717.7" x2="163.4" y2="717.7" stroke="#1c1c1c" stroke-width="1.4000000000000001" />
<line x1="226.4" y1="712.8" x2="226.4" y2="720.4" stroke="#1c1c1c" stroke-width="1.3" />
<line x1="223.5" y1="712.8" x2="229.3" y2="712.8" stroke="#1c1c1c" stroke-width="1.4000000000000001" />
<line x1="223.5" y1="720.4" x2="229.3" y2="720.4" stroke="#1c1c1c" stroke-width="1.4000000000000001" />
<line x1="63.5" y1="685.2" x2="63.5" y2="691.9" stroke="#dc2a36" stroke-width="1.3" />
<line x1="60.6" y1="685.2" x2="66.4" y2="685.2" stroke="#dc2a36" stroke-width="1.4000000000000001" />
<line x1="60.6" y1="691.9" x2="66.4" y2="691.9" stroke="#dc2a36" stroke-width="1.4000000000000001" />
<line x1="117.8" y1="730.7" x2="117.8" y2="747.6" stroke="#dc2a36" stroke-width="1.3" />
<line x1="114.9" y1="730.7" x2="120.7" y2="730.7" stroke="#dc2a36" stroke-width="1.4000000000000001" />
<line x1="114.9" y1="747.6" x2="120.7" y2="747.6" stroke="#dc2a36" stroke-width="1.4000000000000001" />
<line x1="160.5" y1="724.4" x2="160.5" y2="734.7" stroke="#dc2a36" stroke-width="1.3" />
<line x1="157.6" y1="724.4" x2="163.4" y2="724.4" stroke="#dc2a36" stroke-width="1.4000000000000001" />
<line x1="157.6" y1="734.7" x2="163.4" y2="734.7" stroke="#dc2a36" stroke-width="1.4000000000000001" />
<line x1="226.4" y1="723.0" x2="226.4" y2="731.2" stroke="#dc2a36" stroke-width="1.3" />
<line x1="223.5" y1="723.0" x2="229.3" y2="723.0" stroke="#dc2a36" stroke-width="1.4000000000000001" />
<line x1="223.5" y1="731.2" x2="229.3" y2="731.2" stroke="#dc2a36" stroke-width="1.4000000000000001" />
<polyline points="63.5,782.0 117.8,781.3 160.5,781.8 226.4,781.3" fill="none" stroke="#1812a8" stroke-width="2.2" stroke-linejoin="miter" />
<polyline points="63.5,752.5 117.8,699.7 160.5,712.3 226.4,717.7" fill="none" stroke="#000" stroke-width="2.5" stroke-linejoin="miter" />
<polyline points="63.5,688.5 117.8,738.5 160.5,729.3 226.4,727.1" fill="none" stroke="#e3101e" stroke-width="2.5" stroke-linejoin="miter" />
<circle cx="63.5" cy="782.0" r="2.5" fill="#1812a8"/>
<circle cx="117.8" cy="781.3" r="2.5" fill="#1812a8"/>
<circle cx="160.5" cy="781.8" r="2.5" fill="#1812a8"/>
<circle cx="226.4" cy="781.3" r="2.5" fill="#1812a8"/>
<path d="M63.5,749.3 L66.7,754.9 L60.3,754.9Z" fill="#000"/>
<path d="M117.8,696.5 L121.0,702.1 L114.6,702.1Z" fill="#000"/>
<path d="M160.5,709.1 L163.7,714.7 L157.3,714.7Z" fill="#000"/>
<path d="M226.4,714.5 L229.6,720.1 L223.2,720.1Z" fill="#000"/>
<rect x="60.8" y="685.8" width="5.4" height="5.4" fill="#e3101e"/>
<rect x="115.1" y="735.8" width="5.4" height="5.4" fill="#e3101e"/>
<rect x="157.8" y="726.6" width="5.4" height="5.4" fill="#e3101e"/>
<rect x="223.7" y="724.4" width="5.4" height="5.4" fill="#e3101e"/>
<line x1="316.0" y1="651.0" x2="316.0" y2="781.7" stroke="#000" stroke-width="1.7" />
<line x1="311.5" y1="651.5" x2="316.0" y2="651.5" stroke="#000" stroke-width="1.5" />
<text x="310.7" y="655.0" font-size="9.9" font-weight="700" text-anchor="end" fill="#111" stroke="#111" stroke-width="0.12" >100</text>
<line x1="311.5" y1="683.9" x2="316.0" y2="683.9" stroke="#000" stroke-width="1.5" />
<text x="310.7" y="687.4" font-size="9.9" font-weight="700" text-anchor="end" fill="#111" stroke="#111" stroke-width="0.12" >75</text>
<line x1="311.5" y1="716.2" x2="316.0" y2="716.2" stroke="#000" stroke-width="1.5" />
<text x="310.7" y="719.8" font-size="9.9" font-weight="700" text-anchor="end" fill="#111" stroke="#111" stroke-width="0.12" >50</text>
<line x1="311.5" y1="748.6" x2="316.0" y2="748.6" stroke="#000" stroke-width="1.5" />
<text x="310.7" y="752.1" font-size="9.9" font-weight="700" text-anchor="end" fill="#111" stroke="#111" stroke-width="0.12" >25</text>
<line x1="311.5" y1="781.0" x2="316.0" y2="781.0" stroke="#000" stroke-width="1.5" />
<text x="310.7" y="784.5" font-size="9.9" font-weight="700" text-anchor="end" fill="#111" stroke="#111" stroke-width="0.12" >0</text>
<line x1="316.0" y1="781.0" x2="510.6" y2="781.0" stroke="#000" stroke-width="1.7" />
<line x1="315.4" y1="781.0" x2="315.4" y2="785.0" stroke="#000" stroke-width="1.5" />
<text x="315.4" y="795.0" font-size="9.9" font-weight="700" text-anchor="middle" fill="#111" stroke="#111" stroke-width="0.12" >-20</text>
<line x1="354.2" y1="781.0" x2="354.2" y2="785.0" stroke="#000" stroke-width="1.5" />
<text x="354.2" y="795.0" font-size="9.9" font-weight="700" text-anchor="middle" fill="#111" stroke="#111" stroke-width="0.12" >-10</text>
<line x1="393.0" y1="781.0" x2="393.0" y2="785.0" stroke="#000" stroke-width="1.5" />
<text x="393.0" y="795.0" font-size="9.9" font-weight="700" text-anchor="middle" fill="#111" stroke="#111" stroke-width="0.12" >0</text>
<line x1="431.8" y1="781.0" x2="431.8" y2="785.0" stroke="#000" stroke-width="1.5" />
<text x="431.8" y="795.0" font-size="9.9" font-weight="700" text-anchor="middle" fill="#111" stroke="#111" stroke-width="0.12" >10</text>
<line x1="470.6" y1="781.0" x2="470.6" y2="785.0" stroke="#000" stroke-width="1.5" />
<text x="470.6" y="795.0" font-size="9.9" font-weight="700" text-anchor="middle" fill="#111" stroke="#111" stroke-width="0.12" >20</text>
<line x1="509.4" y1="781.0" x2="509.4" y2="785.0" stroke="#000" stroke-width="1.5" />
<text x="509.4" y="795.0" font-size="9.9" font-weight="700" text-anchor="middle" fill="#111" stroke="#111" stroke-width="0.12" >30</text>
<line x1="334.8" y1="781.0" x2="334.8" y2="783.5" stroke="#000" stroke-width="1.2" />
<line x1="373.6" y1="781.0" x2="373.6" y2="783.5" stroke="#000" stroke-width="1.2" />
<line x1="412.4" y1="781.0" x2="412.4" y2="783.5" stroke="#000" stroke-width="1.2" />
<line x1="451.2" y1="781.0" x2="451.2" y2="783.5" stroke="#000" stroke-width="1.2" />
<line x1="490.0" y1="781.0" x2="490.0" y2="783.5" stroke="#000" stroke-width="1.2" />
<line x1="354.4" y1="651.3" x2="354.4" y2="780.5" stroke="#000" stroke-width="1.8" stroke-dasharray="3.7 2.2"/>
<line x1="391.5" y1="651.3" x2="391.5" y2="780.5" stroke="#000" stroke-width="1.8" stroke-dasharray="3.7 2.2"/>
<text transform="translate(287.0,716.5) rotate(-90)" font-size="10.5" font-weight="700" text-anchor="middle" fill="#111" stroke="#111" stroke-width="0.12">% of CD3+CD4+</text>
<text x="413.0" y="808.5" font-size="11.2" font-weight="400" text-anchor="middle" fill="#1a1a1a" stroke="#1a1a1a" stroke-width="0.28" >Days</text>
<line x1="438.5" y1="628.2" x2="458.0" y2="628.2" stroke="#1812a8" stroke-width="2.0" />
<circle cx="448.2" cy="628.2" r="2.4" fill="#1812a8"/>
<text x="460.6" y="631.9" font-size="10.6" font-weight="400" text-anchor="start" fill="#1a1a1a" stroke="#1a1a1a" stroke-width="0.28" >Effector</text>
<line x1="438.5" y1="643.5" x2="458.0" y2="643.5" stroke="#000" stroke-width="2.0" />
<path d="M448.2,640.5 L451.3,645.8 L445.2,645.8Z" fill="#000"/>
<text x="460.6" y="647.2" font-size="10.6" font-weight="400" text-anchor="start" fill="#1a1a1a" stroke="#1a1a1a" stroke-width="0.28" >Memory</text>
<line x1="438.5" y1="659.2" x2="458.0" y2="659.2" stroke="#e3101e" stroke-width="2.0" />
<rect x="445.7" y="656.6" width="5.1" height="5.1" fill="#e3101e"/>
<text x="460.6" y="662.9" font-size="10.6" font-weight="400" text-anchor="start" fill="#1a1a1a" stroke="#1a1a1a" stroke-width="0.28" >Naive</text>
<line x1="338.7" y1="755.6" x2="338.7" y2="759.7" stroke="#1c1c1c" stroke-width="1.3" />
<line x1="335.8" y1="755.6" x2="341.6" y2="755.6" stroke="#1c1c1c" stroke-width="1.4000000000000001" />
<line x1="335.8" y1="759.7" x2="341.6" y2="759.7" stroke="#1c1c1c" stroke-width="1.4000000000000001" />
<line x1="393.0" y1="675.0" x2="393.0" y2="702.7" stroke="#1c1c1c" stroke-width="1.3" />
<line x1="390.1" y1="675.0" x2="395.9" y2="675.0" stroke="#1c1c1c" stroke-width="1.4000000000000001" />
<line x1="390.1" y1="702.7" x2="395.9" y2="702.7" stroke="#1c1c1c" stroke-width="1.4000000000000001" />
<line x1="435.7" y1="679.8" x2="435.7" y2="686.3" stroke="#1c1c1c" stroke-width="1.3" />
<line x1="432.8" y1="679.8" x2="438.6" y2="679.8" stroke="#1c1c1c" stroke-width="1.4000000000000001" />
<line x1="432.8" y1="686.3" x2="438.6" y2="686.3" stroke="#1c1c1c" stroke-width="1.4000000000000001" />
<line x1="501.6" y1="675.0" x2="501.6" y2="693.9" stroke="#1c1c1c" stroke-width="1.3" />
<line x1="498.7" y1="675.0" x2="504.5" y2="675.0" stroke="#1c1c1c" stroke-width="1.4000000000000001" />
<line x1="498.7" y1="693.9" x2="504.5" y2="693.9" stroke="#1c1c1c" stroke-width="1.4000000000000001" />
<line x1="338.7" y1="680.3" x2="338.7" y2="684.6" stroke="#dc2a36" stroke-width="1.3" />
<line x1="335.8" y1="680.3" x2="341.6" y2="680.3" stroke="#dc2a36" stroke-width="1.4000000000000001" />
<line x1="335.8" y1="684.6" x2="341.6" y2="684.6" stroke="#dc2a36" stroke-width="1.4000000000000001" />
<line x1="393.0" y1="735.0" x2="393.0" y2="764.0" stroke="#dc2a36" stroke-width="1.3" />
<line x1="390.1" y1="735.0" x2="395.9" y2="735.0" stroke="#dc2a36" stroke-width="1.4000000000000001" />
<line x1="390.1" y1="764.0" x2="395.9" y2="764.0" stroke="#dc2a36" stroke-width="1.4000000000000001" />
<line x1="435.7" y1="753.8" x2="435.7" y2="758.8" stroke="#dc2a36" stroke-width="1.3" />
<line x1="432.8" y1="753.8" x2="438.6" y2="753.8" stroke="#dc2a36" stroke-width="1.4000000000000001" />
<line x1="432.8" y1="758.8" x2="438.6" y2="758.8" stroke="#dc2a36" stroke-width="1.4000000000000001" />
<line x1="501.6" y1="745.5" x2="501.6" y2="763.9" stroke="#dc2a36" stroke-width="1.3" />
<line x1="498.7" y1="745.5" x2="504.5" y2="745.5" stroke="#dc2a36" stroke-width="1.4000000000000001" />
<line x1="498.7" y1="763.9" x2="504.5" y2="763.9" stroke="#dc2a36" stroke-width="1.4000000000000001" />
<polyline points="338.7,780.4 393.0,779.5 435.7,780.2 501.6,780.2" fill="none" stroke="#1812a8" stroke-width="2.2" stroke-linejoin="miter" />
<polyline points="338.7,758.0 393.0,689.3 435.7,683.1 501.6,685.2" fill="none" stroke="#000" stroke-width="2.5" stroke-linejoin="miter" />
<polyline points="338.7,682.3 393.0,749.3 435.7,756.3 501.6,754.4" fill="none" stroke="#e3101e" stroke-width="2.5" stroke-linejoin="miter" />
<circle cx="338.7" cy="780.4" r="2.5" fill="#1812a8"/>
<circle cx="393.0" cy="779.5" r="2.5" fill="#1812a8"/>
<circle cx="435.7" cy="780.2" r="2.5" fill="#1812a8"/>
<circle cx="501.6" cy="780.2" r="2.5" fill="#1812a8"/>
<path d="M338.7,754.8 L341.9,760.4 L335.5,760.4Z" fill="#000"/>
<path d="M393.0,686.1 L396.2,691.7 L389.8,691.7Z" fill="#000"/>
<path d="M435.7,679.9 L438.9,685.5 L432.5,685.5Z" fill="#000"/>
<path d="M501.6,682.0 L504.8,687.6 L498.4,687.6Z" fill="#000"/>
<rect x="336.0" y="679.6" width="5.4" height="5.4" fill="#e3101e"/>
<rect x="390.3" y="746.6" width="5.4" height="5.4" fill="#e3101e"/>
<rect x="433.0" y="753.6" width="5.4" height="5.4" fill="#e3101e"/>
<rect x="498.9" y="751.7" width="5.4" height="5.4" fill="#e3101e"/>
</svg></body></html>
